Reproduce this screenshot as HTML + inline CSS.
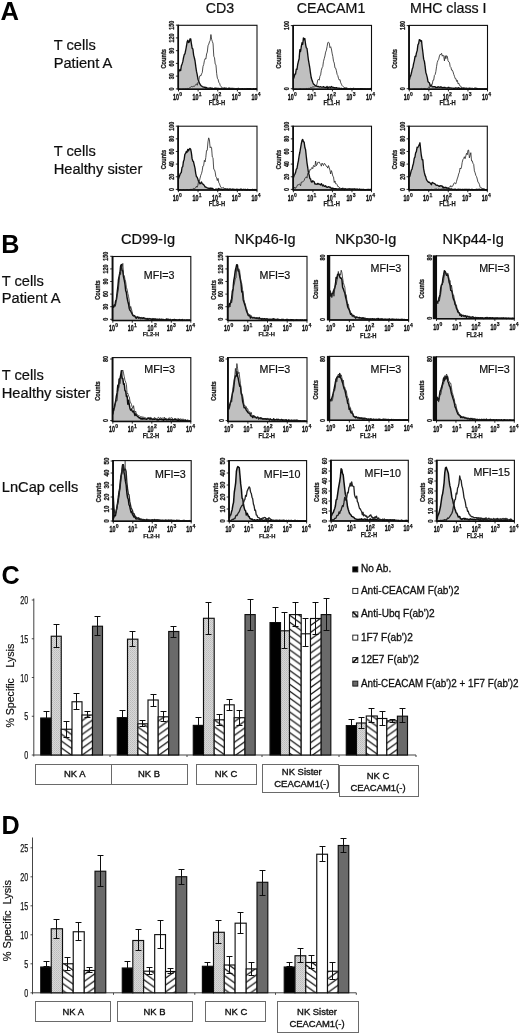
<!DOCTYPE html>
<html><head><meta charset="utf-8"><title>Figure</title>
<style>
html,body{margin:0;padding:0;background:#fff;}
body{width:520px;height:1035px;overflow:hidden;font-family:"Liberation Sans",sans-serif;}
svg{display:block;font-family:"Liberation Sans",sans-serif;will-change:transform;opacity:0.999;}
</style></head><body>
<svg width="520" height="1035" viewBox="0 0 520 1035">
<defs>
<pattern id="dots" width="2" height="2" patternUnits="userSpaceOnUse"><rect width="2" height="2" fill="#d8d8d8"/><rect width="1" height="1" fill="#bcbcbc"/><rect x="1" y="1" width="1" height="1" fill="#c4c4c4"/></pattern>
<pattern id="hb" width="9.6" height="6.9" patternUnits="userSpaceOnUse"><rect width="9.6" height="6.9" fill="#fff"/><path d="M-9.60,-13.80 L19.20,6.90 M-9.60,-6.90 L19.20,13.80 M-9.60,0.00 L19.20,20.70" stroke="#111" stroke-width="1.25"/></pattern>
<pattern id="hf" width="9.6" height="6.9" patternUnits="userSpaceOnUse"><rect width="9.6" height="6.9" fill="#fff"/><path d="M-9.60,6.90 L19.20,-13.80 M-9.60,13.80 L19.20,-6.90 M-9.60,20.70 L19.20,0.00" stroke="#111" stroke-width="1.25"/></pattern>
<filter id="soft" x="0" y="0" width="520" height="1035" filterUnits="userSpaceOnUse"><feGaussianBlur stdDeviation="0.45"/></filter>
</defs>
<rect width="520" height="1035" fill="#fff"/>
<g filter="url(#soft)">
<text x="0.60" y="19.50" font-size="25.6" text-anchor="start" font-weight="bold" fill="#000" >A</text>
<text x="205.80" y="12.80" font-size="14.2" text-anchor="start" font-weight="normal" fill="#111"  stroke="#111" stroke-width="0.22">CD3</text>
<text x="296.70" y="12.80" font-size="14.2" text-anchor="start" font-weight="normal" fill="#111"  stroke="#111" stroke-width="0.22">CEACAM1</text>
<text x="410.10" y="12.80" font-size="14.2" text-anchor="start" font-weight="normal" fill="#111"  stroke="#111" stroke-width="0.22">MHC class I</text>
<text x="53.70" y="50.30" font-size="14.65" text-anchor="start" font-weight="normal" fill="#111"  stroke="#111" stroke-width="0.22">T cells</text>
<text x="53.70" y="67.70" font-size="14.65" text-anchor="start" font-weight="normal" fill="#111"  stroke="#111" stroke-width="0.22">Patient A</text>
<text x="53.70" y="156.40" font-size="14.65" text-anchor="start" font-weight="normal" fill="#111"  stroke="#111" stroke-width="0.22">T cells</text>
<text x="53.70" y="173.90" font-size="14.65" text-anchor="start" font-weight="normal" fill="#111"  stroke="#111" stroke-width="0.22">Healthy sister</text>
<g>
<path d="M178.50,89.20 L178.50,71.95 L179.22,70.63 L179.94,69.53 L180.66,70.61 L181.38,65.66 L182.10,63.88 L182.82,61.65 L183.54,57.70 L184.26,54.59 L184.98,53.71 L185.70,50.14 L186.42,46.36 L187.14,41.86 L187.86,40.32 L188.58,42.61 L189.30,41.93 L190.02,38.99 L190.74,38.86 L191.46,44.06 L192.18,48.27 L192.90,48.96 L193.62,55.08 L194.34,57.76 L195.06,61.02 L195.78,66.58 L196.50,71.45 L197.22,74.70 L197.94,79.14 L198.67,81.14 L199.39,83.21 L200.11,84.34 L200.83,85.44 L201.55,85.97 L202.27,86.58 L202.99,86.81 L203.71,87.11 L204.43,87.24 L205.15,87.06 L205.87,88.18 L206.59,87.44 L207.31,88.00 L208.03,88.34 L208.75,88.08 L209.47,88.05 L210.19,87.84 L210.91,88.44 L211.63,88.15 L212.35,88.22 L213.07,88.70 L213.79,88.61 L214.51,88.23 L215.23,88.26 L215.95,88.22 L216.67,88.38 L217.39,88.45 L218.11,88.53 L218.83,88.32 L219.55,88.75 L220.27,88.61 L220.99,88.51 L221.71,88.91 L222.43,88.34 L223.15,88.76 L223.87,88.62 L224.59,88.20 L225.31,88.78 L226.03,88.73 L226.75,88.33 L227.47,88.85 L228.19,88.73 L228.91,88.55 L229.63,88.57 L230.35,88.55 L231.07,88.60 L231.79,88.43 L232.51,88.49 L233.23,88.58 L233.95,88.82 L234.67,88.83 L235.39,89.05 L236.11,88.59 L236.83,89.04 L237.56,88.57 L238.28,88.40 L239.00,88.92 L239.72,88.86 L240.44,88.83 L241.16,88.61 L241.88,88.90 L242.60,88.79 L243.32,88.86 L244.04,88.82 L244.76,88.57 L245.48,88.95 L246.20,88.78 L246.92,88.75 L247.64,88.67 L248.36,89.01 L249.08,88.64 L249.80,88.75 L250.52,88.69 L251.24,88.82 L251.96,89.09 L252.68,88.94 L253.40,88.73 L254.12,88.85 L254.84,88.87 L255.56,88.60 L256.28,88.55 L257.00,88.88 L257.00,89.20 Z" fill="#c0c0c0" stroke="none"/>
<path d="M178.50,71.95 L179.22,70.63 L179.94,69.53 L180.66,70.61 L181.38,65.66 L182.10,63.88 L182.82,61.65 L183.54,57.70 L184.26,54.59 L184.98,53.71 L185.70,50.14 L186.42,46.36 L187.14,41.86 L187.86,40.32 L188.58,42.61 L189.30,41.93 L190.02,38.99 L190.74,38.86 L191.46,44.06 L192.18,48.27 L192.90,48.96 L193.62,55.08 L194.34,57.76 L195.06,61.02 L195.78,66.58 L196.50,71.45 L197.22,74.70 L197.94,79.14 L198.67,81.14 L199.39,83.21 L200.11,84.34 L200.83,85.44 L201.55,85.97 L202.27,86.58 L202.99,86.81 L203.71,87.11 L204.43,87.24 L205.15,87.06 L205.87,88.18 L206.59,87.44 L207.31,88.00 L208.03,88.34 L208.75,88.08 L209.47,88.05 L210.19,87.84 L210.91,88.44 L211.63,88.15 L212.35,88.22 L213.07,88.70 L213.79,88.61 L214.51,88.23 L215.23,88.26 L215.95,88.22 L216.67,88.38 L217.39,88.45 L218.11,88.53 L218.83,88.32 L219.55,88.75 L220.27,88.61 L220.99,88.51 L221.71,88.91 L222.43,88.34 L223.15,88.76 L223.87,88.62 L224.59,88.20 L225.31,88.78 L226.03,88.73 L226.75,88.33 L227.47,88.85 L228.19,88.73 L228.91,88.55 L229.63,88.57 L230.35,88.55 L231.07,88.60 L231.79,88.43 L232.51,88.49 L233.23,88.58 L233.95,88.82 L234.67,88.83 L235.39,89.05 L236.11,88.59 L236.83,89.04 L237.56,88.57 L238.28,88.40 L239.00,88.92 L239.72,88.86 L240.44,88.83 L241.16,88.61 L241.88,88.90 L242.60,88.79 L243.32,88.86 L244.04,88.82 L244.76,88.57 L245.48,88.95 L246.20,88.78 L246.92,88.75 L247.64,88.67 L248.36,89.01 L249.08,88.64 L249.80,88.75 L250.52,88.69 L251.24,88.82 L251.96,89.09 L252.68,88.94 L253.40,88.73 L254.12,88.85 L254.84,88.87 L255.56,88.60 L256.28,88.55 L257.00,88.88" fill="none" stroke="#111" stroke-width="1.35" stroke-linejoin="round"/>
<path d="M178.50,89.20 L179.22,89.08 L179.94,88.83 L180.66,89.12 L181.38,89.15 L182.10,89.04 L182.82,88.92 L183.54,88.93 L184.26,88.97 L184.98,89.04 L185.70,88.65 L186.42,88.81 L187.14,88.99 L187.86,88.22 L188.58,88.61 L189.30,88.03 L190.02,87.49 L190.74,87.21 L191.46,86.46 L192.18,86.65 L192.90,86.77 L193.62,86.25 L194.34,86.47 L195.06,85.50 L195.78,84.55 L196.50,83.77 L197.22,85.26 L197.94,82.50 L198.67,81.76 L199.39,76.86 L200.11,75.45 L200.83,75.92 L201.55,73.93 L202.27,72.51 L202.99,66.54 L203.71,64.57 L204.43,60.48 L205.15,58.56 L205.87,59.07 L206.59,54.01 L207.31,52.07 L208.03,45.68 L208.75,44.18 L209.47,41.82 L210.19,40.40 L210.91,34.53 L211.63,39.35 L212.35,41.50 L213.07,43.71 L213.79,56.25 L214.51,57.76 L215.23,64.14 L215.95,64.86 L216.67,73.56 L217.39,78.29 L218.11,79.38 L218.83,82.35 L219.55,83.25 L220.27,85.55 L220.99,86.60 L221.71,87.04 L222.43,88.38 L223.15,87.85 L223.87,88.05 L224.59,87.92 L225.31,87.87 L226.03,87.94 L226.75,88.21 L227.47,88.59 L228.19,87.81 L228.91,87.97 L229.63,87.76 L230.35,88.09 L231.07,88.53 L231.79,88.43 L232.51,88.53 L233.23,88.37 L233.95,88.30 L234.67,88.46 L235.39,88.78 L236.11,88.68 L236.83,88.46 L237.56,88.53 L238.28,88.67 L239.00,88.45 L239.72,88.93 L240.44,88.78 L241.16,88.69 L241.88,88.96 L242.60,89.11 L243.32,89.04 L244.04,88.54 L244.76,89.20 L245.48,88.88 L246.20,89.04 L246.92,88.61 L247.64,89.20 L248.36,89.05 L249.08,89.20 L249.80,89.16 L250.52,89.05 L251.24,89.09 L251.96,88.97 L252.68,89.20 L253.40,89.20 L254.12,89.06 L254.84,89.20 L255.56,89.20 L256.28,89.20 L257.00,89.20" fill="none" stroke="#222" stroke-width="0.8" stroke-linejoin="round"/>
<rect x="178.50" y="25.30" width="78.50" height="63.90" fill="none" stroke="#111" stroke-width="1.1"/>
<line x1="178.15" y1="24.80" x2="178.15" y2="89.70" stroke="#111" stroke-width="1.7"/>
<line x1="178.50" y1="89.20" x2="257.00" y2="89.20" stroke="#111" stroke-width="1.5"/>
<text x="178.90" y="99.80" font-size="8.7" text-anchor="end" font-weight="bold" fill="#111" stroke="#111" stroke-width="0.35" textLength="6.0" lengthAdjust="spacingAndGlyphs">10</text>
<text x="179.20" y="95.90" font-size="6.0" text-anchor="start" font-weight="bold" fill="#111" stroke="#111" stroke-width="0.25" textLength="2.8" lengthAdjust="spacingAndGlyphs">0</text>
<line x1="178.50" y1="89.20" x2="178.50" y2="91.40" stroke="#111" stroke-width="0.9"/>
<text x="198.53" y="99.80" font-size="8.7" text-anchor="end" font-weight="bold" fill="#111" stroke="#111" stroke-width="0.35" textLength="6.0" lengthAdjust="spacingAndGlyphs">10</text>
<text x="198.82" y="95.90" font-size="6.0" text-anchor="start" font-weight="bold" fill="#111" stroke="#111" stroke-width="0.25" textLength="2.8" lengthAdjust="spacingAndGlyphs">1</text>
<line x1="198.12" y1="89.20" x2="198.12" y2="91.40" stroke="#111" stroke-width="0.9"/>
<text x="218.15" y="99.80" font-size="8.7" text-anchor="end" font-weight="bold" fill="#111" stroke="#111" stroke-width="0.35" textLength="6.0" lengthAdjust="spacingAndGlyphs">10</text>
<text x="218.45" y="95.90" font-size="6.0" text-anchor="start" font-weight="bold" fill="#111" stroke="#111" stroke-width="0.25" textLength="2.8" lengthAdjust="spacingAndGlyphs">2</text>
<line x1="217.75" y1="89.20" x2="217.75" y2="91.40" stroke="#111" stroke-width="0.9"/>
<text x="237.78" y="99.80" font-size="8.7" text-anchor="end" font-weight="bold" fill="#111" stroke="#111" stroke-width="0.35" textLength="6.0" lengthAdjust="spacingAndGlyphs">10</text>
<text x="238.07" y="95.90" font-size="6.0" text-anchor="start" font-weight="bold" fill="#111" stroke="#111" stroke-width="0.25" textLength="2.8" lengthAdjust="spacingAndGlyphs">3</text>
<line x1="237.38" y1="89.20" x2="237.38" y2="91.40" stroke="#111" stroke-width="0.9"/>
<text x="257.40" y="99.80" font-size="8.7" text-anchor="end" font-weight="bold" fill="#111" stroke="#111" stroke-width="0.35" textLength="6.0" lengthAdjust="spacingAndGlyphs">10</text>
<text x="257.70" y="95.90" font-size="6.0" text-anchor="start" font-weight="bold" fill="#111" stroke="#111" stroke-width="0.25" textLength="2.8" lengthAdjust="spacingAndGlyphs">4</text>
<line x1="257.00" y1="89.20" x2="257.00" y2="91.40" stroke="#111" stroke-width="0.9"/>
<text x="216.97" y="105.20" font-size="6.8" text-anchor="middle" font-weight="bold" fill="#1a1a1a" stroke="#1a1a1a" stroke-width="0.25" textLength="16.4" lengthAdjust="spacingAndGlyphs">FL3-H</text>
<text transform="translate(173.90,88.90) rotate(-90)" font-size="6.7" text-anchor="middle" font-weight="bold" fill="#1a1a1a" stroke="#1a1a1a" stroke-width="0.3" textLength="3.0" lengthAdjust="spacingAndGlyphs">0</text>
<line x1="175.90" y1="88.90" x2="178.50" y2="88.90" stroke="#111" stroke-width="0.9"/>
<text transform="translate(173.90,76.15) rotate(-90)" font-size="6.7" text-anchor="middle" font-weight="bold" fill="#1a1a1a" stroke="#1a1a1a" stroke-width="0.3" textLength="6.0" lengthAdjust="spacingAndGlyphs">30</text>
<line x1="175.90" y1="76.15" x2="178.50" y2="76.15" stroke="#111" stroke-width="0.9"/>
<text transform="translate(173.90,63.40) rotate(-90)" font-size="6.7" text-anchor="middle" font-weight="bold" fill="#1a1a1a" stroke="#1a1a1a" stroke-width="0.3" textLength="6.0" lengthAdjust="spacingAndGlyphs">60</text>
<line x1="175.90" y1="63.40" x2="178.50" y2="63.40" stroke="#111" stroke-width="0.9"/>
<text transform="translate(173.90,50.65) rotate(-90)" font-size="6.7" text-anchor="middle" font-weight="bold" fill="#1a1a1a" stroke="#1a1a1a" stroke-width="0.3" textLength="6.0" lengthAdjust="spacingAndGlyphs">90</text>
<line x1="175.90" y1="50.65" x2="178.50" y2="50.65" stroke="#111" stroke-width="0.9"/>
<text transform="translate(173.90,37.90) rotate(-90)" font-size="6.7" text-anchor="middle" font-weight="bold" fill="#1a1a1a" stroke="#1a1a1a" stroke-width="0.3" textLength="9.0" lengthAdjust="spacingAndGlyphs">120</text>
<line x1="175.90" y1="37.90" x2="178.50" y2="37.90" stroke="#111" stroke-width="0.9"/>
<text transform="translate(173.90,25.15) rotate(-90)" font-size="6.7" text-anchor="middle" font-weight="bold" fill="#1a1a1a" stroke="#1a1a1a" stroke-width="0.3" textLength="9.0" lengthAdjust="spacingAndGlyphs">150</text>
<line x1="175.90" y1="25.15" x2="178.50" y2="25.15" stroke="#111" stroke-width="0.9"/>
<text transform="translate(166.10,58.75) rotate(-90)" font-size="6.4" text-anchor="middle" font-weight="bold" fill="#1a1a1a" stroke="#1a1a1a" stroke-width="0.3" textLength="19.5" lengthAdjust="spacingAndGlyphs">Counts</text>
</g>
<g>
<path d="M293.40,89.20 L293.40,78.99 L294.12,77.13 L294.83,74.27 L295.55,74.09 L296.27,69.15 L296.98,69.28 L297.70,64.49 L298.42,61.32 L299.13,58.77 L299.85,49.67 L300.57,51.50 L301.28,46.61 L302.00,42.79 L302.71,44.39 L303.43,37.93 L304.15,39.70 L304.86,38.51 L305.58,44.29 L306.30,47.83 L307.01,48.41 L307.73,54.47 L308.45,60.06 L309.16,64.11 L309.88,68.37 L310.60,73.82 L311.31,78.03 L312.03,80.22 L312.75,82.31 L313.46,84.06 L314.18,84.30 L314.90,85.27 L315.61,85.72 L316.33,85.97 L317.04,86.41 L317.76,86.46 L318.48,86.42 L319.19,86.96 L319.91,86.93 L320.63,86.73 L321.34,87.10 L322.06,87.15 L322.78,87.07 L323.49,86.63 L324.21,87.09 L324.93,87.38 L325.64,87.49 L326.36,87.33 L327.08,86.49 L327.79,88.40 L328.51,87.10 L329.23,87.20 L329.94,86.98 L330.66,87.69 L331.38,86.55 L332.09,86.97 L332.81,87.40 L333.52,87.42 L334.24,87.81 L334.96,87.68 L335.67,87.86 L336.39,87.66 L337.11,87.95 L337.82,88.19 L338.54,88.11 L339.26,88.26 L339.97,88.43 L340.69,88.86 L341.41,88.36 L342.12,88.81 L342.84,88.79 L343.56,88.62 L344.27,88.50 L344.99,88.33 L345.71,88.95 L346.42,88.34 L347.14,88.32 L347.86,88.73 L348.57,88.69 L349.29,88.76 L350.00,88.77 L350.72,88.92 L351.44,88.99 L352.15,88.72 L352.87,88.64 L353.59,88.37 L354.30,88.89 L355.02,89.09 L355.74,88.69 L356.45,88.81 L357.17,88.67 L357.89,88.81 L358.60,88.97 L359.32,88.87 L360.04,88.63 L360.75,88.73 L361.47,88.94 L362.19,88.64 L362.90,89.03 L363.62,88.89 L364.33,88.78 L365.05,89.03 L365.77,89.01 L366.48,88.83 L367.20,88.85 L367.92,88.88 L368.63,88.94 L369.35,89.02 L370.07,88.98 L370.78,88.43 L371.50,88.97 L371.50,89.20 Z" fill="#c0c0c0" stroke="none"/>
<path d="M293.40,78.99 L294.12,77.13 L294.83,74.27 L295.55,74.09 L296.27,69.15 L296.98,69.28 L297.70,64.49 L298.42,61.32 L299.13,58.77 L299.85,49.67 L300.57,51.50 L301.28,46.61 L302.00,42.79 L302.71,44.39 L303.43,37.93 L304.15,39.70 L304.86,38.51 L305.58,44.29 L306.30,47.83 L307.01,48.41 L307.73,54.47 L308.45,60.06 L309.16,64.11 L309.88,68.37 L310.60,73.82 L311.31,78.03 L312.03,80.22 L312.75,82.31 L313.46,84.06 L314.18,84.30 L314.90,85.27 L315.61,85.72 L316.33,85.97 L317.04,86.41 L317.76,86.46 L318.48,86.42 L319.19,86.96 L319.91,86.93 L320.63,86.73 L321.34,87.10 L322.06,87.15 L322.78,87.07 L323.49,86.63 L324.21,87.09 L324.93,87.38 L325.64,87.49 L326.36,87.33 L327.08,86.49 L327.79,88.40 L328.51,87.10 L329.23,87.20 L329.94,86.98 L330.66,87.69 L331.38,86.55 L332.09,86.97 L332.81,87.40 L333.52,87.42 L334.24,87.81 L334.96,87.68 L335.67,87.86 L336.39,87.66 L337.11,87.95 L337.82,88.19 L338.54,88.11 L339.26,88.26 L339.97,88.43 L340.69,88.86 L341.41,88.36 L342.12,88.81 L342.84,88.79 L343.56,88.62 L344.27,88.50 L344.99,88.33 L345.71,88.95 L346.42,88.34 L347.14,88.32 L347.86,88.73 L348.57,88.69 L349.29,88.76 L350.00,88.77 L350.72,88.92 L351.44,88.99 L352.15,88.72 L352.87,88.64 L353.59,88.37 L354.30,88.89 L355.02,89.09 L355.74,88.69 L356.45,88.81 L357.17,88.67 L357.89,88.81 L358.60,88.97 L359.32,88.87 L360.04,88.63 L360.75,88.73 L361.47,88.94 L362.19,88.64 L362.90,89.03 L363.62,88.89 L364.33,88.78 L365.05,89.03 L365.77,89.01 L366.48,88.83 L367.20,88.85 L367.92,88.88 L368.63,88.94 L369.35,89.02 L370.07,88.98 L370.78,88.43 L371.50,88.97" fill="none" stroke="#111" stroke-width="1.35" stroke-linejoin="round"/>
<path d="M293.40,89.20 L294.12,89.20 L294.83,89.04 L295.55,89.02 L296.27,89.02 L296.98,88.95 L297.70,89.15 L298.42,89.04 L299.13,89.06 L299.85,88.74 L300.57,88.66 L301.28,88.99 L302.00,88.83 L302.71,89.01 L303.43,88.91 L304.15,88.95 L304.86,88.76 L305.58,88.79 L306.30,88.49 L307.01,88.51 L307.73,88.85 L308.45,88.38 L309.16,88.45 L309.88,88.24 L310.60,87.47 L311.31,87.85 L312.03,87.13 L312.75,86.97 L313.46,86.85 L314.18,87.31 L314.90,86.36 L315.61,86.19 L316.33,85.80 L317.04,83.80 L317.76,80.04 L318.48,79.21 L319.19,80.19 L319.91,76.22 L320.63,74.83 L321.34,70.32 L322.06,67.83 L322.78,66.62 L323.49,61.36 L324.21,58.69 L324.93,56.01 L325.64,52.08 L326.36,50.33 L327.08,46.58 L327.79,42.57 L328.51,42.21 L329.23,43.04 L329.94,47.66 L330.66,46.72 L331.38,48.99 L332.09,53.13 L332.81,56.40 L333.52,61.32 L334.24,62.96 L334.96,67.87 L335.67,68.17 L336.39,70.69 L337.11,74.40 L337.82,75.57 L338.54,78.56 L339.26,80.12 L339.97,79.48 L340.69,82.72 L341.41,84.15 L342.12,85.62 L342.84,86.42 L343.56,86.94 L344.27,87.41 L344.99,88.00 L345.71,87.80 L346.42,87.65 L347.14,88.58 L347.86,88.72 L348.57,88.97 L349.29,88.79 L350.00,88.81 L350.72,88.33 L351.44,88.97 L352.15,88.74 L352.87,88.47 L353.59,88.61 L354.30,88.54 L355.02,88.93 L355.74,88.62 L356.45,89.07 L357.17,88.78 L357.89,88.77 L358.60,88.96 L359.32,88.80 L360.04,89.04 L360.75,89.17 L361.47,89.00 L362.19,88.95 L362.90,89.19 L363.62,89.07 L364.33,89.19 L365.05,89.20 L365.77,88.85 L366.48,88.97 L367.20,89.11 L367.92,89.19 L368.63,89.20 L369.35,89.20 L370.07,89.16 L370.78,89.08 L371.50,89.20" fill="none" stroke="#222" stroke-width="0.8" stroke-linejoin="round"/>
<rect x="293.40" y="25.40" width="78.10" height="63.80" fill="none" stroke="#111" stroke-width="1.1"/>
<line x1="293.05" y1="24.90" x2="293.05" y2="89.70" stroke="#111" stroke-width="1.7"/>
<line x1="293.40" y1="89.20" x2="371.50" y2="89.20" stroke="#111" stroke-width="1.5"/>
<text x="293.80" y="99.80" font-size="8.7" text-anchor="end" font-weight="bold" fill="#111" stroke="#111" stroke-width="0.35" textLength="6.0" lengthAdjust="spacingAndGlyphs">10</text>
<text x="294.10" y="95.90" font-size="6.0" text-anchor="start" font-weight="bold" fill="#111" stroke="#111" stroke-width="0.25" textLength="2.8" lengthAdjust="spacingAndGlyphs">0</text>
<line x1="293.40" y1="89.20" x2="293.40" y2="91.40" stroke="#111" stroke-width="0.9"/>
<text x="313.32" y="99.80" font-size="8.7" text-anchor="end" font-weight="bold" fill="#111" stroke="#111" stroke-width="0.35" textLength="6.0" lengthAdjust="spacingAndGlyphs">10</text>
<text x="313.62" y="95.90" font-size="6.0" text-anchor="start" font-weight="bold" fill="#111" stroke="#111" stroke-width="0.25" textLength="2.8" lengthAdjust="spacingAndGlyphs">1</text>
<line x1="312.92" y1="89.20" x2="312.92" y2="91.40" stroke="#111" stroke-width="0.9"/>
<text x="332.85" y="99.80" font-size="8.7" text-anchor="end" font-weight="bold" fill="#111" stroke="#111" stroke-width="0.35" textLength="6.0" lengthAdjust="spacingAndGlyphs">10</text>
<text x="333.15" y="95.90" font-size="6.0" text-anchor="start" font-weight="bold" fill="#111" stroke="#111" stroke-width="0.25" textLength="2.8" lengthAdjust="spacingAndGlyphs">2</text>
<line x1="332.45" y1="89.20" x2="332.45" y2="91.40" stroke="#111" stroke-width="0.9"/>
<text x="352.38" y="99.80" font-size="8.7" text-anchor="end" font-weight="bold" fill="#111" stroke="#111" stroke-width="0.35" textLength="6.0" lengthAdjust="spacingAndGlyphs">10</text>
<text x="352.68" y="95.90" font-size="6.0" text-anchor="start" font-weight="bold" fill="#111" stroke="#111" stroke-width="0.25" textLength="2.8" lengthAdjust="spacingAndGlyphs">3</text>
<line x1="351.98" y1="89.20" x2="351.98" y2="91.40" stroke="#111" stroke-width="0.9"/>
<text x="371.90" y="99.80" font-size="8.7" text-anchor="end" font-weight="bold" fill="#111" stroke="#111" stroke-width="0.35" textLength="6.0" lengthAdjust="spacingAndGlyphs">10</text>
<text x="372.20" y="95.90" font-size="6.0" text-anchor="start" font-weight="bold" fill="#111" stroke="#111" stroke-width="0.25" textLength="2.8" lengthAdjust="spacingAndGlyphs">4</text>
<line x1="371.50" y1="89.20" x2="371.50" y2="91.40" stroke="#111" stroke-width="0.9"/>
<text x="331.67" y="105.20" font-size="6.8" text-anchor="middle" font-weight="bold" fill="#1a1a1a" stroke="#1a1a1a" stroke-width="0.25" textLength="16.4" lengthAdjust="spacingAndGlyphs">FL1-H</text>
<text transform="translate(288.80,88.70) rotate(-90)" font-size="6.7" text-anchor="middle" font-weight="bold" fill="#1a1a1a" stroke="#1a1a1a" stroke-width="0.3" textLength="3.0" lengthAdjust="spacingAndGlyphs">0</text>
<line x1="290.80" y1="88.70" x2="293.40" y2="88.70" stroke="#111" stroke-width="0.9"/>
<text transform="translate(288.80,25.60) rotate(-90)" font-size="6.7" text-anchor="middle" font-weight="bold" fill="#1a1a1a" stroke="#1a1a1a" stroke-width="0.3" textLength="9.0" lengthAdjust="spacingAndGlyphs">100</text>
<line x1="290.80" y1="25.60" x2="293.40" y2="25.60" stroke="#111" stroke-width="0.9"/>
<text transform="translate(281.00,58.80) rotate(-90)" font-size="6.4" text-anchor="middle" font-weight="bold" fill="#1a1a1a" stroke="#1a1a1a" stroke-width="0.3" textLength="19.5" lengthAdjust="spacingAndGlyphs">Counts</text>
</g>
<g>
<path d="M409.30,89.20 L409.30,80.27 L410.02,77.00 L410.73,75.59 L411.45,72.77 L412.17,69.35 L412.89,67.59 L413.60,63.58 L414.32,60.84 L415.04,56.45 L415.76,56.63 L416.47,52.92 L417.19,50.60 L417.91,44.80 L418.63,43.66 L419.34,39.60 L420.06,39.85 L420.78,41.31 L421.50,40.67 L422.21,47.20 L422.93,52.76 L423.65,59.13 L424.37,61.18 L425.08,66.15 L425.80,72.33 L426.52,74.67 L427.24,77.40 L427.95,81.47 L428.67,82.37 L429.39,82.78 L430.11,85.66 L430.82,85.50 L431.54,85.53 L432.26,86.90 L432.98,86.94 L433.69,86.73 L434.41,86.67 L435.13,86.76 L435.84,87.54 L436.56,87.30 L437.28,87.02 L438.00,87.23 L438.71,86.74 L439.43,87.32 L440.15,87.39 L440.87,86.66 L441.58,87.40 L442.30,87.76 L443.02,87.49 L443.74,87.62 L444.45,87.37 L445.17,87.52 L445.89,87.82 L446.61,87.89 L447.32,87.99 L448.04,87.49 L448.76,87.34 L449.48,87.96 L450.19,87.81 L450.91,87.88 L451.63,88.15 L452.35,88.17 L453.06,88.17 L453.78,88.58 L454.50,88.28 L455.22,87.97 L455.93,87.86 L456.65,88.18 L457.37,88.24 L458.09,87.99 L458.80,87.65 L459.52,88.43 L460.24,88.41 L460.96,88.34 L461.67,88.11 L462.39,88.48 L463.11,88.17 L463.82,88.48 L464.54,88.18 L465.26,88.41 L465.98,88.46 L466.69,88.18 L467.41,88.66 L468.13,88.58 L468.85,88.26 L469.56,88.27 L470.28,88.41 L471.00,88.95 L471.72,88.34 L472.43,88.44 L473.15,88.60 L473.87,88.95 L474.59,88.40 L475.30,88.23 L476.02,88.50 L476.74,88.36 L477.46,88.76 L478.17,88.62 L478.89,88.79 L479.61,88.89 L480.33,88.77 L481.04,88.88 L481.76,88.87 L482.48,88.89 L483.20,88.84 L483.91,88.84 L484.63,88.79 L485.35,89.02 L486.07,88.80 L486.78,89.13 L487.50,88.86 L487.50,89.20 Z" fill="#c0c0c0" stroke="none"/>
<path d="M409.30,80.27 L410.02,77.00 L410.73,75.59 L411.45,72.77 L412.17,69.35 L412.89,67.59 L413.60,63.58 L414.32,60.84 L415.04,56.45 L415.76,56.63 L416.47,52.92 L417.19,50.60 L417.91,44.80 L418.63,43.66 L419.34,39.60 L420.06,39.85 L420.78,41.31 L421.50,40.67 L422.21,47.20 L422.93,52.76 L423.65,59.13 L424.37,61.18 L425.08,66.15 L425.80,72.33 L426.52,74.67 L427.24,77.40 L427.95,81.47 L428.67,82.37 L429.39,82.78 L430.11,85.66 L430.82,85.50 L431.54,85.53 L432.26,86.90 L432.98,86.94 L433.69,86.73 L434.41,86.67 L435.13,86.76 L435.84,87.54 L436.56,87.30 L437.28,87.02 L438.00,87.23 L438.71,86.74 L439.43,87.32 L440.15,87.39 L440.87,86.66 L441.58,87.40 L442.30,87.76 L443.02,87.49 L443.74,87.62 L444.45,87.37 L445.17,87.52 L445.89,87.82 L446.61,87.89 L447.32,87.99 L448.04,87.49 L448.76,87.34 L449.48,87.96 L450.19,87.81 L450.91,87.88 L451.63,88.15 L452.35,88.17 L453.06,88.17 L453.78,88.58 L454.50,88.28 L455.22,87.97 L455.93,87.86 L456.65,88.18 L457.37,88.24 L458.09,87.99 L458.80,87.65 L459.52,88.43 L460.24,88.41 L460.96,88.34 L461.67,88.11 L462.39,88.48 L463.11,88.17 L463.82,88.48 L464.54,88.18 L465.26,88.41 L465.98,88.46 L466.69,88.18 L467.41,88.66 L468.13,88.58 L468.85,88.26 L469.56,88.27 L470.28,88.41 L471.00,88.95 L471.72,88.34 L472.43,88.44 L473.15,88.60 L473.87,88.95 L474.59,88.40 L475.30,88.23 L476.02,88.50 L476.74,88.36 L477.46,88.76 L478.17,88.62 L478.89,88.79 L479.61,88.89 L480.33,88.77 L481.04,88.88 L481.76,88.87 L482.48,88.89 L483.20,88.84 L483.91,88.84 L484.63,88.79 L485.35,89.02 L486.07,88.80 L486.78,89.13 L487.50,88.86" fill="none" stroke="#111" stroke-width="1.35" stroke-linejoin="round"/>
<path d="M409.30,89.20 L410.02,89.00 L410.73,89.11 L411.45,89.20 L412.17,89.13 L412.89,88.85 L413.60,88.85 L414.32,88.81 L415.04,88.81 L415.76,88.83 L416.47,88.87 L417.19,88.89 L417.91,88.85 L418.63,88.90 L419.34,88.94 L420.06,88.63 L420.78,88.75 L421.50,88.45 L422.21,88.95 L422.93,88.68 L423.65,88.61 L424.37,88.48 L425.08,88.75 L425.80,88.71 L426.52,89.19 L427.24,88.59 L427.95,87.87 L428.67,87.22 L429.39,87.83 L430.11,86.11 L430.82,86.85 L431.54,84.29 L432.26,84.42 L432.98,80.21 L433.69,80.13 L434.41,75.43 L435.13,74.62 L435.84,71.69 L436.56,66.64 L437.28,62.33 L438.00,60.36 L438.71,59.28 L439.43,55.93 L440.15,54.30 L440.87,54.62 L441.58,53.34 L442.30,56.19 L443.02,55.11 L443.74,56.32 L444.45,60.99 L445.17,55.66 L445.89,58.69 L446.61,55.67 L447.32,56.32 L448.04,60.84 L448.76,61.94 L449.48,62.33 L450.19,66.62 L450.91,67.34 L451.63,70.19 L452.35,70.16 L453.06,71.93 L453.78,74.42 L454.50,76.38 L455.22,78.67 L455.93,78.65 L456.65,81.43 L457.37,80.42 L458.09,83.94 L458.80,83.20 L459.52,85.42 L460.24,85.67 L460.96,86.90 L461.67,87.13 L462.39,88.25 L463.11,87.95 L463.82,87.93 L464.54,88.32 L465.26,88.32 L465.98,88.30 L466.69,88.79 L467.41,88.49 L468.13,88.68 L468.85,88.60 L469.56,89.06 L470.28,88.43 L471.00,88.50 L471.72,88.70 L472.43,88.81 L473.15,88.92 L473.87,88.60 L474.59,88.43 L475.30,88.88 L476.02,88.89 L476.74,89.06 L477.46,89.06 L478.17,88.81 L478.89,89.20 L479.61,88.93 L480.33,88.61 L481.04,89.14 L481.76,89.20 L482.48,88.97 L483.20,89.20 L483.91,89.20 L484.63,89.15 L485.35,89.07 L486.07,89.07 L486.78,88.98 L487.50,88.97" fill="none" stroke="#222" stroke-width="0.8" stroke-linejoin="round"/>
<rect x="409.30" y="25.40" width="78.20" height="63.80" fill="none" stroke="#111" stroke-width="1.1"/>
<line x1="408.95" y1="24.90" x2="408.95" y2="89.70" stroke="#111" stroke-width="1.7"/>
<line x1="409.30" y1="89.20" x2="487.50" y2="89.20" stroke="#111" stroke-width="1.5"/>
<text x="409.70" y="99.80" font-size="8.7" text-anchor="end" font-weight="bold" fill="#111" stroke="#111" stroke-width="0.35" textLength="6.0" lengthAdjust="spacingAndGlyphs">10</text>
<text x="410.00" y="95.90" font-size="6.0" text-anchor="start" font-weight="bold" fill="#111" stroke="#111" stroke-width="0.25" textLength="2.8" lengthAdjust="spacingAndGlyphs">0</text>
<line x1="409.30" y1="89.20" x2="409.30" y2="91.40" stroke="#111" stroke-width="0.9"/>
<text x="429.25" y="99.80" font-size="8.7" text-anchor="end" font-weight="bold" fill="#111" stroke="#111" stroke-width="0.35" textLength="6.0" lengthAdjust="spacingAndGlyphs">10</text>
<text x="429.55" y="95.90" font-size="6.0" text-anchor="start" font-weight="bold" fill="#111" stroke="#111" stroke-width="0.25" textLength="2.8" lengthAdjust="spacingAndGlyphs">1</text>
<line x1="428.85" y1="89.20" x2="428.85" y2="91.40" stroke="#111" stroke-width="0.9"/>
<text x="448.80" y="99.80" font-size="8.7" text-anchor="end" font-weight="bold" fill="#111" stroke="#111" stroke-width="0.35" textLength="6.0" lengthAdjust="spacingAndGlyphs">10</text>
<text x="449.10" y="95.90" font-size="6.0" text-anchor="start" font-weight="bold" fill="#111" stroke="#111" stroke-width="0.25" textLength="2.8" lengthAdjust="spacingAndGlyphs">2</text>
<line x1="448.40" y1="89.20" x2="448.40" y2="91.40" stroke="#111" stroke-width="0.9"/>
<text x="468.35" y="99.80" font-size="8.7" text-anchor="end" font-weight="bold" fill="#111" stroke="#111" stroke-width="0.35" textLength="6.0" lengthAdjust="spacingAndGlyphs">10</text>
<text x="468.65" y="95.90" font-size="6.0" text-anchor="start" font-weight="bold" fill="#111" stroke="#111" stroke-width="0.25" textLength="2.8" lengthAdjust="spacingAndGlyphs">3</text>
<line x1="467.95" y1="89.20" x2="467.95" y2="91.40" stroke="#111" stroke-width="0.9"/>
<text x="487.90" y="99.80" font-size="8.7" text-anchor="end" font-weight="bold" fill="#111" stroke="#111" stroke-width="0.35" textLength="6.0" lengthAdjust="spacingAndGlyphs">10</text>
<text x="488.20" y="95.90" font-size="6.0" text-anchor="start" font-weight="bold" fill="#111" stroke="#111" stroke-width="0.25" textLength="2.8" lengthAdjust="spacingAndGlyphs">4</text>
<line x1="487.50" y1="89.20" x2="487.50" y2="91.40" stroke="#111" stroke-width="0.9"/>
<text x="447.62" y="105.20" font-size="6.8" text-anchor="middle" font-weight="bold" fill="#1a1a1a" stroke="#1a1a1a" stroke-width="0.25" textLength="16.4" lengthAdjust="spacingAndGlyphs">FL1-H</text>
<text transform="translate(404.70,88.70) rotate(-90)" font-size="6.7" text-anchor="middle" font-weight="bold" fill="#1a1a1a" stroke="#1a1a1a" stroke-width="0.3" textLength="3.0" lengthAdjust="spacingAndGlyphs">0</text>
<line x1="406.70" y1="88.70" x2="409.30" y2="88.70" stroke="#111" stroke-width="0.9"/>
<text transform="translate(404.70,25.60) rotate(-90)" font-size="6.7" text-anchor="middle" font-weight="bold" fill="#1a1a1a" stroke="#1a1a1a" stroke-width="0.3" textLength="9.0" lengthAdjust="spacingAndGlyphs">180</text>
<line x1="406.70" y1="25.60" x2="409.30" y2="25.60" stroke="#111" stroke-width="0.9"/>
<text transform="translate(396.90,58.80) rotate(-90)" font-size="6.4" text-anchor="middle" font-weight="bold" fill="#1a1a1a" stroke="#1a1a1a" stroke-width="0.3" textLength="19.5" lengthAdjust="spacingAndGlyphs">Counts</text>
</g>
<g>
<path d="M178.40,190.00 L178.40,179.15 L179.12,176.89 L179.84,174.96 L180.56,173.02 L181.28,172.70 L182.01,167.48 L182.73,166.66 L183.45,161.43 L184.17,159.48 L184.89,154.15 L185.61,153.53 L186.33,151.36 L187.05,152.20 L187.77,149.40 L188.50,150.86 L189.22,149.26 L189.94,148.53 L190.66,149.16 L191.38,152.93 L192.10,158.63 L192.82,161.02 L193.54,161.80 L194.26,165.11 L194.99,168.17 L195.71,173.33 L196.43,176.55 L197.15,177.26 L197.87,179.31 L198.59,181.47 L199.31,182.49 L200.03,183.87 L200.75,183.11 L201.48,181.99 L202.20,183.73 L202.92,184.02 L203.64,184.64 L204.36,185.56 L205.08,187.00 L205.80,186.94 L206.52,187.51 L207.24,187.85 L207.97,188.19 L208.69,188.24 L209.41,188.70 L210.13,187.96 L210.85,188.69 L211.57,188.28 L212.29,188.41 L213.01,188.88 L213.73,189.30 L214.46,189.58 L215.18,189.44 L215.90,189.15 L216.62,189.05 L217.34,189.29 L218.06,189.23 L218.78,188.47 L219.50,189.06 L220.22,189.43 L220.94,189.01 L221.67,189.39 L222.39,189.74 L223.11,189.15 L223.83,189.38 L224.55,189.20 L225.27,188.81 L225.99,189.21 L226.71,189.44 L227.43,188.89 L228.16,189.74 L228.88,189.53 L229.60,188.98 L230.32,188.97 L231.04,189.37 L231.76,189.48 L232.48,189.27 L233.20,189.28 L233.92,189.32 L234.65,189.47 L235.37,189.65 L236.09,189.54 L236.81,189.49 L237.53,189.50 L238.25,189.56 L238.97,189.46 L239.69,189.79 L240.41,189.28 L241.14,189.20 L241.86,189.59 L242.58,189.74 L243.30,189.43 L244.02,189.41 L244.74,189.54 L245.46,189.34 L246.18,189.63 L246.90,189.73 L247.63,189.29 L248.35,189.64 L249.07,189.64 L249.79,189.96 L250.51,189.65 L251.23,189.70 L251.95,189.61 L252.67,189.51 L253.39,189.60 L254.12,189.82 L254.84,189.49 L255.56,189.61 L256.28,189.59 L257.00,189.69 L257.00,190.00 Z" fill="#c0c0c0" stroke="none"/>
<path d="M178.40,179.15 L179.12,176.89 L179.84,174.96 L180.56,173.02 L181.28,172.70 L182.01,167.48 L182.73,166.66 L183.45,161.43 L184.17,159.48 L184.89,154.15 L185.61,153.53 L186.33,151.36 L187.05,152.20 L187.77,149.40 L188.50,150.86 L189.22,149.26 L189.94,148.53 L190.66,149.16 L191.38,152.93 L192.10,158.63 L192.82,161.02 L193.54,161.80 L194.26,165.11 L194.99,168.17 L195.71,173.33 L196.43,176.55 L197.15,177.26 L197.87,179.31 L198.59,181.47 L199.31,182.49 L200.03,183.87 L200.75,183.11 L201.48,181.99 L202.20,183.73 L202.92,184.02 L203.64,184.64 L204.36,185.56 L205.08,187.00 L205.80,186.94 L206.52,187.51 L207.24,187.85 L207.97,188.19 L208.69,188.24 L209.41,188.70 L210.13,187.96 L210.85,188.69 L211.57,188.28 L212.29,188.41 L213.01,188.88 L213.73,189.30 L214.46,189.58 L215.18,189.44 L215.90,189.15 L216.62,189.05 L217.34,189.29 L218.06,189.23 L218.78,188.47 L219.50,189.06 L220.22,189.43 L220.94,189.01 L221.67,189.39 L222.39,189.74 L223.11,189.15 L223.83,189.38 L224.55,189.20 L225.27,188.81 L225.99,189.21 L226.71,189.44 L227.43,188.89 L228.16,189.74 L228.88,189.53 L229.60,188.98 L230.32,188.97 L231.04,189.37 L231.76,189.48 L232.48,189.27 L233.20,189.28 L233.92,189.32 L234.65,189.47 L235.37,189.65 L236.09,189.54 L236.81,189.49 L237.53,189.50 L238.25,189.56 L238.97,189.46 L239.69,189.79 L240.41,189.28 L241.14,189.20 L241.86,189.59 L242.58,189.74 L243.30,189.43 L244.02,189.41 L244.74,189.54 L245.46,189.34 L246.18,189.63 L246.90,189.73 L247.63,189.29 L248.35,189.64 L249.07,189.64 L249.79,189.96 L250.51,189.65 L251.23,189.70 L251.95,189.61 L252.67,189.51 L253.39,189.60 L254.12,189.82 L254.84,189.49 L255.56,189.61 L256.28,189.59 L257.00,189.69" fill="none" stroke="#111" stroke-width="1.35" stroke-linejoin="round"/>
<path d="M178.40,190.00 L179.12,189.82 L179.84,190.00 L180.56,189.67 L181.28,189.86 L182.01,190.00 L182.73,189.97 L183.45,189.65 L184.17,189.98 L184.89,189.95 L185.61,189.82 L186.33,189.60 L187.05,189.55 L187.77,189.72 L188.50,189.88 L189.22,189.59 L189.94,189.53 L190.66,189.37 L191.38,189.39 L192.10,189.34 L192.82,189.20 L193.54,188.38 L194.26,188.70 L194.99,188.15 L195.71,187.88 L196.43,186.29 L197.15,187.19 L197.87,185.30 L198.59,181.36 L199.31,181.60 L200.03,178.23 L200.75,175.29 L201.48,173.70 L202.20,170.90 L202.92,166.04 L203.64,165.68 L204.36,160.35 L205.08,161.90 L205.80,157.41 L206.52,150.53 L207.24,150.39 L207.97,141.87 L208.69,137.85 L209.41,139.97 L210.13,147.78 L210.85,146.81 L211.57,147.73 L212.29,157.00 L213.01,157.68 L213.73,169.27 L214.46,169.70 L215.18,172.09 L215.90,176.73 L216.62,177.68 L217.34,180.54 L218.06,178.40 L218.78,182.74 L219.50,183.74 L220.22,186.07 L220.94,187.10 L221.67,188.11 L222.39,187.88 L223.11,187.33 L223.83,187.81 L224.55,188.89 L225.27,189.03 L225.99,189.55 L226.71,189.10 L227.43,189.58 L228.16,189.30 L228.88,189.09 L229.60,189.72 L230.32,189.48 L231.04,189.99 L231.76,189.76 L232.48,189.33 L233.20,189.90 L233.92,189.72 L234.65,189.66 L235.37,189.60 L236.09,189.39 L236.81,189.16 L237.53,189.30 L238.25,189.43 L238.97,189.89 L239.69,189.98 L240.41,189.42 L241.14,189.68 L241.86,189.47 L242.58,189.57 L243.30,189.52 L244.02,189.33 L244.74,189.76 L245.46,189.73 L246.18,189.89 L246.90,190.00 L247.63,189.87 L248.35,189.70 L249.07,189.69 L249.79,189.92 L250.51,189.86 L251.23,189.62 L251.95,190.00 L252.67,189.91 L253.39,189.69 L254.12,190.00 L254.84,190.00 L255.56,189.79 L256.28,190.00 L257.00,190.00" fill="none" stroke="#222" stroke-width="0.8" stroke-linejoin="round"/>
<rect x="178.40" y="126.20" width="78.60" height="63.80" fill="none" stroke="#111" stroke-width="1.1"/>
<line x1="178.05" y1="125.70" x2="178.05" y2="190.50" stroke="#111" stroke-width="1.7"/>
<line x1="178.40" y1="190.00" x2="257.00" y2="190.00" stroke="#111" stroke-width="1.5"/>
<text x="178.80" y="200.60" font-size="8.7" text-anchor="end" font-weight="bold" fill="#111" stroke="#111" stroke-width="0.35" textLength="6.0" lengthAdjust="spacingAndGlyphs">10</text>
<text x="179.10" y="196.70" font-size="6.0" text-anchor="start" font-weight="bold" fill="#111" stroke="#111" stroke-width="0.25" textLength="2.8" lengthAdjust="spacingAndGlyphs">0</text>
<line x1="178.40" y1="190.00" x2="178.40" y2="192.20" stroke="#111" stroke-width="0.9"/>
<text x="198.45" y="200.60" font-size="8.7" text-anchor="end" font-weight="bold" fill="#111" stroke="#111" stroke-width="0.35" textLength="6.0" lengthAdjust="spacingAndGlyphs">10</text>
<text x="198.75" y="196.70" font-size="6.0" text-anchor="start" font-weight="bold" fill="#111" stroke="#111" stroke-width="0.25" textLength="2.8" lengthAdjust="spacingAndGlyphs">1</text>
<line x1="198.05" y1="190.00" x2="198.05" y2="192.20" stroke="#111" stroke-width="0.9"/>
<text x="218.10" y="200.60" font-size="8.7" text-anchor="end" font-weight="bold" fill="#111" stroke="#111" stroke-width="0.35" textLength="6.0" lengthAdjust="spacingAndGlyphs">10</text>
<text x="218.40" y="196.70" font-size="6.0" text-anchor="start" font-weight="bold" fill="#111" stroke="#111" stroke-width="0.25" textLength="2.8" lengthAdjust="spacingAndGlyphs">2</text>
<line x1="217.70" y1="190.00" x2="217.70" y2="192.20" stroke="#111" stroke-width="0.9"/>
<text x="237.75" y="200.60" font-size="8.7" text-anchor="end" font-weight="bold" fill="#111" stroke="#111" stroke-width="0.35" textLength="6.0" lengthAdjust="spacingAndGlyphs">10</text>
<text x="238.05" y="196.70" font-size="6.0" text-anchor="start" font-weight="bold" fill="#111" stroke="#111" stroke-width="0.25" textLength="2.8" lengthAdjust="spacingAndGlyphs">3</text>
<line x1="237.35" y1="190.00" x2="237.35" y2="192.20" stroke="#111" stroke-width="0.9"/>
<text x="257.40" y="200.60" font-size="8.7" text-anchor="end" font-weight="bold" fill="#111" stroke="#111" stroke-width="0.35" textLength="6.0" lengthAdjust="spacingAndGlyphs">10</text>
<text x="257.70" y="196.70" font-size="6.0" text-anchor="start" font-weight="bold" fill="#111" stroke="#111" stroke-width="0.25" textLength="2.8" lengthAdjust="spacingAndGlyphs">4</text>
<line x1="257.00" y1="190.00" x2="257.00" y2="192.20" stroke="#111" stroke-width="0.9"/>
<text x="216.91" y="206.00" font-size="6.8" text-anchor="middle" font-weight="bold" fill="#1a1a1a" stroke="#1a1a1a" stroke-width="0.25" textLength="16.4" lengthAdjust="spacingAndGlyphs">FL3-H</text>
<text transform="translate(173.80,189.40) rotate(-90)" font-size="6.7" text-anchor="middle" font-weight="bold" fill="#1a1a1a" stroke="#1a1a1a" stroke-width="0.3" textLength="3.0" lengthAdjust="spacingAndGlyphs">0</text>
<line x1="175.80" y1="189.40" x2="178.40" y2="189.40" stroke="#111" stroke-width="0.9"/>
<text transform="translate(173.80,176.76) rotate(-90)" font-size="6.7" text-anchor="middle" font-weight="bold" fill="#1a1a1a" stroke="#1a1a1a" stroke-width="0.3" textLength="6.0" lengthAdjust="spacingAndGlyphs">20</text>
<line x1="175.80" y1="176.76" x2="178.40" y2="176.76" stroke="#111" stroke-width="0.9"/>
<text transform="translate(173.80,164.12) rotate(-90)" font-size="6.7" text-anchor="middle" font-weight="bold" fill="#1a1a1a" stroke="#1a1a1a" stroke-width="0.3" textLength="6.0" lengthAdjust="spacingAndGlyphs">40</text>
<line x1="175.80" y1="164.12" x2="178.40" y2="164.12" stroke="#111" stroke-width="0.9"/>
<text transform="translate(173.80,151.48) rotate(-90)" font-size="6.7" text-anchor="middle" font-weight="bold" fill="#1a1a1a" stroke="#1a1a1a" stroke-width="0.3" textLength="6.0" lengthAdjust="spacingAndGlyphs">60</text>
<line x1="175.80" y1="151.48" x2="178.40" y2="151.48" stroke="#111" stroke-width="0.9"/>
<text transform="translate(173.80,138.84) rotate(-90)" font-size="6.7" text-anchor="middle" font-weight="bold" fill="#1a1a1a" stroke="#1a1a1a" stroke-width="0.3" textLength="6.0" lengthAdjust="spacingAndGlyphs">80</text>
<line x1="175.80" y1="138.84" x2="178.40" y2="138.84" stroke="#111" stroke-width="0.9"/>
<text transform="translate(173.80,126.20) rotate(-90)" font-size="6.7" text-anchor="middle" font-weight="bold" fill="#1a1a1a" stroke="#1a1a1a" stroke-width="0.3" textLength="9.0" lengthAdjust="spacingAndGlyphs">100</text>
<line x1="175.80" y1="126.20" x2="178.40" y2="126.20" stroke="#111" stroke-width="0.9"/>
<text transform="translate(166.00,159.60) rotate(-90)" font-size="6.4" text-anchor="middle" font-weight="bold" fill="#1a1a1a" stroke="#1a1a1a" stroke-width="0.3" textLength="19.5" lengthAdjust="spacingAndGlyphs">Counts</text>
</g>
<g>
<path d="M293.40,190.00 L293.40,177.88 L294.12,175.49 L294.83,174.26 L295.55,172.57 L296.27,169.19 L296.98,168.51 L297.70,164.24 L298.42,160.63 L299.13,155.77 L299.85,152.25 L300.57,148.11 L301.28,143.79 L302.00,140.50 L302.71,139.52 L303.43,141.70 L304.15,142.14 L304.86,147.47 L305.58,149.60 L306.30,156.53 L307.01,162.83 L307.73,167.71 L308.45,172.70 L309.16,174.84 L309.88,178.55 L310.60,178.92 L311.31,181.80 L312.03,182.06 L312.75,180.83 L313.46,181.27 L314.18,181.71 L314.90,184.04 L315.61,183.99 L316.33,184.11 L317.04,184.43 L317.76,183.34 L318.48,184.02 L319.19,183.96 L319.91,184.54 L320.63,185.01 L321.34,183.63 L322.06,184.77 L322.78,185.95 L323.49,185.02 L324.21,186.27 L324.93,186.32 L325.64,185.75 L326.36,187.05 L327.08,187.04 L327.79,187.31 L328.51,186.69 L329.23,186.81 L329.94,187.69 L330.66,187.25 L331.38,188.59 L332.09,188.34 L332.81,188.02 L333.52,188.65 L334.24,188.58 L334.96,188.67 L335.67,188.57 L336.39,188.71 L337.11,189.22 L337.82,188.93 L338.54,189.04 L339.26,188.70 L339.97,189.35 L340.69,189.12 L341.41,188.60 L342.12,188.84 L342.84,188.31 L343.56,188.98 L344.27,189.68 L344.99,188.75 L345.71,188.97 L346.42,189.13 L347.14,189.39 L347.86,189.12 L348.57,188.95 L349.29,189.03 L350.00,189.11 L350.72,189.01 L351.44,189.13 L352.15,189.43 L352.87,189.14 L353.59,189.11 L354.30,188.81 L355.02,189.25 L355.74,189.51 L356.45,189.05 L357.17,189.16 L357.89,189.45 L358.60,189.60 L359.32,189.06 L360.04,189.73 L360.75,189.53 L361.47,189.37 L362.19,189.64 L362.90,189.50 L363.62,189.39 L364.33,189.57 L365.05,189.74 L365.77,189.64 L366.48,189.57 L367.20,189.38 L367.92,189.76 L368.63,189.37 L369.35,189.76 L370.07,189.43 L370.78,189.34 L371.50,189.48 L371.50,190.00 Z" fill="#c0c0c0" stroke="none"/>
<path d="M293.40,177.88 L294.12,175.49 L294.83,174.26 L295.55,172.57 L296.27,169.19 L296.98,168.51 L297.70,164.24 L298.42,160.63 L299.13,155.77 L299.85,152.25 L300.57,148.11 L301.28,143.79 L302.00,140.50 L302.71,139.52 L303.43,141.70 L304.15,142.14 L304.86,147.47 L305.58,149.60 L306.30,156.53 L307.01,162.83 L307.73,167.71 L308.45,172.70 L309.16,174.84 L309.88,178.55 L310.60,178.92 L311.31,181.80 L312.03,182.06 L312.75,180.83 L313.46,181.27 L314.18,181.71 L314.90,184.04 L315.61,183.99 L316.33,184.11 L317.04,184.43 L317.76,183.34 L318.48,184.02 L319.19,183.96 L319.91,184.54 L320.63,185.01 L321.34,183.63 L322.06,184.77 L322.78,185.95 L323.49,185.02 L324.21,186.27 L324.93,186.32 L325.64,185.75 L326.36,187.05 L327.08,187.04 L327.79,187.31 L328.51,186.69 L329.23,186.81 L329.94,187.69 L330.66,187.25 L331.38,188.59 L332.09,188.34 L332.81,188.02 L333.52,188.65 L334.24,188.58 L334.96,188.67 L335.67,188.57 L336.39,188.71 L337.11,189.22 L337.82,188.93 L338.54,189.04 L339.26,188.70 L339.97,189.35 L340.69,189.12 L341.41,188.60 L342.12,188.84 L342.84,188.31 L343.56,188.98 L344.27,189.68 L344.99,188.75 L345.71,188.97 L346.42,189.13 L347.14,189.39 L347.86,189.12 L348.57,188.95 L349.29,189.03 L350.00,189.11 L350.72,189.01 L351.44,189.13 L352.15,189.43 L352.87,189.14 L353.59,189.11 L354.30,188.81 L355.02,189.25 L355.74,189.51 L356.45,189.05 L357.17,189.16 L357.89,189.45 L358.60,189.60 L359.32,189.06 L360.04,189.73 L360.75,189.53 L361.47,189.37 L362.19,189.64 L362.90,189.50 L363.62,189.39 L364.33,189.57 L365.05,189.74 L365.77,189.64 L366.48,189.57 L367.20,189.38 L367.92,189.76 L368.63,189.37 L369.35,189.76 L370.07,189.43 L370.78,189.34 L371.50,189.48" fill="none" stroke="#111" stroke-width="1.35" stroke-linejoin="round"/>
<path d="M293.40,188.72 L294.12,188.68 L294.83,186.99 L295.55,188.45 L296.27,187.48 L296.98,186.12 L297.70,184.73 L298.42,184.71 L299.13,184.01 L299.85,184.38 L300.57,185.88 L301.28,182.16 L302.00,182.11 L302.71,182.00 L303.43,181.17 L304.15,180.39 L304.86,178.47 L305.58,177.46 L306.30,176.78 L307.01,178.11 L307.73,173.41 L308.45,172.62 L309.16,173.02 L309.88,169.42 L310.60,169.96 L311.31,168.62 L312.03,167.46 L312.75,168.76 L313.46,165.57 L314.18,165.80 L314.90,166.85 L315.61,161.06 L316.33,165.73 L317.04,164.76 L317.76,162.36 L318.48,162.38 L319.19,162.02 L319.91,163.50 L320.63,164.25 L321.34,166.19 L322.06,163.06 L322.78,164.33 L323.49,165.59 L324.21,163.45 L324.93,163.75 L325.64,165.04 L326.36,166.37 L327.08,166.38 L327.79,168.13 L328.51,165.59 L329.23,167.77 L329.94,170.08 L330.66,173.98 L331.38,170.59 L332.09,172.69 L332.81,176.13 L333.52,176.89 L334.24,182.48 L334.96,180.94 L335.67,183.82 L336.39,183.66 L337.11,184.72 L337.82,186.60 L338.54,186.53 L339.26,187.55 L339.97,187.61 L340.69,188.64 L341.41,189.08 L342.12,188.73 L342.84,188.91 L343.56,189.51 L344.27,189.01 L344.99,188.24 L345.71,188.89 L346.42,189.24 L347.14,188.86 L347.86,189.18 L348.57,189.35 L349.29,188.68 L350.00,188.60 L350.72,189.71 L351.44,188.83 L352.15,189.24 L352.87,188.47 L353.59,189.68 L354.30,189.03 L355.02,189.48 L355.74,189.14 L356.45,189.71 L357.17,189.05 L357.89,189.50 L358.60,189.56 L359.32,189.54 L360.04,189.55 L360.75,189.23 L361.47,189.82 L362.19,190.00 L362.90,189.43 L363.62,189.85 L364.33,189.86 L365.05,190.00 L365.77,189.85 L366.48,189.70 L367.20,189.63 L367.92,189.91 L368.63,189.95 L369.35,189.90 L370.07,190.00 L370.78,189.86 L371.50,189.97" fill="none" stroke="#222" stroke-width="0.8" stroke-linejoin="round"/>
<rect x="293.40" y="126.20" width="78.10" height="63.80" fill="none" stroke="#111" stroke-width="1.1"/>
<line x1="293.05" y1="125.70" x2="293.05" y2="190.50" stroke="#111" stroke-width="1.7"/>
<line x1="293.40" y1="190.00" x2="371.50" y2="190.00" stroke="#111" stroke-width="1.5"/>
<text x="293.80" y="200.60" font-size="8.7" text-anchor="end" font-weight="bold" fill="#111" stroke="#111" stroke-width="0.35" textLength="6.0" lengthAdjust="spacingAndGlyphs">10</text>
<text x="294.10" y="196.70" font-size="6.0" text-anchor="start" font-weight="bold" fill="#111" stroke="#111" stroke-width="0.25" textLength="2.8" lengthAdjust="spacingAndGlyphs">0</text>
<line x1="293.40" y1="190.00" x2="293.40" y2="192.20" stroke="#111" stroke-width="0.9"/>
<text x="313.32" y="200.60" font-size="8.7" text-anchor="end" font-weight="bold" fill="#111" stroke="#111" stroke-width="0.35" textLength="6.0" lengthAdjust="spacingAndGlyphs">10</text>
<text x="313.62" y="196.70" font-size="6.0" text-anchor="start" font-weight="bold" fill="#111" stroke="#111" stroke-width="0.25" textLength="2.8" lengthAdjust="spacingAndGlyphs">1</text>
<line x1="312.92" y1="190.00" x2="312.92" y2="192.20" stroke="#111" stroke-width="0.9"/>
<text x="332.85" y="200.60" font-size="8.7" text-anchor="end" font-weight="bold" fill="#111" stroke="#111" stroke-width="0.35" textLength="6.0" lengthAdjust="spacingAndGlyphs">10</text>
<text x="333.15" y="196.70" font-size="6.0" text-anchor="start" font-weight="bold" fill="#111" stroke="#111" stroke-width="0.25" textLength="2.8" lengthAdjust="spacingAndGlyphs">2</text>
<line x1="332.45" y1="190.00" x2="332.45" y2="192.20" stroke="#111" stroke-width="0.9"/>
<text x="352.38" y="200.60" font-size="8.7" text-anchor="end" font-weight="bold" fill="#111" stroke="#111" stroke-width="0.35" textLength="6.0" lengthAdjust="spacingAndGlyphs">10</text>
<text x="352.68" y="196.70" font-size="6.0" text-anchor="start" font-weight="bold" fill="#111" stroke="#111" stroke-width="0.25" textLength="2.8" lengthAdjust="spacingAndGlyphs">3</text>
<line x1="351.98" y1="190.00" x2="351.98" y2="192.20" stroke="#111" stroke-width="0.9"/>
<text x="371.90" y="200.60" font-size="8.7" text-anchor="end" font-weight="bold" fill="#111" stroke="#111" stroke-width="0.35" textLength="6.0" lengthAdjust="spacingAndGlyphs">10</text>
<text x="372.20" y="196.70" font-size="6.0" text-anchor="start" font-weight="bold" fill="#111" stroke="#111" stroke-width="0.25" textLength="2.8" lengthAdjust="spacingAndGlyphs">4</text>
<line x1="371.50" y1="190.00" x2="371.50" y2="192.20" stroke="#111" stroke-width="0.9"/>
<text x="331.67" y="206.00" font-size="6.8" text-anchor="middle" font-weight="bold" fill="#1a1a1a" stroke="#1a1a1a" stroke-width="0.25" textLength="16.4" lengthAdjust="spacingAndGlyphs">FL1-H</text>
<text transform="translate(288.80,189.40) rotate(-90)" font-size="6.7" text-anchor="middle" font-weight="bold" fill="#1a1a1a" stroke="#1a1a1a" stroke-width="0.3" textLength="3.0" lengthAdjust="spacingAndGlyphs">0</text>
<line x1="290.80" y1="189.40" x2="293.40" y2="189.40" stroke="#111" stroke-width="0.9"/>
<text transform="translate(288.80,176.76) rotate(-90)" font-size="6.7" text-anchor="middle" font-weight="bold" fill="#1a1a1a" stroke="#1a1a1a" stroke-width="0.3" textLength="6.0" lengthAdjust="spacingAndGlyphs">20</text>
<line x1="290.80" y1="176.76" x2="293.40" y2="176.76" stroke="#111" stroke-width="0.9"/>
<text transform="translate(288.80,164.12) rotate(-90)" font-size="6.7" text-anchor="middle" font-weight="bold" fill="#1a1a1a" stroke="#1a1a1a" stroke-width="0.3" textLength="6.0" lengthAdjust="spacingAndGlyphs">40</text>
<line x1="290.80" y1="164.12" x2="293.40" y2="164.12" stroke="#111" stroke-width="0.9"/>
<text transform="translate(288.80,151.48) rotate(-90)" font-size="6.7" text-anchor="middle" font-weight="bold" fill="#1a1a1a" stroke="#1a1a1a" stroke-width="0.3" textLength="6.0" lengthAdjust="spacingAndGlyphs">60</text>
<line x1="290.80" y1="151.48" x2="293.40" y2="151.48" stroke="#111" stroke-width="0.9"/>
<text transform="translate(288.80,138.84) rotate(-90)" font-size="6.7" text-anchor="middle" font-weight="bold" fill="#1a1a1a" stroke="#1a1a1a" stroke-width="0.3" textLength="6.0" lengthAdjust="spacingAndGlyphs">80</text>
<line x1="290.80" y1="138.84" x2="293.40" y2="138.84" stroke="#111" stroke-width="0.9"/>
<text transform="translate(288.80,126.20) rotate(-90)" font-size="6.7" text-anchor="middle" font-weight="bold" fill="#1a1a1a" stroke="#1a1a1a" stroke-width="0.3" textLength="9.0" lengthAdjust="spacingAndGlyphs">100</text>
<line x1="290.80" y1="126.20" x2="293.40" y2="126.20" stroke="#111" stroke-width="0.9"/>
<text transform="translate(281.00,159.60) rotate(-90)" font-size="6.4" text-anchor="middle" font-weight="bold" fill="#1a1a1a" stroke="#1a1a1a" stroke-width="0.3" textLength="19.5" lengthAdjust="spacingAndGlyphs">Counts</text>
</g>
<g>
<path d="M409.20,190.00 L409.20,177.24 L409.92,176.16 L410.63,173.14 L411.35,170.08 L412.07,169.14 L412.78,165.71 L413.50,163.21 L414.22,158.29 L414.93,157.16 L415.65,152.90 L416.37,151.66 L417.08,147.29 L417.80,147.48 L418.51,146.27 L419.23,144.87 L419.95,142.79 L420.66,149.75 L421.38,155.73 L422.10,159.71 L422.81,159.68 L423.53,168.13 L424.25,172.13 L424.96,175.12 L425.68,176.64 L426.40,179.41 L427.11,180.59 L427.83,181.46 L428.55,182.36 L429.26,182.14 L429.98,182.77 L430.70,183.77 L431.41,184.72 L432.13,182.42 L432.84,182.76 L433.56,183.24 L434.28,183.51 L434.99,183.92 L435.71,184.95 L436.43,185.25 L437.14,185.24 L437.86,185.48 L438.58,185.87 L439.29,186.41 L440.01,185.69 L440.73,185.99 L441.44,185.78 L442.16,186.00 L442.88,187.31 L443.59,187.04 L444.31,187.56 L445.03,187.65 L445.74,187.26 L446.46,187.60 L447.18,188.18 L447.89,188.17 L448.61,188.45 L449.32,188.83 L450.04,188.99 L450.76,189.25 L451.47,188.86 L452.19,189.50 L452.91,189.44 L453.62,189.41 L454.34,189.56 L455.06,189.08 L455.77,189.29 L456.49,189.85 L457.21,189.61 L457.92,189.24 L458.64,189.52 L459.36,189.40 L460.07,189.39 L460.79,189.41 L461.51,189.57 L462.22,189.46 L462.94,189.44 L463.66,189.62 L464.37,189.41 L465.09,189.46 L465.80,189.43 L466.52,189.36 L467.24,189.52 L467.95,189.69 L468.67,189.35 L469.39,189.43 L470.10,189.71 L470.82,189.72 L471.54,189.47 L472.25,189.43 L472.97,189.83 L473.69,189.61 L474.40,189.66 L475.12,189.60 L475.84,189.49 L476.55,189.29 L477.27,189.72 L477.99,189.34 L478.70,189.43 L479.42,189.24 L480.13,189.60 L480.85,189.57 L481.57,189.46 L482.28,189.56 L483.00,189.36 L483.72,189.57 L484.43,189.49 L485.15,189.57 L485.87,189.77 L486.58,189.54 L487.30,189.74 L487.30,190.00 Z" fill="#c0c0c0" stroke="none"/>
<path d="M409.20,177.24 L409.92,176.16 L410.63,173.14 L411.35,170.08 L412.07,169.14 L412.78,165.71 L413.50,163.21 L414.22,158.29 L414.93,157.16 L415.65,152.90 L416.37,151.66 L417.08,147.29 L417.80,147.48 L418.51,146.27 L419.23,144.87 L419.95,142.79 L420.66,149.75 L421.38,155.73 L422.10,159.71 L422.81,159.68 L423.53,168.13 L424.25,172.13 L424.96,175.12 L425.68,176.64 L426.40,179.41 L427.11,180.59 L427.83,181.46 L428.55,182.36 L429.26,182.14 L429.98,182.77 L430.70,183.77 L431.41,184.72 L432.13,182.42 L432.84,182.76 L433.56,183.24 L434.28,183.51 L434.99,183.92 L435.71,184.95 L436.43,185.25 L437.14,185.24 L437.86,185.48 L438.58,185.87 L439.29,186.41 L440.01,185.69 L440.73,185.99 L441.44,185.78 L442.16,186.00 L442.88,187.31 L443.59,187.04 L444.31,187.56 L445.03,187.65 L445.74,187.26 L446.46,187.60 L447.18,188.18 L447.89,188.17 L448.61,188.45 L449.32,188.83 L450.04,188.99 L450.76,189.25 L451.47,188.86 L452.19,189.50 L452.91,189.44 L453.62,189.41 L454.34,189.56 L455.06,189.08 L455.77,189.29 L456.49,189.85 L457.21,189.61 L457.92,189.24 L458.64,189.52 L459.36,189.40 L460.07,189.39 L460.79,189.41 L461.51,189.57 L462.22,189.46 L462.94,189.44 L463.66,189.62 L464.37,189.41 L465.09,189.46 L465.80,189.43 L466.52,189.36 L467.24,189.52 L467.95,189.69 L468.67,189.35 L469.39,189.43 L470.10,189.71 L470.82,189.72 L471.54,189.47 L472.25,189.43 L472.97,189.83 L473.69,189.61 L474.40,189.66 L475.12,189.60 L475.84,189.49 L476.55,189.29 L477.27,189.72 L477.99,189.34 L478.70,189.43 L479.42,189.24 L480.13,189.60 L480.85,189.57 L481.57,189.46 L482.28,189.56 L483.00,189.36 L483.72,189.57 L484.43,189.49 L485.15,189.57 L485.87,189.77 L486.58,189.54 L487.30,189.74" fill="none" stroke="#111" stroke-width="1.35" stroke-linejoin="round"/>
<path d="M409.20,190.00 L409.92,190.00 L410.63,189.98 L411.35,190.00 L412.07,189.93 L412.78,189.94 L413.50,189.64 L414.22,189.94 L414.93,189.90 L415.65,189.93 L416.37,189.88 L417.08,189.90 L417.80,189.76 L418.51,189.60 L419.23,189.89 L419.95,189.69 L420.66,189.90 L421.38,189.88 L422.10,189.86 L422.81,189.83 L423.53,190.00 L424.25,189.59 L424.96,189.83 L425.68,189.49 L426.40,189.67 L427.11,189.66 L427.83,189.74 L428.55,189.71 L429.26,190.00 L429.98,189.43 L430.70,189.72 L431.41,189.34 L432.13,189.66 L432.84,189.63 L433.56,189.78 L434.28,189.38 L434.99,188.95 L435.71,189.07 L436.43,188.92 L437.14,189.30 L437.86,189.57 L438.58,188.92 L439.29,189.32 L440.01,188.92 L440.73,189.39 L441.44,189.21 L442.16,188.49 L442.88,189.25 L443.59,188.24 L444.31,188.96 L445.03,189.09 L445.74,188.72 L446.46,188.84 L447.18,187.65 L447.89,188.58 L448.61,187.53 L449.32,187.03 L450.04,187.15 L450.76,185.61 L451.47,187.14 L452.19,186.31 L452.91,185.83 L453.62,183.95 L454.34,182.78 L455.06,183.29 L455.77,183.91 L456.49,181.56 L457.21,178.92 L457.92,176.98 L458.64,174.06 L459.36,172.25 L460.07,168.05 L460.79,168.97 L461.51,166.95 L462.22,162.26 L462.94,159.54 L463.66,158.63 L464.37,156.75 L465.09,158.68 L465.80,155.96 L466.52,153.31 L467.24,154.70 L467.95,150.25 L468.67,150.05 L469.39,157.83 L470.10,155.32 L470.82,152.68 L471.54,160.93 L472.25,160.82 L472.97,163.37 L473.69,164.45 L474.40,170.83 L475.12,172.78 L475.84,175.44 L476.55,176.63 L477.27,179.05 L477.99,182.27 L478.70,182.71 L479.42,184.52 L480.13,187.38 L480.85,187.94 L481.57,187.76 L482.28,189.12 L483.00,188.10 L483.72,189.20 L484.43,189.04 L485.15,189.52 L485.87,189.66 L486.58,189.73 L487.30,189.87" fill="none" stroke="#222" stroke-width="0.8" stroke-linejoin="round"/>
<rect x="409.20" y="126.20" width="78.10" height="63.80" fill="none" stroke="#111" stroke-width="1.1"/>
<line x1="408.85" y1="125.70" x2="408.85" y2="190.50" stroke="#111" stroke-width="1.7"/>
<line x1="409.20" y1="190.00" x2="487.30" y2="190.00" stroke="#111" stroke-width="1.5"/>
<text x="409.60" y="200.60" font-size="8.7" text-anchor="end" font-weight="bold" fill="#111" stroke="#111" stroke-width="0.35" textLength="6.0" lengthAdjust="spacingAndGlyphs">10</text>
<text x="409.90" y="196.70" font-size="6.0" text-anchor="start" font-weight="bold" fill="#111" stroke="#111" stroke-width="0.25" textLength="2.8" lengthAdjust="spacingAndGlyphs">0</text>
<line x1="409.20" y1="190.00" x2="409.20" y2="192.20" stroke="#111" stroke-width="0.9"/>
<text x="429.12" y="200.60" font-size="8.7" text-anchor="end" font-weight="bold" fill="#111" stroke="#111" stroke-width="0.35" textLength="6.0" lengthAdjust="spacingAndGlyphs">10</text>
<text x="429.43" y="196.70" font-size="6.0" text-anchor="start" font-weight="bold" fill="#111" stroke="#111" stroke-width="0.25" textLength="2.8" lengthAdjust="spacingAndGlyphs">1</text>
<line x1="428.73" y1="190.00" x2="428.73" y2="192.20" stroke="#111" stroke-width="0.9"/>
<text x="448.65" y="200.60" font-size="8.7" text-anchor="end" font-weight="bold" fill="#111" stroke="#111" stroke-width="0.35" textLength="6.0" lengthAdjust="spacingAndGlyphs">10</text>
<text x="448.95" y="196.70" font-size="6.0" text-anchor="start" font-weight="bold" fill="#111" stroke="#111" stroke-width="0.25" textLength="2.8" lengthAdjust="spacingAndGlyphs">2</text>
<line x1="448.25" y1="190.00" x2="448.25" y2="192.20" stroke="#111" stroke-width="0.9"/>
<text x="468.17" y="200.60" font-size="8.7" text-anchor="end" font-weight="bold" fill="#111" stroke="#111" stroke-width="0.35" textLength="6.0" lengthAdjust="spacingAndGlyphs">10</text>
<text x="468.47" y="196.70" font-size="6.0" text-anchor="start" font-weight="bold" fill="#111" stroke="#111" stroke-width="0.25" textLength="2.8" lengthAdjust="spacingAndGlyphs">3</text>
<line x1="467.77" y1="190.00" x2="467.77" y2="192.20" stroke="#111" stroke-width="0.9"/>
<text x="487.70" y="200.60" font-size="8.7" text-anchor="end" font-weight="bold" fill="#111" stroke="#111" stroke-width="0.35" textLength="6.0" lengthAdjust="spacingAndGlyphs">10</text>
<text x="488.00" y="196.70" font-size="6.0" text-anchor="start" font-weight="bold" fill="#111" stroke="#111" stroke-width="0.25" textLength="2.8" lengthAdjust="spacingAndGlyphs">4</text>
<line x1="487.30" y1="190.00" x2="487.30" y2="192.20" stroke="#111" stroke-width="0.9"/>
<text x="447.47" y="206.00" font-size="6.8" text-anchor="middle" font-weight="bold" fill="#1a1a1a" stroke="#1a1a1a" stroke-width="0.25" textLength="16.4" lengthAdjust="spacingAndGlyphs">FL1-H</text>
<text transform="translate(404.60,189.40) rotate(-90)" font-size="6.7" text-anchor="middle" font-weight="bold" fill="#1a1a1a" stroke="#1a1a1a" stroke-width="0.3" textLength="3.0" lengthAdjust="spacingAndGlyphs">0</text>
<line x1="406.60" y1="189.40" x2="409.20" y2="189.40" stroke="#111" stroke-width="0.9"/>
<text transform="translate(404.60,176.76) rotate(-90)" font-size="6.7" text-anchor="middle" font-weight="bold" fill="#1a1a1a" stroke="#1a1a1a" stroke-width="0.3" textLength="6.0" lengthAdjust="spacingAndGlyphs">20</text>
<line x1="406.60" y1="176.76" x2="409.20" y2="176.76" stroke="#111" stroke-width="0.9"/>
<text transform="translate(404.60,164.12) rotate(-90)" font-size="6.7" text-anchor="middle" font-weight="bold" fill="#1a1a1a" stroke="#1a1a1a" stroke-width="0.3" textLength="6.0" lengthAdjust="spacingAndGlyphs">40</text>
<line x1="406.60" y1="164.12" x2="409.20" y2="164.12" stroke="#111" stroke-width="0.9"/>
<text transform="translate(404.60,151.48) rotate(-90)" font-size="6.7" text-anchor="middle" font-weight="bold" fill="#1a1a1a" stroke="#1a1a1a" stroke-width="0.3" textLength="6.0" lengthAdjust="spacingAndGlyphs">60</text>
<line x1="406.60" y1="151.48" x2="409.20" y2="151.48" stroke="#111" stroke-width="0.9"/>
<text transform="translate(404.60,138.84) rotate(-90)" font-size="6.7" text-anchor="middle" font-weight="bold" fill="#1a1a1a" stroke="#1a1a1a" stroke-width="0.3" textLength="6.0" lengthAdjust="spacingAndGlyphs">80</text>
<line x1="406.60" y1="138.84" x2="409.20" y2="138.84" stroke="#111" stroke-width="0.9"/>
<text transform="translate(404.60,126.20) rotate(-90)" font-size="6.7" text-anchor="middle" font-weight="bold" fill="#1a1a1a" stroke="#1a1a1a" stroke-width="0.3" textLength="9.0" lengthAdjust="spacingAndGlyphs">100</text>
<line x1="406.60" y1="126.20" x2="409.20" y2="126.20" stroke="#111" stroke-width="0.9"/>
<text transform="translate(396.80,159.60) rotate(-90)" font-size="6.4" text-anchor="middle" font-weight="bold" fill="#1a1a1a" stroke="#1a1a1a" stroke-width="0.3" textLength="19.5" lengthAdjust="spacingAndGlyphs">Counts</text>
</g>
<text x="1.20" y="252.60" font-size="25.2" text-anchor="start" font-weight="bold" fill="#000" >B</text>
<text x="120.90" y="243.70" font-size="14.55" text-anchor="start" font-weight="normal" fill="#111"  stroke="#111" stroke-width="0.22">CD99-Ig</text>
<text x="234.60" y="243.70" font-size="14.45" text-anchor="start" font-weight="normal" fill="#111"  stroke="#111" stroke-width="0.22">NKp46-Ig</text>
<text x="335.00" y="243.70" font-size="14.5" text-anchor="start" font-weight="normal" fill="#111"  stroke="#111" stroke-width="0.22">NKp30-Ig</text>
<text x="442.50" y="243.70" font-size="14.5" text-anchor="start" font-weight="normal" fill="#111"  stroke="#111" stroke-width="0.22">NKp44-Ig</text>
<text x="1.80" y="285.60" font-size="14.65" text-anchor="start" font-weight="normal" fill="#111"  stroke="#111" stroke-width="0.22">T cells</text>
<text x="1.80" y="303.00" font-size="14.65" text-anchor="start" font-weight="normal" fill="#111"  stroke="#111" stroke-width="0.22">Patient A</text>
<text x="1.80" y="380.00" font-size="14.65" text-anchor="start" font-weight="normal" fill="#111"  stroke="#111" stroke-width="0.22">T cells</text>
<text x="1.80" y="397.50" font-size="14.65" text-anchor="start" font-weight="normal" fill="#111"  stroke="#111" stroke-width="0.22">Healthy sister</text>
<text x="1.80" y="491.50" font-size="14.65" text-anchor="start" font-weight="normal" fill="#111"  stroke="#111" stroke-width="0.22">LnCap cells</text>
<g>
<path d="M112.80,320.50 L112.80,307.70 L113.52,306.98 L114.23,305.01 L114.95,305.79 L115.66,300.97 L116.38,299.85 L117.09,293.01 L117.81,287.46 L118.52,279.52 L119.24,275.93 L119.96,272.53 L120.67,265.89 L121.39,264.56 L122.10,270.38 L122.82,271.09 L123.53,276.92 L124.25,279.97 L124.97,284.04 L125.68,290.47 L126.40,292.59 L127.11,297.82 L127.83,301.25 L128.54,303.98 L129.26,308.40 L129.97,310.29 L130.69,310.96 L131.41,312.51 L132.12,313.81 L132.84,315.55 L133.55,315.53 L134.27,315.63 L134.98,316.30 L135.70,317.85 L136.41,318.19 L137.13,317.35 L137.85,317.09 L138.56,317.74 L139.28,317.43 L139.99,317.82 L140.71,317.93 L141.42,318.00 L142.14,318.13 L142.86,318.46 L143.57,317.69 L144.29,318.11 L145.00,318.72 L145.72,318.70 L146.43,319.03 L147.15,318.58 L147.86,319.29 L148.58,319.00 L149.30,318.73 L150.01,318.86 L150.73,318.93 L151.44,319.52 L152.16,319.00 L152.87,319.29 L153.59,318.90 L154.30,319.38 L155.02,318.86 L155.74,319.24 L156.45,319.17 L157.17,319.50 L157.88,319.53 L158.60,319.54 L159.31,319.21 L160.03,319.61 L160.74,319.54 L161.46,319.24 L162.18,319.43 L162.89,319.65 L163.61,319.54 L164.32,319.97 L165.04,320.01 L165.75,319.58 L166.47,319.07 L167.19,319.27 L167.90,319.18 L168.62,319.63 L169.33,319.88 L170.05,319.55 L170.76,320.05 L171.48,320.42 L172.19,319.73 L172.91,319.62 L173.63,319.71 L174.34,319.55 L175.06,319.72 L175.77,319.82 L176.49,320.11 L177.20,319.94 L177.92,320.16 L178.63,320.02 L179.35,319.60 L180.07,319.94 L180.78,319.92 L181.50,320.13 L182.21,319.55 L182.93,320.38 L183.64,320.20 L184.36,319.90 L185.08,320.20 L185.79,320.22 L186.51,320.02 L187.22,319.99 L187.94,320.02 L188.65,320.27 L189.37,320.04 L190.08,320.34 L190.80,320.31 L190.80,320.50 Z" fill="#c0c0c0" stroke="none"/>
<path d="M112.80,307.70 L113.52,306.98 L114.23,305.01 L114.95,305.79 L115.66,300.97 L116.38,299.85 L117.09,293.01 L117.81,287.46 L118.52,279.52 L119.24,275.93 L119.96,272.53 L120.67,265.89 L121.39,264.56 L122.10,270.38 L122.82,271.09 L123.53,276.92 L124.25,279.97 L124.97,284.04 L125.68,290.47 L126.40,292.59 L127.11,297.82 L127.83,301.25 L128.54,303.98 L129.26,308.40 L129.97,310.29 L130.69,310.96 L131.41,312.51 L132.12,313.81 L132.84,315.55 L133.55,315.53 L134.27,315.63 L134.98,316.30 L135.70,317.85 L136.41,318.19 L137.13,317.35 L137.85,317.09 L138.56,317.74 L139.28,317.43 L139.99,317.82 L140.71,317.93 L141.42,318.00 L142.14,318.13 L142.86,318.46 L143.57,317.69 L144.29,318.11 L145.00,318.72 L145.72,318.70 L146.43,319.03 L147.15,318.58 L147.86,319.29 L148.58,319.00 L149.30,318.73 L150.01,318.86 L150.73,318.93 L151.44,319.52 L152.16,319.00 L152.87,319.29 L153.59,318.90 L154.30,319.38 L155.02,318.86 L155.74,319.24 L156.45,319.17 L157.17,319.50 L157.88,319.53 L158.60,319.54 L159.31,319.21 L160.03,319.61 L160.74,319.54 L161.46,319.24 L162.18,319.43 L162.89,319.65 L163.61,319.54 L164.32,319.97 L165.04,320.01 L165.75,319.58 L166.47,319.07 L167.19,319.27 L167.90,319.18 L168.62,319.63 L169.33,319.88 L170.05,319.55 L170.76,320.05 L171.48,320.42 L172.19,319.73 L172.91,319.62 L173.63,319.71 L174.34,319.55 L175.06,319.72 L175.77,319.82 L176.49,320.11 L177.20,319.94 L177.92,320.16 L178.63,320.02 L179.35,319.60 L180.07,319.94 L180.78,319.92 L181.50,320.13 L182.21,319.55 L182.93,320.38 L183.64,320.20 L184.36,319.90 L185.08,320.20 L185.79,320.22 L186.51,320.02 L187.22,319.99 L187.94,320.02 L188.65,320.27 L189.37,320.04 L190.08,320.34 L190.80,320.31" fill="none" stroke="#111" stroke-width="1.5" stroke-linejoin="round"/>
<path d="M112.80,307.70 L113.52,307.39 L114.23,307.22 L114.95,306.34 L115.66,305.05 L116.38,300.50 L117.09,295.82 L117.81,292.87 L118.52,287.93 L119.24,280.54 L119.96,272.08 L120.67,274.52 L121.39,266.63 L122.10,266.69 L122.82,263.39 L123.53,274.87 L124.25,275.54 L124.97,279.44 L125.68,281.81 L126.40,287.39 L127.11,289.57 L127.83,293.46 L128.54,296.39 L129.26,300.66 L129.97,309.50 L130.69,306.42 L131.41,308.98 L132.12,311.73 L132.84,314.98 L133.55,316.48 L134.27,315.22 L134.98,315.87 L135.70,316.81 L136.41,316.96 L137.13,316.16 L137.85,316.75 L138.56,319.03 L139.28,317.67 L139.99,318.28 L140.71,319.27 L141.42,317.31 L142.14,317.89 L142.86,317.71 L143.57,318.19 L144.29,319.02 L145.00,318.10 L145.72,318.28 L146.43,318.37 L147.15,319.05 L147.86,319.10 L148.58,318.33 L149.30,318.38 L150.01,318.57 L150.73,318.69 L151.44,319.05 L152.16,318.52 L152.87,318.89 L153.59,318.76 L154.30,319.25 L155.02,319.53 L155.74,319.84 L156.45,319.85 L157.17,319.05 L157.88,319.08 L158.60,319.63 L159.31,319.08 L160.03,319.76 L160.74,320.11 L161.46,319.68 L162.18,319.79 L162.89,319.24 L163.61,319.86 L164.32,319.59 L165.04,319.54 L165.75,319.63 L166.47,320.40 L167.19,319.67 L167.90,319.74 L168.62,319.15 L169.33,319.97 L170.05,319.50 L170.76,319.30 L171.48,319.96 L172.19,319.60 L172.91,319.70 L173.63,319.86 L174.34,319.70 L175.06,319.61 L175.77,319.52 L176.49,319.50 L177.20,320.37 L177.92,319.83 L178.63,319.59 L179.35,319.69 L180.07,320.33 L180.78,319.77 L181.50,319.98 L182.21,319.67 L182.93,320.30 L183.64,319.95 L184.36,320.26 L185.08,320.12 L185.79,320.16 L186.51,319.90 L187.22,320.09 L187.94,320.44 L188.65,319.88 L189.37,320.10 L190.08,320.28 L190.80,320.36" fill="none" stroke="#222" stroke-width="0.8" stroke-linejoin="round"/>
<rect x="112.80" y="256.50" width="78.00" height="64.00" fill="none" stroke="#111" stroke-width="1.1"/>
<line x1="112.45" y1="256.00" x2="112.45" y2="321.00" stroke="#111" stroke-width="1.7"/>
<line x1="112.80" y1="320.50" x2="190.80" y2="320.50" stroke="#111" stroke-width="1.5"/>
<text x="114.90" y="330.90" font-size="8.7" text-anchor="end" font-weight="bold" fill="#111" stroke="#111" stroke-width="0.35" textLength="6.0" lengthAdjust="spacingAndGlyphs">10</text>
<text x="115.20" y="327.00" font-size="6.0" text-anchor="start" font-weight="bold" fill="#111" stroke="#111" stroke-width="0.25" textLength="2.8" lengthAdjust="spacingAndGlyphs">0</text>
<line x1="112.80" y1="320.50" x2="112.80" y2="322.70" stroke="#111" stroke-width="0.9"/>
<text x="133.80" y="330.90" font-size="8.7" text-anchor="end" font-weight="bold" fill="#111" stroke="#111" stroke-width="0.35" textLength="6.0" lengthAdjust="spacingAndGlyphs">10</text>
<text x="134.10" y="327.00" font-size="6.0" text-anchor="start" font-weight="bold" fill="#111" stroke="#111" stroke-width="0.25" textLength="2.8" lengthAdjust="spacingAndGlyphs">1</text>
<line x1="132.30" y1="320.50" x2="132.30" y2="322.70" stroke="#111" stroke-width="0.9"/>
<text x="153.60" y="330.90" font-size="8.7" text-anchor="end" font-weight="bold" fill="#111" stroke="#111" stroke-width="0.35" textLength="6.0" lengthAdjust="spacingAndGlyphs">10</text>
<text x="153.90" y="327.00" font-size="6.0" text-anchor="start" font-weight="bold" fill="#111" stroke="#111" stroke-width="0.25" textLength="2.8" lengthAdjust="spacingAndGlyphs">2</text>
<line x1="151.80" y1="320.50" x2="151.80" y2="322.70" stroke="#111" stroke-width="0.9"/>
<text x="172.70" y="330.90" font-size="8.7" text-anchor="end" font-weight="bold" fill="#111" stroke="#111" stroke-width="0.35" textLength="6.0" lengthAdjust="spacingAndGlyphs">10</text>
<text x="173.00" y="327.00" font-size="6.0" text-anchor="start" font-weight="bold" fill="#111" stroke="#111" stroke-width="0.25" textLength="2.8" lengthAdjust="spacingAndGlyphs">3</text>
<line x1="171.30" y1="320.50" x2="171.30" y2="322.70" stroke="#111" stroke-width="0.9"/>
<text x="191.90" y="330.90" font-size="8.7" text-anchor="end" font-weight="bold" fill="#111" stroke="#111" stroke-width="0.35" textLength="6.0" lengthAdjust="spacingAndGlyphs">10</text>
<text x="192.20" y="327.00" font-size="6.0" text-anchor="start" font-weight="bold" fill="#111" stroke="#111" stroke-width="0.25" textLength="2.8" lengthAdjust="spacingAndGlyphs">4</text>
<line x1="190.80" y1="320.50" x2="190.80" y2="322.70" stroke="#111" stroke-width="0.9"/>
<text x="151.02" y="336.30" font-size="5.9" text-anchor="middle" font-weight="bold" fill="#1a1a1a" stroke="#1a1a1a" stroke-width="0.25" textLength="16.4" lengthAdjust="spacingAndGlyphs">FL2-H</text>
<text transform="translate(108.20,319.30) rotate(-90)" font-size="6.7" text-anchor="middle" font-weight="bold" fill="#1a1a1a" stroke="#1a1a1a" stroke-width="0.3" textLength="3.0" lengthAdjust="spacingAndGlyphs">0</text>
<line x1="110.20" y1="319.30" x2="112.80" y2="319.30" stroke="#111" stroke-width="0.9"/>
<text transform="translate(108.20,306.70) rotate(-90)" font-size="6.7" text-anchor="middle" font-weight="bold" fill="#1a1a1a" stroke="#1a1a1a" stroke-width="0.3" textLength="6.0" lengthAdjust="spacingAndGlyphs">30</text>
<line x1="110.20" y1="306.70" x2="112.80" y2="306.70" stroke="#111" stroke-width="0.9"/>
<text transform="translate(108.20,294.10) rotate(-90)" font-size="6.7" text-anchor="middle" font-weight="bold" fill="#1a1a1a" stroke="#1a1a1a" stroke-width="0.3" textLength="6.0" lengthAdjust="spacingAndGlyphs">60</text>
<line x1="110.20" y1="294.10" x2="112.80" y2="294.10" stroke="#111" stroke-width="0.9"/>
<text transform="translate(108.20,281.50) rotate(-90)" font-size="6.7" text-anchor="middle" font-weight="bold" fill="#1a1a1a" stroke="#1a1a1a" stroke-width="0.3" textLength="6.0" lengthAdjust="spacingAndGlyphs">90</text>
<line x1="110.20" y1="281.50" x2="112.80" y2="281.50" stroke="#111" stroke-width="0.9"/>
<text transform="translate(108.20,268.90) rotate(-90)" font-size="6.7" text-anchor="middle" font-weight="bold" fill="#1a1a1a" stroke="#1a1a1a" stroke-width="0.3" textLength="9.0" lengthAdjust="spacingAndGlyphs">120</text>
<line x1="110.20" y1="268.90" x2="112.80" y2="268.90" stroke="#111" stroke-width="0.9"/>
<text transform="translate(108.20,256.30) rotate(-90)" font-size="6.7" text-anchor="middle" font-weight="bold" fill="#1a1a1a" stroke="#1a1a1a" stroke-width="0.3" textLength="9.0" lengthAdjust="spacingAndGlyphs">150</text>
<line x1="110.20" y1="256.30" x2="112.80" y2="256.30" stroke="#111" stroke-width="0.9"/>
<text transform="translate(100.40,290.00) rotate(-90)" font-size="6.4" text-anchor="middle" font-weight="bold" fill="#1a1a1a" stroke="#1a1a1a" stroke-width="0.3" textLength="19.5" lengthAdjust="spacingAndGlyphs">Counts</text>
<text x="143.80" y="278.80" font-size="10.7" text-anchor="start" font-weight="normal" fill="#111"  stroke="#111" stroke-width="0.22">MFI=3</text>
</g>
<g>
<path d="M228.00,320.50 L228.00,306.40 L228.72,307.06 L229.45,303.74 L230.17,303.77 L230.90,301.69 L231.62,298.67 L232.35,291.46 L233.07,288.90 L233.80,280.49 L234.52,276.81 L235.25,270.91 L235.97,267.89 L236.70,264.72 L237.42,265.05 L238.15,271.02 L238.87,270.90 L239.60,275.62 L240.32,279.48 L241.05,283.25 L241.77,291.94 L242.50,291.43 L243.22,299.69 L243.94,302.09 L244.67,304.33 L245.39,306.56 L246.12,309.43 L246.84,311.79 L247.57,313.40 L248.29,315.62 L249.02,315.73 L249.74,315.03 L250.47,318.05 L251.19,317.29 L251.92,317.44 L252.64,317.92 L253.37,317.69 L254.09,317.68 L254.82,317.93 L255.54,317.95 L256.27,318.46 L256.99,317.88 L257.72,318.46 L258.44,318.71 L259.17,317.58 L259.89,318.65 L260.61,318.69 L261.34,319.27 L262.06,318.53 L262.79,319.10 L263.51,319.04 L264.24,318.64 L264.96,318.79 L265.69,319.26 L266.41,318.94 L267.14,319.04 L267.86,319.26 L268.59,319.52 L269.31,319.14 L270.04,319.73 L270.76,319.21 L271.49,319.34 L272.21,319.71 L272.94,319.68 L273.66,318.75 L274.39,319.98 L275.11,319.44 L275.83,319.57 L276.56,319.39 L277.28,319.45 L278.01,319.32 L278.73,319.40 L279.46,319.60 L280.18,319.96 L280.91,319.72 L281.63,319.55 L282.36,319.58 L283.08,319.46 L283.81,319.78 L284.53,320.01 L285.26,319.89 L285.98,319.72 L286.71,319.58 L287.43,319.59 L288.16,319.66 L288.88,320.10 L289.61,319.94 L290.33,319.75 L291.06,319.81 L291.78,319.72 L292.50,320.15 L293.23,319.80 L293.95,320.47 L294.68,320.04 L295.40,319.95 L296.13,320.04 L296.85,319.83 L297.58,320.04 L298.30,320.01 L299.03,319.91 L299.75,320.20 L300.48,319.80 L301.20,320.18 L301.93,319.98 L302.65,320.06 L303.38,320.18 L304.10,320.11 L304.83,320.09 L305.55,320.22 L306.28,319.84 L307.00,320.32 L307.00,320.50 Z" fill="#c0c0c0" stroke="none"/>
<path d="M228.00,306.40 L228.72,307.06 L229.45,303.74 L230.17,303.77 L230.90,301.69 L231.62,298.67 L232.35,291.46 L233.07,288.90 L233.80,280.49 L234.52,276.81 L235.25,270.91 L235.97,267.89 L236.70,264.72 L237.42,265.05 L238.15,271.02 L238.87,270.90 L239.60,275.62 L240.32,279.48 L241.05,283.25 L241.77,291.94 L242.50,291.43 L243.22,299.69 L243.94,302.09 L244.67,304.33 L245.39,306.56 L246.12,309.43 L246.84,311.79 L247.57,313.40 L248.29,315.62 L249.02,315.73 L249.74,315.03 L250.47,318.05 L251.19,317.29 L251.92,317.44 L252.64,317.92 L253.37,317.69 L254.09,317.68 L254.82,317.93 L255.54,317.95 L256.27,318.46 L256.99,317.88 L257.72,318.46 L258.44,318.71 L259.17,317.58 L259.89,318.65 L260.61,318.69 L261.34,319.27 L262.06,318.53 L262.79,319.10 L263.51,319.04 L264.24,318.64 L264.96,318.79 L265.69,319.26 L266.41,318.94 L267.14,319.04 L267.86,319.26 L268.59,319.52 L269.31,319.14 L270.04,319.73 L270.76,319.21 L271.49,319.34 L272.21,319.71 L272.94,319.68 L273.66,318.75 L274.39,319.98 L275.11,319.44 L275.83,319.57 L276.56,319.39 L277.28,319.45 L278.01,319.32 L278.73,319.40 L279.46,319.60 L280.18,319.96 L280.91,319.72 L281.63,319.55 L282.36,319.58 L283.08,319.46 L283.81,319.78 L284.53,320.01 L285.26,319.89 L285.98,319.72 L286.71,319.58 L287.43,319.59 L288.16,319.66 L288.88,320.10 L289.61,319.94 L290.33,319.75 L291.06,319.81 L291.78,319.72 L292.50,320.15 L293.23,319.80 L293.95,320.47 L294.68,320.04 L295.40,319.95 L296.13,320.04 L296.85,319.83 L297.58,320.04 L298.30,320.01 L299.03,319.91 L299.75,320.20 L300.48,319.80 L301.20,320.18 L301.93,319.98 L302.65,320.06 L303.38,320.18 L304.10,320.11 L304.83,320.09 L305.55,320.22 L306.28,319.84 L307.00,320.32" fill="none" stroke="#111" stroke-width="1.5" stroke-linejoin="round"/>
<path d="M228.00,306.40 L228.72,306.91 L229.45,305.71 L230.17,306.88 L230.90,300.58 L231.62,302.93 L232.35,299.28 L233.07,291.28 L233.80,285.32 L234.52,282.85 L235.25,278.84 L235.97,277.92 L236.70,267.84 L237.42,267.80 L238.15,270.34 L238.87,268.80 L239.60,270.44 L240.32,276.90 L241.05,282.24 L241.77,283.60 L242.50,289.26 L243.22,293.90 L243.94,299.94 L244.67,302.67 L245.39,304.21 L246.12,308.50 L246.84,309.38 L247.57,312.88 L248.29,313.90 L249.02,315.03 L249.74,315.99 L250.47,316.22 L251.19,315.50 L251.92,317.98 L252.64,317.05 L253.37,317.51 L254.09,316.81 L254.82,317.92 L255.54,318.60 L256.27,317.90 L256.99,318.10 L257.72,318.37 L258.44,318.19 L259.17,319.23 L259.89,318.61 L260.61,318.40 L261.34,318.91 L262.06,319.53 L262.79,318.96 L263.51,319.36 L264.24,319.72 L264.96,319.05 L265.69,319.20 L266.41,318.65 L267.14,318.78 L267.86,318.98 L268.59,319.79 L269.31,319.46 L270.04,319.66 L270.76,319.84 L271.49,319.61 L272.21,319.70 L272.94,318.10 L273.66,319.12 L274.39,318.86 L275.11,319.68 L275.83,319.65 L276.56,319.46 L277.28,319.12 L278.01,319.20 L278.73,319.84 L279.46,319.67 L280.18,319.66 L280.91,319.60 L281.63,319.75 L282.36,319.74 L283.08,319.59 L283.81,319.70 L284.53,320.31 L285.26,320.46 L285.98,320.24 L286.71,320.02 L287.43,320.13 L288.16,319.66 L288.88,320.30 L289.61,319.53 L290.33,319.42 L291.06,319.93 L291.78,320.45 L292.50,319.76 L293.23,319.70 L293.95,320.08 L294.68,319.93 L295.40,319.91 L296.13,319.54 L296.85,319.87 L297.58,320.15 L298.30,320.27 L299.03,320.14 L299.75,319.88 L300.48,320.14 L301.20,319.63 L301.93,320.50 L302.65,319.98 L303.38,320.25 L304.10,319.99 L304.83,320.37 L305.55,320.12 L306.28,320.31 L307.00,319.94" fill="none" stroke="#222" stroke-width="0.8" stroke-linejoin="round"/>
<rect x="228.00" y="256.40" width="79.00" height="64.10" fill="none" stroke="#111" stroke-width="1.1"/>
<line x1="227.65" y1="255.90" x2="227.65" y2="321.00" stroke="#111" stroke-width="1.7"/>
<line x1="228.00" y1="320.50" x2="307.00" y2="320.50" stroke="#111" stroke-width="1.5"/>
<text x="230.10" y="330.90" font-size="8.7" text-anchor="end" font-weight="bold" fill="#111" stroke="#111" stroke-width="0.35" textLength="6.0" lengthAdjust="spacingAndGlyphs">10</text>
<text x="230.40" y="327.00" font-size="6.0" text-anchor="start" font-weight="bold" fill="#111" stroke="#111" stroke-width="0.25" textLength="2.8" lengthAdjust="spacingAndGlyphs">0</text>
<line x1="228.00" y1="320.50" x2="228.00" y2="322.70" stroke="#111" stroke-width="0.9"/>
<text x="249.25" y="330.90" font-size="8.7" text-anchor="end" font-weight="bold" fill="#111" stroke="#111" stroke-width="0.35" textLength="6.0" lengthAdjust="spacingAndGlyphs">10</text>
<text x="249.55" y="327.00" font-size="6.0" text-anchor="start" font-weight="bold" fill="#111" stroke="#111" stroke-width="0.25" textLength="2.8" lengthAdjust="spacingAndGlyphs">1</text>
<line x1="247.75" y1="320.50" x2="247.75" y2="322.70" stroke="#111" stroke-width="0.9"/>
<text x="269.30" y="330.90" font-size="8.7" text-anchor="end" font-weight="bold" fill="#111" stroke="#111" stroke-width="0.35" textLength="6.0" lengthAdjust="spacingAndGlyphs">10</text>
<text x="269.60" y="327.00" font-size="6.0" text-anchor="start" font-weight="bold" fill="#111" stroke="#111" stroke-width="0.25" textLength="2.8" lengthAdjust="spacingAndGlyphs">2</text>
<line x1="267.50" y1="320.50" x2="267.50" y2="322.70" stroke="#111" stroke-width="0.9"/>
<text x="288.65" y="330.90" font-size="8.7" text-anchor="end" font-weight="bold" fill="#111" stroke="#111" stroke-width="0.35" textLength="6.0" lengthAdjust="spacingAndGlyphs">10</text>
<text x="288.95" y="327.00" font-size="6.0" text-anchor="start" font-weight="bold" fill="#111" stroke="#111" stroke-width="0.25" textLength="2.8" lengthAdjust="spacingAndGlyphs">3</text>
<line x1="287.25" y1="320.50" x2="287.25" y2="322.70" stroke="#111" stroke-width="0.9"/>
<text x="308.10" y="330.90" font-size="8.7" text-anchor="end" font-weight="bold" fill="#111" stroke="#111" stroke-width="0.35" textLength="6.0" lengthAdjust="spacingAndGlyphs">10</text>
<text x="308.40" y="327.00" font-size="6.0" text-anchor="start" font-weight="bold" fill="#111" stroke="#111" stroke-width="0.25" textLength="2.8" lengthAdjust="spacingAndGlyphs">4</text>
<line x1="307.00" y1="320.50" x2="307.00" y2="322.70" stroke="#111" stroke-width="0.9"/>
<text x="266.71" y="336.30" font-size="5.9" text-anchor="middle" font-weight="bold" fill="#1a1a1a" stroke="#1a1a1a" stroke-width="0.25" textLength="16.4" lengthAdjust="spacingAndGlyphs">FL2-H</text>
<text transform="translate(223.40,319.30) rotate(-90)" font-size="6.7" text-anchor="middle" font-weight="bold" fill="#1a1a1a" stroke="#1a1a1a" stroke-width="0.3" textLength="3.0" lengthAdjust="spacingAndGlyphs">0</text>
<line x1="225.40" y1="319.30" x2="228.00" y2="319.30" stroke="#111" stroke-width="0.9"/>
<text transform="translate(223.40,306.70) rotate(-90)" font-size="6.7" text-anchor="middle" font-weight="bold" fill="#1a1a1a" stroke="#1a1a1a" stroke-width="0.3" textLength="6.0" lengthAdjust="spacingAndGlyphs">30</text>
<line x1="225.40" y1="306.70" x2="228.00" y2="306.70" stroke="#111" stroke-width="0.9"/>
<text transform="translate(223.40,294.10) rotate(-90)" font-size="6.7" text-anchor="middle" font-weight="bold" fill="#1a1a1a" stroke="#1a1a1a" stroke-width="0.3" textLength="6.0" lengthAdjust="spacingAndGlyphs">60</text>
<line x1="225.40" y1="294.10" x2="228.00" y2="294.10" stroke="#111" stroke-width="0.9"/>
<text transform="translate(223.40,281.50) rotate(-90)" font-size="6.7" text-anchor="middle" font-weight="bold" fill="#1a1a1a" stroke="#1a1a1a" stroke-width="0.3" textLength="6.0" lengthAdjust="spacingAndGlyphs">90</text>
<line x1="225.40" y1="281.50" x2="228.00" y2="281.50" stroke="#111" stroke-width="0.9"/>
<text transform="translate(223.40,268.90) rotate(-90)" font-size="6.7" text-anchor="middle" font-weight="bold" fill="#1a1a1a" stroke="#1a1a1a" stroke-width="0.3" textLength="9.0" lengthAdjust="spacingAndGlyphs">120</text>
<line x1="225.40" y1="268.90" x2="228.00" y2="268.90" stroke="#111" stroke-width="0.9"/>
<text transform="translate(223.40,256.30) rotate(-90)" font-size="6.7" text-anchor="middle" font-weight="bold" fill="#1a1a1a" stroke="#1a1a1a" stroke-width="0.3" textLength="9.0" lengthAdjust="spacingAndGlyphs">150</text>
<line x1="225.40" y1="256.30" x2="228.00" y2="256.30" stroke="#111" stroke-width="0.9"/>
<text transform="translate(215.60,289.95) rotate(-90)" font-size="6.4" text-anchor="middle" font-weight="bold" fill="#1a1a1a" stroke="#1a1a1a" stroke-width="0.3" textLength="19.5" lengthAdjust="spacingAndGlyphs">Counts</text>
<text x="259.50" y="278.80" font-size="10.7" text-anchor="start" font-weight="normal" fill="#111"  stroke="#111" stroke-width="0.22">MFI=3</text>
</g>
<g>
<path d="M329.60,320.00 L329.60,290.33 L330.32,293.82 L331.05,296.20 L331.77,294.08 L332.50,293.17 L333.22,293.37 L333.95,289.74 L334.67,287.94 L335.40,285.24 L336.12,277.38 L336.85,278.30 L337.57,274.64 L338.30,274.04 L339.02,274.22 L339.75,276.81 L340.47,278.25 L341.20,278.04 L341.92,279.72 L342.65,287.34 L343.37,289.04 L344.10,291.20 L344.82,292.88 L345.54,296.85 L346.27,299.65 L346.99,303.10 L347.72,306.84 L348.44,308.45 L349.17,309.44 L349.89,311.97 L350.62,314.17 L351.34,313.55 L352.07,315.04 L352.79,315.57 L353.52,315.39 L354.24,316.88 L354.97,317.16 L355.69,318.16 L356.42,317.20 L357.14,317.22 L357.87,317.65 L358.59,317.78 L359.32,317.54 L360.04,317.82 L360.77,317.91 L361.49,318.17 L362.21,318.24 L362.94,317.97 L363.66,318.43 L364.39,318.62 L365.11,318.74 L365.84,318.69 L366.56,318.68 L367.29,318.68 L368.01,318.87 L368.74,319.06 L369.46,319.43 L370.19,318.89 L370.91,319.31 L371.64,319.12 L372.36,318.80 L373.09,319.04 L373.81,319.31 L374.54,318.96 L375.26,319.21 L375.99,319.27 L376.71,318.88 L377.43,319.02 L378.16,318.46 L378.88,319.46 L379.61,319.22 L380.33,319.14 L381.06,318.95 L381.78,319.32 L382.51,318.92 L383.23,319.25 L383.96,319.45 L384.68,319.34 L385.41,319.33 L386.13,319.36 L386.86,319.47 L387.58,319.40 L388.31,319.17 L389.03,319.21 L389.76,319.02 L390.48,319.57 L391.21,319.63 L391.93,319.03 L392.66,319.37 L393.38,319.39 L394.10,319.63 L394.83,319.41 L395.55,319.49 L396.28,319.51 L397.00,319.32 L397.73,319.68 L398.45,319.53 L399.18,319.86 L399.90,319.51 L400.63,319.78 L401.35,319.32 L402.08,319.83 L402.80,319.38 L403.53,319.78 L404.25,319.90 L404.98,319.64 L405.70,319.66 L406.43,319.84 L407.15,319.89 L407.88,320.00 L408.60,319.78 L408.60,320.00 Z" fill="#c0c0c0" stroke="none"/>
<path d="M329.60,290.33 L330.32,293.82 L331.05,296.20 L331.77,294.08 L332.50,293.17 L333.22,293.37 L333.95,289.74 L334.67,287.94 L335.40,285.24 L336.12,277.38 L336.85,278.30 L337.57,274.64 L338.30,274.04 L339.02,274.22 L339.75,276.81 L340.47,278.25 L341.20,278.04 L341.92,279.72 L342.65,287.34 L343.37,289.04 L344.10,291.20 L344.82,292.88 L345.54,296.85 L346.27,299.65 L346.99,303.10 L347.72,306.84 L348.44,308.45 L349.17,309.44 L349.89,311.97 L350.62,314.17 L351.34,313.55 L352.07,315.04 L352.79,315.57 L353.52,315.39 L354.24,316.88 L354.97,317.16 L355.69,318.16 L356.42,317.20 L357.14,317.22 L357.87,317.65 L358.59,317.78 L359.32,317.54 L360.04,317.82 L360.77,317.91 L361.49,318.17 L362.21,318.24 L362.94,317.97 L363.66,318.43 L364.39,318.62 L365.11,318.74 L365.84,318.69 L366.56,318.68 L367.29,318.68 L368.01,318.87 L368.74,319.06 L369.46,319.43 L370.19,318.89 L370.91,319.31 L371.64,319.12 L372.36,318.80 L373.09,319.04 L373.81,319.31 L374.54,318.96 L375.26,319.21 L375.99,319.27 L376.71,318.88 L377.43,319.02 L378.16,318.46 L378.88,319.46 L379.61,319.22 L380.33,319.14 L381.06,318.95 L381.78,319.32 L382.51,318.92 L383.23,319.25 L383.96,319.45 L384.68,319.34 L385.41,319.33 L386.13,319.36 L386.86,319.47 L387.58,319.40 L388.31,319.17 L389.03,319.21 L389.76,319.02 L390.48,319.57 L391.21,319.63 L391.93,319.03 L392.66,319.37 L393.38,319.39 L394.10,319.63 L394.83,319.41 L395.55,319.49 L396.28,319.51 L397.00,319.32 L397.73,319.68 L398.45,319.53 L399.18,319.86 L399.90,319.51 L400.63,319.78 L401.35,319.32 L402.08,319.83 L402.80,319.38 L403.53,319.78 L404.25,319.90 L404.98,319.64 L405.70,319.66 L406.43,319.84 L407.15,319.89 L407.88,320.00 L408.60,319.78" fill="none" stroke="#111" stroke-width="1.5" stroke-linejoin="round"/>
<path d="M329.60,290.33 L330.32,290.70 L331.05,293.52 L331.77,297.69 L332.50,295.98 L333.22,290.70 L333.95,296.26 L334.67,289.73 L335.40,283.18 L336.12,284.62 L336.85,281.25 L337.57,277.29 L338.30,271.44 L339.02,275.32 L339.75,274.48 L340.47,275.08 L341.20,270.21 L341.92,272.61 L342.65,278.22 L343.37,282.70 L344.10,285.20 L344.82,287.11 L345.54,295.16 L346.27,294.74 L346.99,301.94 L347.72,303.73 L348.44,304.17 L349.17,309.67 L349.89,310.23 L350.62,312.69 L351.34,313.36 L352.07,316.63 L352.79,316.54 L353.52,316.34 L354.24,315.61 L354.97,316.65 L355.69,316.76 L356.42,316.55 L357.14,317.72 L357.87,317.24 L358.59,318.03 L359.32,318.66 L360.04,318.04 L360.77,317.63 L361.49,317.84 L362.21,318.11 L362.94,317.03 L363.66,318.08 L364.39,317.91 L365.11,317.44 L365.84,319.10 L366.56,319.06 L367.29,317.99 L368.01,319.11 L368.74,318.86 L369.46,318.55 L370.19,318.67 L370.91,318.40 L371.64,318.52 L372.36,318.69 L373.09,319.34 L373.81,318.81 L374.54,318.99 L375.26,319.56 L375.99,318.65 L376.71,318.87 L377.43,319.14 L378.16,319.25 L378.88,319.57 L379.61,319.13 L380.33,319.06 L381.06,319.49 L381.78,318.87 L382.51,319.59 L383.23,319.92 L383.96,318.96 L384.68,319.41 L385.41,319.34 L386.13,319.57 L386.86,319.80 L387.58,318.98 L388.31,319.56 L389.03,318.90 L389.76,319.16 L390.48,319.49 L391.21,319.71 L391.93,319.63 L392.66,319.77 L393.38,318.90 L394.10,319.43 L394.83,319.19 L395.55,319.82 L396.28,319.46 L397.00,319.23 L397.73,319.62 L398.45,319.30 L399.18,319.82 L399.90,319.90 L400.63,319.50 L401.35,319.69 L402.08,319.48 L402.80,320.00 L403.53,319.49 L404.25,319.12 L404.98,319.68 L405.70,319.68 L406.43,319.67 L407.15,320.00 L407.88,319.65 L408.60,320.00" fill="none" stroke="#222" stroke-width="0.8" stroke-linejoin="round"/>
<rect x="329.60" y="255.50" width="79.00" height="64.50" fill="none" stroke="#111" stroke-width="1.1"/>
<line x1="328.50" y1="255.00" x2="328.50" y2="320.50" stroke="#111" stroke-width="3.2"/>
<line x1="329.60" y1="320.00" x2="408.60" y2="320.00" stroke="#111" stroke-width="1.5"/>
<text x="332.30" y="331.10" font-size="8.7" text-anchor="end" font-weight="bold" fill="#111" stroke="#111" stroke-width="0.35" textLength="6.0" lengthAdjust="spacingAndGlyphs">10</text>
<text x="332.60" y="327.20" font-size="6.0" text-anchor="start" font-weight="bold" fill="#111" stroke="#111" stroke-width="0.25" textLength="2.8" lengthAdjust="spacingAndGlyphs">0</text>
<line x1="329.60" y1="320.00" x2="329.60" y2="322.20" stroke="#111" stroke-width="0.9"/>
<text x="351.75" y="331.10" font-size="8.7" text-anchor="end" font-weight="bold" fill="#111" stroke="#111" stroke-width="0.35" textLength="6.0" lengthAdjust="spacingAndGlyphs">10</text>
<text x="352.05" y="327.20" font-size="6.0" text-anchor="start" font-weight="bold" fill="#111" stroke="#111" stroke-width="0.25" textLength="2.8" lengthAdjust="spacingAndGlyphs">1</text>
<line x1="349.35" y1="320.00" x2="349.35" y2="322.20" stroke="#111" stroke-width="0.9"/>
<text x="371.10" y="331.10" font-size="8.7" text-anchor="end" font-weight="bold" fill="#111" stroke="#111" stroke-width="0.35" textLength="6.0" lengthAdjust="spacingAndGlyphs">10</text>
<text x="371.40" y="327.20" font-size="6.0" text-anchor="start" font-weight="bold" fill="#111" stroke="#111" stroke-width="0.25" textLength="2.8" lengthAdjust="spacingAndGlyphs">2</text>
<line x1="369.10" y1="320.00" x2="369.10" y2="322.20" stroke="#111" stroke-width="0.9"/>
<text x="390.55" y="331.10" font-size="8.7" text-anchor="end" font-weight="bold" fill="#111" stroke="#111" stroke-width="0.35" textLength="6.0" lengthAdjust="spacingAndGlyphs">10</text>
<text x="390.85" y="327.20" font-size="6.0" text-anchor="start" font-weight="bold" fill="#111" stroke="#111" stroke-width="0.25" textLength="2.8" lengthAdjust="spacingAndGlyphs">3</text>
<line x1="388.85" y1="320.00" x2="388.85" y2="322.20" stroke="#111" stroke-width="0.9"/>
<text x="409.70" y="331.10" font-size="8.7" text-anchor="end" font-weight="bold" fill="#111" stroke="#111" stroke-width="0.35" textLength="6.0" lengthAdjust="spacingAndGlyphs">10</text>
<text x="410.00" y="327.20" font-size="6.0" text-anchor="start" font-weight="bold" fill="#111" stroke="#111" stroke-width="0.25" textLength="2.8" lengthAdjust="spacingAndGlyphs">4</text>
<line x1="408.60" y1="320.00" x2="408.60" y2="322.20" stroke="#111" stroke-width="0.9"/>
<text x="368.31" y="337.80" font-size="6.8" text-anchor="middle" font-weight="bold" fill="#1a1a1a" stroke="#1a1a1a" stroke-width="0.25" textLength="16.4" lengthAdjust="spacingAndGlyphs">FL2-H</text>
<text transform="translate(325.00,319.50) rotate(-90)" font-size="6.7" text-anchor="middle" font-weight="bold" fill="#1a1a1a" stroke="#1a1a1a" stroke-width="0.3" textLength="3.0" lengthAdjust="spacingAndGlyphs">0</text>
<line x1="327.00" y1="319.50" x2="329.60" y2="319.50" stroke="#111" stroke-width="0.9"/>
<text transform="translate(325.00,257.50) rotate(-90)" font-size="6.7" text-anchor="middle" font-weight="bold" fill="#1a1a1a" stroke="#1a1a1a" stroke-width="0.3" textLength="6.0" lengthAdjust="spacingAndGlyphs">80</text>
<line x1="327.00" y1="257.50" x2="329.60" y2="257.50" stroke="#111" stroke-width="0.9"/>
<text transform="translate(317.60,289.25) rotate(-90)" font-size="6.4" text-anchor="middle" font-weight="bold" fill="#1a1a1a" stroke="#1a1a1a" stroke-width="0.3" textLength="19.5" lengthAdjust="spacingAndGlyphs">Counts</text>
<text x="370.50" y="271.80" font-size="10.7" text-anchor="start" font-weight="normal" fill="#111"  stroke="#111" stroke-width="0.22">MFI=3</text>
</g>
<g>
<path d="M436.50,318.70 L436.50,301.72 L437.21,302.73 L437.93,301.49 L438.64,300.16 L439.36,297.16 L440.07,294.14 L440.78,287.93 L441.50,284.86 L442.21,284.49 L442.92,278.50 L443.64,274.98 L444.35,270.85 L445.07,271.41 L445.78,273.11 L446.49,275.21 L447.21,274.63 L447.92,275.75 L448.63,278.84 L449.35,282.81 L450.06,284.96 L450.78,290.31 L451.49,290.51 L452.20,292.36 L452.92,297.01 L453.63,299.49 L454.34,300.87 L455.06,304.47 L455.77,305.27 L456.49,308.44 L457.20,309.63 L457.91,312.00 L458.63,312.59 L459.34,312.97 L460.05,315.31 L460.77,314.38 L461.48,316.29 L462.20,315.56 L462.91,315.39 L463.62,316.10 L464.34,315.90 L465.05,315.68 L465.76,316.25 L466.48,317.27 L467.19,316.40 L467.91,316.46 L468.62,316.89 L469.33,317.03 L470.05,317.09 L470.76,317.70 L471.47,317.40 L472.19,316.87 L472.90,317.15 L473.62,317.35 L474.33,317.74 L475.04,317.78 L475.76,317.59 L476.47,317.74 L477.18,317.78 L477.90,317.93 L478.61,317.69 L479.33,318.00 L480.04,317.89 L480.75,317.65 L481.47,318.30 L482.18,317.78 L482.89,318.13 L483.61,318.49 L484.32,318.19 L485.04,318.19 L485.75,317.73 L486.46,317.74 L487.18,317.48 L487.89,318.07 L488.60,318.06 L489.32,318.04 L490.03,317.69 L490.75,317.89 L491.46,318.04 L492.17,318.23 L492.89,317.67 L493.60,318.41 L494.31,318.14 L495.03,318.14 L495.74,317.99 L496.46,318.38 L497.17,317.89 L497.88,318.18 L498.60,318.35 L499.31,318.31 L500.02,318.20 L500.74,318.31 L501.45,318.07 L502.17,318.40 L502.88,318.17 L503.59,317.92 L504.31,318.22 L505.02,318.12 L505.73,318.16 L506.45,318.61 L507.16,318.13 L507.88,318.35 L508.59,318.22 L509.30,318.20 L510.02,318.30 L510.73,318.36 L511.44,318.58 L512.16,318.30 L512.87,318.41 L513.59,318.37 L514.30,318.32 L514.30,318.70 Z" fill="#c0c0c0" stroke="none"/>
<path d="M436.50,301.72 L437.21,302.73 L437.93,301.49 L438.64,300.16 L439.36,297.16 L440.07,294.14 L440.78,287.93 L441.50,284.86 L442.21,284.49 L442.92,278.50 L443.64,274.98 L444.35,270.85 L445.07,271.41 L445.78,273.11 L446.49,275.21 L447.21,274.63 L447.92,275.75 L448.63,278.84 L449.35,282.81 L450.06,284.96 L450.78,290.31 L451.49,290.51 L452.20,292.36 L452.92,297.01 L453.63,299.49 L454.34,300.87 L455.06,304.47 L455.77,305.27 L456.49,308.44 L457.20,309.63 L457.91,312.00 L458.63,312.59 L459.34,312.97 L460.05,315.31 L460.77,314.38 L461.48,316.29 L462.20,315.56 L462.91,315.39 L463.62,316.10 L464.34,315.90 L465.05,315.68 L465.76,316.25 L466.48,317.27 L467.19,316.40 L467.91,316.46 L468.62,316.89 L469.33,317.03 L470.05,317.09 L470.76,317.70 L471.47,317.40 L472.19,316.87 L472.90,317.15 L473.62,317.35 L474.33,317.74 L475.04,317.78 L475.76,317.59 L476.47,317.74 L477.18,317.78 L477.90,317.93 L478.61,317.69 L479.33,318.00 L480.04,317.89 L480.75,317.65 L481.47,318.30 L482.18,317.78 L482.89,318.13 L483.61,318.49 L484.32,318.19 L485.04,318.19 L485.75,317.73 L486.46,317.74 L487.18,317.48 L487.89,318.07 L488.60,318.06 L489.32,318.04 L490.03,317.69 L490.75,317.89 L491.46,318.04 L492.17,318.23 L492.89,317.67 L493.60,318.41 L494.31,318.14 L495.03,318.14 L495.74,317.99 L496.46,318.38 L497.17,317.89 L497.88,318.18 L498.60,318.35 L499.31,318.31 L500.02,318.20 L500.74,318.31 L501.45,318.07 L502.17,318.40 L502.88,318.17 L503.59,317.92 L504.31,318.22 L505.02,318.12 L505.73,318.16 L506.45,318.61 L507.16,318.13 L507.88,318.35 L508.59,318.22 L509.30,318.20 L510.02,318.30 L510.73,318.36 L511.44,318.58 L512.16,318.30 L512.87,318.41 L513.59,318.37 L514.30,318.32" fill="none" stroke="#111" stroke-width="1.5" stroke-linejoin="round"/>
<path d="M436.50,301.72 L437.21,302.66 L437.93,303.87 L438.64,297.61 L439.36,301.25 L440.07,297.00 L440.78,293.94 L441.50,285.23 L442.21,283.02 L442.92,283.10 L443.64,280.50 L444.35,274.88 L445.07,272.58 L445.78,272.39 L446.49,275.10 L447.21,273.65 L447.92,273.13 L448.63,276.56 L449.35,282.63 L450.06,280.58 L450.78,289.20 L451.49,285.12 L452.20,290.00 L452.92,295.30 L453.63,295.03 L454.34,298.93 L455.06,301.99 L455.77,304.24 L456.49,305.25 L457.20,309.58 L457.91,309.57 L458.63,311.92 L459.34,312.52 L460.05,315.44 L460.77,314.13 L461.48,314.84 L462.20,315.19 L462.91,315.48 L463.62,315.12 L464.34,317.17 L465.05,315.54 L465.76,315.49 L466.48,315.83 L467.19,315.82 L467.91,316.49 L468.62,316.89 L469.33,315.90 L470.05,317.29 L470.76,317.21 L471.47,317.66 L472.19,316.97 L472.90,316.98 L473.62,316.78 L474.33,317.51 L475.04,317.89 L475.76,317.53 L476.47,318.15 L477.18,317.49 L477.90,317.55 L478.61,317.95 L479.33,317.69 L480.04,317.99 L480.75,317.80 L481.47,317.80 L482.18,317.73 L482.89,318.01 L483.61,317.88 L484.32,317.75 L485.04,318.31 L485.75,317.65 L486.46,317.62 L487.18,317.83 L487.89,318.07 L488.60,317.95 L489.32,318.61 L490.03,317.74 L490.75,318.04 L491.46,317.89 L492.17,317.93 L492.89,318.33 L493.60,318.05 L494.31,318.11 L495.03,317.52 L495.74,318.65 L496.46,317.79 L497.17,317.96 L497.88,317.84 L498.60,317.98 L499.31,317.87 L500.02,318.32 L500.74,317.97 L501.45,318.19 L502.17,317.75 L502.88,317.69 L503.59,317.91 L504.31,318.37 L505.02,318.24 L505.73,318.27 L506.45,317.93 L507.16,318.28 L507.88,318.68 L508.59,318.10 L509.30,318.70 L510.02,318.56 L510.73,318.57 L511.44,318.27 L512.16,318.00 L512.87,318.34 L513.59,318.58 L514.30,318.38" fill="none" stroke="#222" stroke-width="0.8" stroke-linejoin="round"/>
<rect x="436.50" y="255.80" width="77.80" height="62.90" fill="none" stroke="#111" stroke-width="1.1"/>
<line x1="434.90" y1="255.30" x2="434.90" y2="319.20" stroke="#111" stroke-width="4.2"/>
<line x1="436.50" y1="318.70" x2="514.30" y2="318.70" stroke="#111" stroke-width="1.5"/>
<text x="439.20" y="329.80" font-size="8.7" text-anchor="end" font-weight="bold" fill="#111" stroke="#111" stroke-width="0.35" textLength="6.0" lengthAdjust="spacingAndGlyphs">10</text>
<text x="439.50" y="325.90" font-size="6.0" text-anchor="start" font-weight="bold" fill="#111" stroke="#111" stroke-width="0.25" textLength="2.8" lengthAdjust="spacingAndGlyphs">0</text>
<line x1="436.50" y1="318.70" x2="436.50" y2="320.90" stroke="#111" stroke-width="0.9"/>
<text x="458.35" y="329.80" font-size="8.7" text-anchor="end" font-weight="bold" fill="#111" stroke="#111" stroke-width="0.35" textLength="6.0" lengthAdjust="spacingAndGlyphs">10</text>
<text x="458.65" y="325.90" font-size="6.0" text-anchor="start" font-weight="bold" fill="#111" stroke="#111" stroke-width="0.25" textLength="2.8" lengthAdjust="spacingAndGlyphs">1</text>
<line x1="455.95" y1="318.70" x2="455.95" y2="320.90" stroke="#111" stroke-width="0.9"/>
<text x="477.40" y="329.80" font-size="8.7" text-anchor="end" font-weight="bold" fill="#111" stroke="#111" stroke-width="0.35" textLength="6.0" lengthAdjust="spacingAndGlyphs">10</text>
<text x="477.70" y="325.90" font-size="6.0" text-anchor="start" font-weight="bold" fill="#111" stroke="#111" stroke-width="0.25" textLength="2.8" lengthAdjust="spacingAndGlyphs">2</text>
<line x1="475.40" y1="318.70" x2="475.40" y2="320.90" stroke="#111" stroke-width="0.9"/>
<text x="496.55" y="329.80" font-size="8.7" text-anchor="end" font-weight="bold" fill="#111" stroke="#111" stroke-width="0.35" textLength="6.0" lengthAdjust="spacingAndGlyphs">10</text>
<text x="496.85" y="325.90" font-size="6.0" text-anchor="start" font-weight="bold" fill="#111" stroke="#111" stroke-width="0.25" textLength="2.8" lengthAdjust="spacingAndGlyphs">3</text>
<line x1="494.85" y1="318.70" x2="494.85" y2="320.90" stroke="#111" stroke-width="0.9"/>
<text x="515.40" y="329.80" font-size="8.7" text-anchor="end" font-weight="bold" fill="#111" stroke="#111" stroke-width="0.35" textLength="6.0" lengthAdjust="spacingAndGlyphs">10</text>
<text x="515.70" y="325.90" font-size="6.0" text-anchor="start" font-weight="bold" fill="#111" stroke="#111" stroke-width="0.25" textLength="2.8" lengthAdjust="spacingAndGlyphs">4</text>
<line x1="514.30" y1="318.70" x2="514.30" y2="320.90" stroke="#111" stroke-width="0.9"/>
<text x="474.62" y="336.50" font-size="6.8" text-anchor="middle" font-weight="bold" fill="#1a1a1a" stroke="#1a1a1a" stroke-width="0.25" textLength="16.4" lengthAdjust="spacingAndGlyphs">FL2-H</text>
<text transform="translate(431.90,318.30) rotate(-90)" font-size="6.7" text-anchor="middle" font-weight="bold" fill="#1a1a1a" stroke="#1a1a1a" stroke-width="0.3" textLength="3.0" lengthAdjust="spacingAndGlyphs">0</text>
<line x1="433.90" y1="318.30" x2="436.50" y2="318.30" stroke="#111" stroke-width="0.9"/>
<text transform="translate(431.90,257.50) rotate(-90)" font-size="6.7" text-anchor="middle" font-weight="bold" fill="#1a1a1a" stroke="#1a1a1a" stroke-width="0.3" textLength="6.0" lengthAdjust="spacingAndGlyphs">80</text>
<line x1="433.90" y1="257.50" x2="436.50" y2="257.50" stroke="#111" stroke-width="0.9"/>
<text transform="translate(424.10,288.75) rotate(-90)" font-size="6.4" text-anchor="middle" font-weight="bold" fill="#1a1a1a" stroke="#1a1a1a" stroke-width="0.3" textLength="19.5" lengthAdjust="spacingAndGlyphs">Counts</text>
<text x="479.20" y="271.80" font-size="10.7" text-anchor="start" font-weight="normal" fill="#111"  stroke="#111" stroke-width="0.22">MFI=3</text>
</g>
<g>
<path d="M112.80,421.40 L112.80,413.74 L113.52,409.10 L114.23,407.76 L114.95,404.21 L115.66,401.12 L116.38,396.43 L117.09,392.93 L117.81,385.21 L118.52,387.15 L119.24,378.93 L119.96,378.88 L120.67,375.51 L121.39,370.69 L122.10,378.20 L122.82,378.67 L123.53,384.21 L124.25,383.88 L124.97,390.74 L125.68,391.21 L126.40,396.44 L127.11,395.95 L127.83,404.13 L128.54,400.20 L129.26,404.53 L129.97,408.48 L130.69,410.15 L131.41,409.00 L132.12,410.79 L132.84,411.98 L133.55,411.03 L134.27,413.24 L134.98,415.42 L135.70,413.81 L136.41,415.30 L137.13,415.98 L137.85,416.62 L138.56,417.24 L139.28,418.00 L139.99,417.78 L140.71,418.98 L141.42,418.19 L142.14,419.25 L142.86,418.47 L143.57,419.01 L144.29,418.67 L145.00,419.08 L145.72,419.01 L146.43,419.17 L147.15,418.94 L147.86,418.21 L148.58,418.61 L149.30,418.42 L150.01,419.34 L150.73,418.50 L151.44,418.70 L152.16,419.32 L152.87,419.42 L153.59,419.13 L154.30,419.35 L155.02,418.86 L155.74,419.06 L156.45,419.44 L157.17,419.98 L157.88,419.30 L158.60,419.86 L159.31,419.36 L160.03,419.32 L160.74,419.30 L161.46,419.34 L162.18,419.75 L162.89,419.66 L163.61,420.27 L164.32,419.30 L165.04,419.19 L165.75,419.53 L166.47,419.93 L167.19,419.44 L167.90,419.81 L168.62,419.66 L169.33,418.98 L170.05,419.68 L170.76,419.95 L171.48,419.54 L172.19,419.78 L172.91,420.16 L173.63,419.75 L174.34,419.45 L175.06,420.00 L175.77,419.41 L176.49,419.97 L177.20,420.39 L177.92,419.82 L178.63,420.25 L179.35,419.70 L180.07,420.28 L180.78,420.16 L181.50,420.35 L182.21,420.22 L182.93,420.19 L183.64,420.41 L184.36,420.85 L185.08,420.30 L185.79,420.47 L186.51,421.12 L187.22,420.52 L187.94,420.93 L188.65,420.89 L189.37,420.89 L190.08,420.84 L190.80,421.11 L190.80,421.40 Z" fill="#c0c0c0" stroke="none"/>
<path d="M112.80,413.74 L113.52,409.10 L114.23,407.76 L114.95,404.21 L115.66,401.12 L116.38,396.43 L117.09,392.93 L117.81,385.21 L118.52,387.15 L119.24,378.93 L119.96,378.88 L120.67,375.51 L121.39,370.69 L122.10,378.20 L122.82,378.67 L123.53,384.21 L124.25,383.88 L124.97,390.74 L125.68,391.21 L126.40,396.44 L127.11,395.95 L127.83,404.13 L128.54,400.20 L129.26,404.53 L129.97,408.48 L130.69,410.15 L131.41,409.00 L132.12,410.79 L132.84,411.98 L133.55,411.03 L134.27,413.24 L134.98,415.42 L135.70,413.81 L136.41,415.30 L137.13,415.98 L137.85,416.62 L138.56,417.24 L139.28,418.00 L139.99,417.78 L140.71,418.98 L141.42,418.19 L142.14,419.25 L142.86,418.47 L143.57,419.01 L144.29,418.67 L145.00,419.08 L145.72,419.01 L146.43,419.17 L147.15,418.94 L147.86,418.21 L148.58,418.61 L149.30,418.42 L150.01,419.34 L150.73,418.50 L151.44,418.70 L152.16,419.32 L152.87,419.42 L153.59,419.13 L154.30,419.35 L155.02,418.86 L155.74,419.06 L156.45,419.44 L157.17,419.98 L157.88,419.30 L158.60,419.86 L159.31,419.36 L160.03,419.32 L160.74,419.30 L161.46,419.34 L162.18,419.75 L162.89,419.66 L163.61,420.27 L164.32,419.30 L165.04,419.19 L165.75,419.53 L166.47,419.93 L167.19,419.44 L167.90,419.81 L168.62,419.66 L169.33,418.98 L170.05,419.68 L170.76,419.95 L171.48,419.54 L172.19,419.78 L172.91,420.16 L173.63,419.75 L174.34,419.45 L175.06,420.00 L175.77,419.41 L176.49,419.97 L177.20,420.39 L177.92,419.82 L178.63,420.25 L179.35,419.70 L180.07,420.28 L180.78,420.16 L181.50,420.35 L182.21,420.22 L182.93,420.19 L183.64,420.41 L184.36,420.85 L185.08,420.30 L185.79,420.47 L186.51,421.12 L187.22,420.52 L187.94,420.93 L188.65,420.89 L189.37,420.89 L190.08,420.84 L190.80,421.11" fill="none" stroke="#111" stroke-width="1.5" stroke-linejoin="round"/>
<path d="M112.80,415.02 L113.52,411.74 L114.23,410.29 L114.95,405.71 L115.66,402.56 L116.38,400.34 L117.09,400.82 L117.81,391.98 L118.52,389.50 L119.24,379.28 L119.96,383.76 L120.67,379.77 L121.39,375.92 L122.10,371.03 L122.82,370.00 L123.53,373.15 L124.25,376.81 L124.97,380.38 L125.68,382.13 L126.40,384.35 L127.11,393.80 L127.83,393.25 L128.54,396.24 L129.26,396.70 L129.97,401.15 L130.69,402.76 L131.41,404.26 L132.12,406.74 L132.84,408.60 L133.55,405.69 L134.27,410.18 L134.98,412.39 L135.70,411.26 L136.41,414.43 L137.13,414.60 L137.85,414.85 L138.56,416.19 L139.28,415.66 L139.99,416.58 L140.71,416.83 L141.42,416.92 L142.14,416.48 L142.86,417.79 L143.57,416.80 L144.29,417.82 L145.00,417.96 L145.72,417.82 L146.43,418.35 L147.15,418.27 L147.86,417.54 L148.58,417.57 L149.30,417.59 L150.01,417.80 L150.73,417.25 L151.44,418.12 L152.16,418.55 L152.87,419.06 L153.59,419.00 L154.30,417.52 L155.02,418.03 L155.74,418.27 L156.45,419.42 L157.17,418.49 L157.88,417.56 L158.60,417.32 L159.31,418.40 L160.03,418.30 L160.74,417.46 L161.46,419.27 L162.18,417.88 L162.89,418.33 L163.61,418.36 L164.32,417.14 L165.04,418.98 L165.75,417.94 L166.47,419.08 L167.19,419.45 L167.90,419.27 L168.62,418.13 L169.33,417.60 L170.05,418.37 L170.76,418.11 L171.48,417.67 L172.19,417.91 L172.91,419.08 L173.63,419.67 L174.34,418.99 L175.06,418.06 L175.77,418.82 L176.49,419.17 L177.20,418.52 L177.92,419.21 L178.63,418.36 L179.35,419.32 L180.07,419.41 L180.78,418.56 L181.50,420.07 L182.21,419.42 L182.93,419.02 L183.64,419.13 L184.36,419.96 L185.08,419.94 L185.79,419.59 L186.51,420.36 L187.22,420.07 L187.94,420.12 L188.65,420.39 L189.37,420.76 L190.08,421.12 L190.80,421.16" fill="none" stroke="#222" stroke-width="0.8" stroke-linejoin="round"/>
<rect x="112.80" y="357.60" width="78.00" height="63.80" fill="none" stroke="#111" stroke-width="1.1"/>
<line x1="112.45" y1="357.10" x2="112.45" y2="421.90" stroke="#111" stroke-width="1.7"/>
<line x1="112.80" y1="421.40" x2="190.80" y2="421.40" stroke="#111" stroke-width="1.5"/>
<text x="114.90" y="431.80" font-size="8.7" text-anchor="end" font-weight="bold" fill="#111" stroke="#111" stroke-width="0.35" textLength="6.0" lengthAdjust="spacingAndGlyphs">10</text>
<text x="115.20" y="427.90" font-size="6.0" text-anchor="start" font-weight="bold" fill="#111" stroke="#111" stroke-width="0.25" textLength="2.8" lengthAdjust="spacingAndGlyphs">0</text>
<line x1="112.80" y1="421.40" x2="112.80" y2="423.60" stroke="#111" stroke-width="0.9"/>
<text x="133.80" y="431.80" font-size="8.7" text-anchor="end" font-weight="bold" fill="#111" stroke="#111" stroke-width="0.35" textLength="6.0" lengthAdjust="spacingAndGlyphs">10</text>
<text x="134.10" y="427.90" font-size="6.0" text-anchor="start" font-weight="bold" fill="#111" stroke="#111" stroke-width="0.25" textLength="2.8" lengthAdjust="spacingAndGlyphs">1</text>
<line x1="132.30" y1="421.40" x2="132.30" y2="423.60" stroke="#111" stroke-width="0.9"/>
<text x="153.60" y="431.80" font-size="8.7" text-anchor="end" font-weight="bold" fill="#111" stroke="#111" stroke-width="0.35" textLength="6.0" lengthAdjust="spacingAndGlyphs">10</text>
<text x="153.90" y="427.90" font-size="6.0" text-anchor="start" font-weight="bold" fill="#111" stroke="#111" stroke-width="0.25" textLength="2.8" lengthAdjust="spacingAndGlyphs">2</text>
<line x1="151.80" y1="421.40" x2="151.80" y2="423.60" stroke="#111" stroke-width="0.9"/>
<text x="172.70" y="431.80" font-size="8.7" text-anchor="end" font-weight="bold" fill="#111" stroke="#111" stroke-width="0.35" textLength="6.0" lengthAdjust="spacingAndGlyphs">10</text>
<text x="173.00" y="427.90" font-size="6.0" text-anchor="start" font-weight="bold" fill="#111" stroke="#111" stroke-width="0.25" textLength="2.8" lengthAdjust="spacingAndGlyphs">3</text>
<line x1="171.30" y1="421.40" x2="171.30" y2="423.60" stroke="#111" stroke-width="0.9"/>
<text x="191.90" y="431.80" font-size="8.7" text-anchor="end" font-weight="bold" fill="#111" stroke="#111" stroke-width="0.35" textLength="6.0" lengthAdjust="spacingAndGlyphs">10</text>
<text x="192.20" y="427.90" font-size="6.0" text-anchor="start" font-weight="bold" fill="#111" stroke="#111" stroke-width="0.25" textLength="2.8" lengthAdjust="spacingAndGlyphs">4</text>
<line x1="190.80" y1="421.40" x2="190.80" y2="423.60" stroke="#111" stroke-width="0.9"/>
<text x="151.02" y="438.00" font-size="6.4" text-anchor="middle" font-weight="bold" fill="#1a1a1a" stroke="#1a1a1a" stroke-width="0.25" textLength="16.4" lengthAdjust="spacingAndGlyphs">FL2-H</text>
<text transform="translate(108.20,420.60) rotate(-90)" font-size="6.7" text-anchor="middle" font-weight="bold" fill="#1a1a1a" stroke="#1a1a1a" stroke-width="0.3" textLength="3.0" lengthAdjust="spacingAndGlyphs">0</text>
<line x1="110.20" y1="420.60" x2="112.80" y2="420.60" stroke="#111" stroke-width="0.9"/>
<text transform="translate(108.20,359.00) rotate(-90)" font-size="6.7" text-anchor="middle" font-weight="bold" fill="#1a1a1a" stroke="#1a1a1a" stroke-width="0.3" textLength="6.0" lengthAdjust="spacingAndGlyphs">80</text>
<line x1="110.20" y1="359.00" x2="112.80" y2="359.00" stroke="#111" stroke-width="0.9"/>
<text transform="translate(100.40,391.00) rotate(-90)" font-size="6.4" text-anchor="middle" font-weight="bold" fill="#1a1a1a" stroke="#1a1a1a" stroke-width="0.3" textLength="19.5" lengthAdjust="spacingAndGlyphs">Counts</text>
<text x="144.30" y="373.30" font-size="10.7" text-anchor="start" font-weight="normal" fill="#111"  stroke="#111" stroke-width="0.22">MFI=3</text>
</g>
<g>
<path d="M228.20,421.40 L228.20,408.64 L228.92,408.96 L229.65,404.92 L230.37,402.84 L231.09,400.88 L231.81,396.59 L232.54,392.86 L233.26,391.04 L233.98,385.23 L234.71,378.70 L235.43,375.90 L236.15,376.12 L236.88,371.39 L237.60,375.75 L238.32,378.86 L239.04,382.82 L239.77,386.35 L240.49,385.99 L241.21,393.59 L241.94,395.58 L242.66,401.48 L243.38,404.18 L244.10,407.71 L244.83,407.43 L245.55,408.30 L246.27,410.12 L247.00,411.02 L247.72,412.18 L248.44,412.85 L249.17,413.20 L249.89,413.75 L250.61,415.85 L251.33,416.10 L252.06,416.39 L252.78,417.57 L253.50,415.87 L254.23,416.26 L254.95,416.95 L255.67,417.37 L256.39,417.78 L257.12,417.43 L257.84,417.55 L258.56,418.11 L259.29,418.20 L260.01,417.94 L260.73,418.64 L261.46,418.37 L262.18,419.07 L262.90,418.53 L263.62,418.99 L264.35,418.83 L265.07,418.93 L265.79,418.75 L266.52,419.27 L267.24,419.01 L267.96,418.86 L268.68,419.14 L269.41,420.05 L270.13,419.26 L270.85,419.43 L271.58,419.81 L272.30,419.91 L273.02,419.63 L273.74,418.82 L274.47,420.15 L275.19,419.86 L275.91,419.73 L276.64,419.36 L277.36,419.90 L278.08,419.20 L278.81,419.88 L279.53,419.98 L280.25,419.92 L280.97,419.92 L281.70,419.49 L282.42,420.30 L283.14,420.09 L283.87,419.96 L284.59,420.13 L285.31,420.13 L286.03,419.80 L286.76,420.38 L287.48,420.49 L288.20,420.55 L288.93,420.09 L289.65,420.68 L290.37,420.35 L291.10,420.80 L291.82,420.25 L292.54,420.38 L293.26,420.55 L293.99,420.27 L294.71,420.25 L295.43,420.51 L296.16,420.17 L296.88,420.47 L297.60,420.36 L298.32,420.64 L299.05,420.70 L299.77,420.94 L300.49,420.82 L301.22,421.00 L301.94,421.07 L302.66,420.95 L303.39,421.30 L304.11,420.74 L304.83,421.05 L305.55,421.33 L306.28,421.27 L307.00,421.19 L307.00,421.40 Z" fill="#c0c0c0" stroke="none"/>
<path d="M228.20,408.64 L228.92,408.96 L229.65,404.92 L230.37,402.84 L231.09,400.88 L231.81,396.59 L232.54,392.86 L233.26,391.04 L233.98,385.23 L234.71,378.70 L235.43,375.90 L236.15,376.12 L236.88,371.39 L237.60,375.75 L238.32,378.86 L239.04,382.82 L239.77,386.35 L240.49,385.99 L241.21,393.59 L241.94,395.58 L242.66,401.48 L243.38,404.18 L244.10,407.71 L244.83,407.43 L245.55,408.30 L246.27,410.12 L247.00,411.02 L247.72,412.18 L248.44,412.85 L249.17,413.20 L249.89,413.75 L250.61,415.85 L251.33,416.10 L252.06,416.39 L252.78,417.57 L253.50,415.87 L254.23,416.26 L254.95,416.95 L255.67,417.37 L256.39,417.78 L257.12,417.43 L257.84,417.55 L258.56,418.11 L259.29,418.20 L260.01,417.94 L260.73,418.64 L261.46,418.37 L262.18,419.07 L262.90,418.53 L263.62,418.99 L264.35,418.83 L265.07,418.93 L265.79,418.75 L266.52,419.27 L267.24,419.01 L267.96,418.86 L268.68,419.14 L269.41,420.05 L270.13,419.26 L270.85,419.43 L271.58,419.81 L272.30,419.91 L273.02,419.63 L273.74,418.82 L274.47,420.15 L275.19,419.86 L275.91,419.73 L276.64,419.36 L277.36,419.90 L278.08,419.20 L278.81,419.88 L279.53,419.98 L280.25,419.92 L280.97,419.92 L281.70,419.49 L282.42,420.30 L283.14,420.09 L283.87,419.96 L284.59,420.13 L285.31,420.13 L286.03,419.80 L286.76,420.38 L287.48,420.49 L288.20,420.55 L288.93,420.09 L289.65,420.68 L290.37,420.35 L291.10,420.80 L291.82,420.25 L292.54,420.38 L293.26,420.55 L293.99,420.27 L294.71,420.25 L295.43,420.51 L296.16,420.17 L296.88,420.47 L297.60,420.36 L298.32,420.64 L299.05,420.70 L299.77,420.94 L300.49,420.82 L301.22,421.00 L301.94,421.07 L302.66,420.95 L303.39,421.30 L304.11,420.74 L304.83,421.05 L305.55,421.33 L306.28,421.27 L307.00,421.19" fill="none" stroke="#111" stroke-width="1.5" stroke-linejoin="round"/>
<path d="M228.20,409.92 L228.92,406.31 L229.65,407.30 L230.37,403.95 L231.09,400.61 L231.81,401.57 L232.54,390.79 L233.26,385.70 L233.98,381.11 L234.71,376.66 L235.43,368.41 L236.15,373.94 L236.88,363.55 L237.60,368.66 L238.32,373.61 L239.04,372.28 L239.77,378.06 L240.49,383.80 L241.21,392.49 L241.94,393.85 L242.66,395.76 L243.38,400.03 L244.10,405.65 L244.83,405.22 L245.55,406.70 L246.27,406.56 L247.00,409.20 L247.72,408.74 L248.44,411.58 L249.17,412.08 L249.89,411.63 L250.61,414.12 L251.33,412.45 L252.06,416.51 L252.78,415.45 L253.50,417.16 L254.23,417.74 L254.95,416.63 L255.67,417.15 L256.39,418.64 L257.12,417.44 L257.84,416.42 L258.56,419.61 L259.29,418.62 L260.01,419.06 L260.73,417.05 L261.46,418.20 L262.18,418.85 L262.90,418.75 L263.62,419.42 L264.35,418.66 L265.07,418.46 L265.79,419.41 L266.52,418.48 L267.24,418.25 L267.96,419.70 L268.68,419.36 L269.41,419.57 L270.13,418.20 L270.85,419.26 L271.58,420.16 L272.30,420.13 L273.02,419.85 L273.74,420.51 L274.47,419.74 L275.19,419.02 L275.91,420.48 L276.64,419.58 L277.36,419.93 L278.08,419.75 L278.81,420.23 L279.53,419.65 L280.25,420.47 L280.97,419.91 L281.70,420.14 L282.42,419.59 L283.14,420.29 L283.87,420.78 L284.59,420.22 L285.31,420.55 L286.03,419.58 L286.76,419.91 L287.48,420.40 L288.20,419.54 L288.93,420.07 L289.65,420.42 L290.37,421.40 L291.10,419.81 L291.82,420.19 L292.54,420.65 L293.26,420.45 L293.99,420.72 L294.71,420.72 L295.43,420.61 L296.16,420.21 L296.88,420.41 L297.60,420.76 L298.32,420.88 L299.05,420.81 L299.77,420.63 L300.49,420.83 L301.22,420.99 L301.94,420.93 L302.66,421.02 L303.39,420.97 L304.11,421.08 L304.83,421.12 L305.55,420.70 L306.28,421.18 L307.00,421.00" fill="none" stroke="#222" stroke-width="0.8" stroke-linejoin="round"/>
<rect x="228.20" y="357.60" width="78.80" height="63.80" fill="none" stroke="#111" stroke-width="1.1"/>
<line x1="227.85" y1="357.10" x2="227.85" y2="421.90" stroke="#111" stroke-width="1.7"/>
<line x1="228.20" y1="421.40" x2="307.00" y2="421.40" stroke="#111" stroke-width="1.5"/>
<text x="230.30" y="431.80" font-size="8.7" text-anchor="end" font-weight="bold" fill="#111" stroke="#111" stroke-width="0.35" textLength="6.0" lengthAdjust="spacingAndGlyphs">10</text>
<text x="230.60" y="427.90" font-size="6.0" text-anchor="start" font-weight="bold" fill="#111" stroke="#111" stroke-width="0.25" textLength="2.8" lengthAdjust="spacingAndGlyphs">0</text>
<line x1="228.20" y1="421.40" x2="228.20" y2="423.60" stroke="#111" stroke-width="0.9"/>
<text x="249.40" y="431.80" font-size="8.7" text-anchor="end" font-weight="bold" fill="#111" stroke="#111" stroke-width="0.35" textLength="6.0" lengthAdjust="spacingAndGlyphs">10</text>
<text x="249.70" y="427.90" font-size="6.0" text-anchor="start" font-weight="bold" fill="#111" stroke="#111" stroke-width="0.25" textLength="2.8" lengthAdjust="spacingAndGlyphs">1</text>
<line x1="247.90" y1="421.40" x2="247.90" y2="423.60" stroke="#111" stroke-width="0.9"/>
<text x="269.40" y="431.80" font-size="8.7" text-anchor="end" font-weight="bold" fill="#111" stroke="#111" stroke-width="0.35" textLength="6.0" lengthAdjust="spacingAndGlyphs">10</text>
<text x="269.70" y="427.90" font-size="6.0" text-anchor="start" font-weight="bold" fill="#111" stroke="#111" stroke-width="0.25" textLength="2.8" lengthAdjust="spacingAndGlyphs">2</text>
<line x1="267.60" y1="421.40" x2="267.60" y2="423.60" stroke="#111" stroke-width="0.9"/>
<text x="288.70" y="431.80" font-size="8.7" text-anchor="end" font-weight="bold" fill="#111" stroke="#111" stroke-width="0.35" textLength="6.0" lengthAdjust="spacingAndGlyphs">10</text>
<text x="289.00" y="427.90" font-size="6.0" text-anchor="start" font-weight="bold" fill="#111" stroke="#111" stroke-width="0.25" textLength="2.8" lengthAdjust="spacingAndGlyphs">3</text>
<line x1="287.30" y1="421.40" x2="287.30" y2="423.60" stroke="#111" stroke-width="0.9"/>
<text x="308.10" y="431.80" font-size="8.7" text-anchor="end" font-weight="bold" fill="#111" stroke="#111" stroke-width="0.35" textLength="6.0" lengthAdjust="spacingAndGlyphs">10</text>
<text x="308.40" y="427.90" font-size="6.0" text-anchor="start" font-weight="bold" fill="#111" stroke="#111" stroke-width="0.25" textLength="2.8" lengthAdjust="spacingAndGlyphs">4</text>
<line x1="307.00" y1="421.40" x2="307.00" y2="423.60" stroke="#111" stroke-width="0.9"/>
<text x="266.81" y="438.00" font-size="6.4" text-anchor="middle" font-weight="bold" fill="#1a1a1a" stroke="#1a1a1a" stroke-width="0.25" textLength="16.4" lengthAdjust="spacingAndGlyphs">FL2-H</text>
<text transform="translate(223.60,420.60) rotate(-90)" font-size="6.7" text-anchor="middle" font-weight="bold" fill="#1a1a1a" stroke="#1a1a1a" stroke-width="0.3" textLength="3.0" lengthAdjust="spacingAndGlyphs">0</text>
<line x1="225.60" y1="420.60" x2="228.20" y2="420.60" stroke="#111" stroke-width="0.9"/>
<text transform="translate(223.60,359.00) rotate(-90)" font-size="6.7" text-anchor="middle" font-weight="bold" fill="#1a1a1a" stroke="#1a1a1a" stroke-width="0.3" textLength="6.0" lengthAdjust="spacingAndGlyphs">80</text>
<line x1="225.60" y1="359.00" x2="228.20" y2="359.00" stroke="#111" stroke-width="0.9"/>
<text transform="translate(215.80,391.00) rotate(-90)" font-size="6.4" text-anchor="middle" font-weight="bold" fill="#1a1a1a" stroke="#1a1a1a" stroke-width="0.3" textLength="19.5" lengthAdjust="spacingAndGlyphs">Counts</text>
<text x="259.50" y="373.30" font-size="10.7" text-anchor="start" font-weight="normal" fill="#111"  stroke="#111" stroke-width="0.22">MFI=3</text>
</g>
<g>
<path d="M329.60,420.30 L329.60,399.21 L330.32,400.73 L331.05,399.60 L331.77,398.38 L332.50,395.93 L333.22,393.17 L333.95,390.17 L334.67,386.44 L335.40,382.50 L336.12,379.01 L336.85,377.72 L337.57,376.32 L338.30,376.80 L339.02,377.11 L339.75,373.63 L340.47,377.62 L341.20,378.67 L341.92,380.65 L342.65,382.93 L343.37,385.91 L344.10,388.61 L344.82,389.94 L345.54,393.17 L346.27,396.86 L346.99,398.77 L347.72,403.28 L348.44,404.08 L349.17,409.36 L349.89,408.56 L350.62,411.91 L351.34,412.99 L352.07,413.07 L352.79,413.74 L353.52,416.23 L354.24,416.75 L354.97,416.97 L355.69,417.75 L356.42,416.87 L357.14,417.47 L357.87,417.70 L358.59,417.52 L359.32,418.48 L360.04,417.78 L360.77,418.27 L361.49,418.41 L362.21,418.22 L362.94,419.10 L363.66,418.48 L364.39,418.20 L365.11,418.55 L365.84,418.61 L366.56,418.81 L367.29,419.17 L368.01,419.13 L368.74,419.07 L369.46,419.23 L370.19,419.68 L370.91,418.76 L371.64,419.40 L372.36,419.44 L373.09,419.56 L373.81,419.58 L374.54,419.38 L375.26,419.46 L375.99,419.37 L376.71,419.56 L377.43,419.81 L378.16,419.54 L378.88,419.55 L379.61,419.81 L380.33,419.52 L381.06,419.89 L381.78,419.73 L382.51,419.45 L383.23,419.58 L383.96,419.33 L384.68,419.40 L385.41,419.44 L386.13,419.67 L386.86,419.54 L387.58,419.68 L388.31,419.54 L389.03,419.65 L389.76,419.65 L390.48,419.86 L391.21,419.77 L391.93,419.51 L392.66,420.15 L393.38,420.04 L394.10,419.74 L394.83,419.77 L395.55,419.71 L396.28,419.64 L397.00,419.67 L397.73,419.87 L398.45,419.81 L399.18,419.82 L399.90,419.98 L400.63,420.08 L401.35,420.11 L402.08,420.13 L402.80,419.85 L403.53,419.79 L404.25,419.74 L404.98,419.87 L405.70,419.92 L406.43,419.91 L407.15,420.03 L407.88,420.06 L408.60,420.01 L408.60,420.30 Z" fill="#c0c0c0" stroke="none"/>
<path d="M329.60,399.21 L330.32,400.73 L331.05,399.60 L331.77,398.38 L332.50,395.93 L333.22,393.17 L333.95,390.17 L334.67,386.44 L335.40,382.50 L336.12,379.01 L336.85,377.72 L337.57,376.32 L338.30,376.80 L339.02,377.11 L339.75,373.63 L340.47,377.62 L341.20,378.67 L341.92,380.65 L342.65,382.93 L343.37,385.91 L344.10,388.61 L344.82,389.94 L345.54,393.17 L346.27,396.86 L346.99,398.77 L347.72,403.28 L348.44,404.08 L349.17,409.36 L349.89,408.56 L350.62,411.91 L351.34,412.99 L352.07,413.07 L352.79,413.74 L353.52,416.23 L354.24,416.75 L354.97,416.97 L355.69,417.75 L356.42,416.87 L357.14,417.47 L357.87,417.70 L358.59,417.52 L359.32,418.48 L360.04,417.78 L360.77,418.27 L361.49,418.41 L362.21,418.22 L362.94,419.10 L363.66,418.48 L364.39,418.20 L365.11,418.55 L365.84,418.61 L366.56,418.81 L367.29,419.17 L368.01,419.13 L368.74,419.07 L369.46,419.23 L370.19,419.68 L370.91,418.76 L371.64,419.40 L372.36,419.44 L373.09,419.56 L373.81,419.58 L374.54,419.38 L375.26,419.46 L375.99,419.37 L376.71,419.56 L377.43,419.81 L378.16,419.54 L378.88,419.55 L379.61,419.81 L380.33,419.52 L381.06,419.89 L381.78,419.73 L382.51,419.45 L383.23,419.58 L383.96,419.33 L384.68,419.40 L385.41,419.44 L386.13,419.67 L386.86,419.54 L387.58,419.68 L388.31,419.54 L389.03,419.65 L389.76,419.65 L390.48,419.86 L391.21,419.77 L391.93,419.51 L392.66,420.15 L393.38,420.04 L394.10,419.74 L394.83,419.77 L395.55,419.71 L396.28,419.64 L397.00,419.67 L397.73,419.87 L398.45,419.81 L399.18,419.82 L399.90,419.98 L400.63,420.08 L401.35,420.11 L402.08,420.13 L402.80,419.85 L403.53,419.79 L404.25,419.74 L404.98,419.87 L405.70,419.92 L406.43,419.91 L407.15,420.03 L407.88,420.06 L408.60,420.01" fill="none" stroke="#111" stroke-width="1.5" stroke-linejoin="round"/>
<path d="M329.60,399.21 L330.32,400.08 L331.05,399.69 L331.77,401.32 L332.50,400.11 L333.22,395.83 L333.95,389.59 L334.67,390.53 L335.40,387.09 L336.12,378.87 L336.85,381.73 L337.57,377.50 L338.30,374.08 L339.02,375.25 L339.75,373.92 L340.47,376.62 L341.20,374.86 L341.92,377.71 L342.65,381.61 L343.37,380.21 L344.10,387.63 L344.82,387.15 L345.54,390.91 L346.27,390.49 L346.99,395.38 L347.72,397.64 L348.44,398.82 L349.17,405.78 L349.89,406.72 L350.62,408.41 L351.34,412.45 L352.07,410.73 L352.79,414.37 L353.52,415.38 L354.24,416.38 L354.97,416.69 L355.69,416.41 L356.42,417.47 L357.14,418.31 L357.87,417.93 L358.59,417.44 L359.32,418.32 L360.04,418.70 L360.77,418.07 L361.49,417.33 L362.21,418.64 L362.94,417.56 L363.66,418.49 L364.39,419.08 L365.11,419.33 L365.84,418.34 L366.56,419.31 L367.29,419.20 L368.01,419.33 L368.74,419.30 L369.46,419.39 L370.19,419.94 L370.91,419.32 L371.64,419.61 L372.36,419.79 L373.09,418.69 L373.81,419.39 L374.54,419.76 L375.26,419.82 L375.99,419.53 L376.71,419.41 L377.43,419.54 L378.16,418.89 L378.88,419.46 L379.61,418.78 L380.33,419.61 L381.06,419.90 L381.78,419.00 L382.51,419.83 L383.23,419.35 L383.96,419.40 L384.68,419.96 L385.41,419.29 L386.13,419.80 L386.86,419.83 L387.58,419.82 L388.31,419.90 L389.03,419.79 L389.76,419.62 L390.48,419.63 L391.21,420.18 L391.93,420.13 L392.66,419.57 L393.38,419.41 L394.10,419.56 L394.83,419.80 L395.55,419.73 L396.28,420.19 L397.00,419.55 L397.73,419.77 L398.45,419.67 L399.18,420.08 L399.90,419.51 L400.63,419.93 L401.35,420.03 L402.08,419.79 L402.80,420.02 L403.53,419.96 L404.25,419.85 L404.98,419.82 L405.70,420.17 L406.43,420.03 L407.15,419.92 L407.88,420.09 L408.60,420.10" fill="none" stroke="#222" stroke-width="0.8" stroke-linejoin="round"/>
<rect x="329.60" y="356.40" width="79.00" height="63.90" fill="none" stroke="#111" stroke-width="1.1"/>
<line x1="328.50" y1="355.90" x2="328.50" y2="420.80" stroke="#111" stroke-width="3.2"/>
<line x1="329.60" y1="420.30" x2="408.60" y2="420.30" stroke="#111" stroke-width="1.5"/>
<text x="332.30" y="431.40" font-size="8.7" text-anchor="end" font-weight="bold" fill="#111" stroke="#111" stroke-width="0.35" textLength="6.0" lengthAdjust="spacingAndGlyphs">10</text>
<text x="332.60" y="427.50" font-size="6.0" text-anchor="start" font-weight="bold" fill="#111" stroke="#111" stroke-width="0.25" textLength="2.8" lengthAdjust="spacingAndGlyphs">0</text>
<line x1="329.60" y1="420.30" x2="329.60" y2="422.50" stroke="#111" stroke-width="0.9"/>
<text x="351.75" y="431.40" font-size="8.7" text-anchor="end" font-weight="bold" fill="#111" stroke="#111" stroke-width="0.35" textLength="6.0" lengthAdjust="spacingAndGlyphs">10</text>
<text x="352.05" y="427.50" font-size="6.0" text-anchor="start" font-weight="bold" fill="#111" stroke="#111" stroke-width="0.25" textLength="2.8" lengthAdjust="spacingAndGlyphs">1</text>
<line x1="349.35" y1="420.30" x2="349.35" y2="422.50" stroke="#111" stroke-width="0.9"/>
<text x="371.10" y="431.40" font-size="8.7" text-anchor="end" font-weight="bold" fill="#111" stroke="#111" stroke-width="0.35" textLength="6.0" lengthAdjust="spacingAndGlyphs">10</text>
<text x="371.40" y="427.50" font-size="6.0" text-anchor="start" font-weight="bold" fill="#111" stroke="#111" stroke-width="0.25" textLength="2.8" lengthAdjust="spacingAndGlyphs">2</text>
<line x1="369.10" y1="420.30" x2="369.10" y2="422.50" stroke="#111" stroke-width="0.9"/>
<text x="390.55" y="431.40" font-size="8.7" text-anchor="end" font-weight="bold" fill="#111" stroke="#111" stroke-width="0.35" textLength="6.0" lengthAdjust="spacingAndGlyphs">10</text>
<text x="390.85" y="427.50" font-size="6.0" text-anchor="start" font-weight="bold" fill="#111" stroke="#111" stroke-width="0.25" textLength="2.8" lengthAdjust="spacingAndGlyphs">3</text>
<line x1="388.85" y1="420.30" x2="388.85" y2="422.50" stroke="#111" stroke-width="0.9"/>
<text x="409.70" y="431.40" font-size="8.7" text-anchor="end" font-weight="bold" fill="#111" stroke="#111" stroke-width="0.35" textLength="6.0" lengthAdjust="spacingAndGlyphs">10</text>
<text x="410.00" y="427.50" font-size="6.0" text-anchor="start" font-weight="bold" fill="#111" stroke="#111" stroke-width="0.25" textLength="2.8" lengthAdjust="spacingAndGlyphs">4</text>
<line x1="408.60" y1="420.30" x2="408.60" y2="422.50" stroke="#111" stroke-width="0.9"/>
<text x="368.31" y="438.10" font-size="6.8" text-anchor="middle" font-weight="bold" fill="#1a1a1a" stroke="#1a1a1a" stroke-width="0.25" textLength="16.4" lengthAdjust="spacingAndGlyphs">FL2-H</text>
<text transform="translate(325.00,420.60) rotate(-90)" font-size="6.7" text-anchor="middle" font-weight="bold" fill="#1a1a1a" stroke="#1a1a1a" stroke-width="0.3" textLength="3.0" lengthAdjust="spacingAndGlyphs">0</text>
<line x1="327.00" y1="420.60" x2="329.60" y2="420.60" stroke="#111" stroke-width="0.9"/>
<text transform="translate(325.00,359.00) rotate(-90)" font-size="6.7" text-anchor="middle" font-weight="bold" fill="#1a1a1a" stroke="#1a1a1a" stroke-width="0.3" textLength="6.0" lengthAdjust="spacingAndGlyphs">80</text>
<line x1="327.00" y1="359.00" x2="329.60" y2="359.00" stroke="#111" stroke-width="0.9"/>
<text transform="translate(317.60,389.85) rotate(-90)" font-size="6.4" text-anchor="middle" font-weight="bold" fill="#1a1a1a" stroke="#1a1a1a" stroke-width="0.3" textLength="19.5" lengthAdjust="spacingAndGlyphs">Counts</text>
<text x="370.50" y="372.50" font-size="10.7" text-anchor="start" font-weight="normal" fill="#111"  stroke="#111" stroke-width="0.22">MFI=3</text>
</g>
<g>
<path d="M436.50,420.50 L436.50,396.93 L437.21,397.32 L437.93,400.23 L438.64,400.06 L439.36,396.37 L440.07,391.36 L440.78,389.74 L441.50,387.55 L442.21,385.34 L442.92,381.96 L443.64,378.11 L444.35,380.74 L445.07,376.67 L445.78,378.81 L446.49,376.49 L447.21,376.41 L447.92,381.44 L448.63,382.99 L449.35,385.72 L450.06,386.72 L450.78,390.08 L451.49,393.76 L452.20,395.83 L452.92,398.24 L453.63,400.35 L454.34,402.98 L455.06,406.88 L455.77,408.01 L456.49,410.31 L457.20,412.32 L457.91,413.93 L458.63,414.60 L459.34,415.12 L460.05,415.63 L460.77,417.59 L461.48,416.62 L462.20,417.53 L462.91,417.23 L463.62,417.61 L464.34,417.46 L465.05,418.16 L465.76,417.89 L466.48,418.18 L467.19,418.72 L467.91,418.24 L468.62,418.63 L469.33,419.09 L470.05,418.57 L470.76,419.00 L471.47,418.52 L472.19,419.16 L472.90,419.22 L473.62,419.05 L474.33,419.06 L475.04,419.18 L475.76,419.73 L476.47,419.43 L477.18,420.12 L477.90,419.54 L478.61,420.14 L479.33,419.45 L480.04,419.74 L480.75,419.99 L481.47,419.43 L482.18,419.59 L482.89,419.63 L483.61,419.54 L484.32,419.61 L485.04,419.66 L485.75,419.68 L486.46,419.42 L487.18,420.10 L487.89,420.09 L488.60,419.89 L489.32,419.74 L490.03,419.82 L490.75,419.50 L491.46,420.12 L492.17,419.93 L492.89,419.87 L493.60,419.72 L494.31,420.03 L495.03,419.96 L495.74,420.15 L496.46,419.77 L497.17,419.90 L497.88,420.49 L498.60,419.91 L499.31,420.08 L500.02,420.12 L500.74,419.99 L501.45,419.77 L502.17,420.14 L502.88,420.42 L503.59,419.86 L504.31,419.71 L505.02,420.09 L505.73,420.16 L506.45,420.11 L507.16,420.25 L507.88,420.12 L508.59,420.13 L509.30,419.94 L510.02,420.29 L510.73,420.09 L511.44,420.13 L512.16,420.12 L512.87,420.23 L513.59,420.24 L514.30,419.94 L514.30,420.50 Z" fill="#c0c0c0" stroke="none"/>
<path d="M436.50,396.93 L437.21,397.32 L437.93,400.23 L438.64,400.06 L439.36,396.37 L440.07,391.36 L440.78,389.74 L441.50,387.55 L442.21,385.34 L442.92,381.96 L443.64,378.11 L444.35,380.74 L445.07,376.67 L445.78,378.81 L446.49,376.49 L447.21,376.41 L447.92,381.44 L448.63,382.99 L449.35,385.72 L450.06,386.72 L450.78,390.08 L451.49,393.76 L452.20,395.83 L452.92,398.24 L453.63,400.35 L454.34,402.98 L455.06,406.88 L455.77,408.01 L456.49,410.31 L457.20,412.32 L457.91,413.93 L458.63,414.60 L459.34,415.12 L460.05,415.63 L460.77,417.59 L461.48,416.62 L462.20,417.53 L462.91,417.23 L463.62,417.61 L464.34,417.46 L465.05,418.16 L465.76,417.89 L466.48,418.18 L467.19,418.72 L467.91,418.24 L468.62,418.63 L469.33,419.09 L470.05,418.57 L470.76,419.00 L471.47,418.52 L472.19,419.16 L472.90,419.22 L473.62,419.05 L474.33,419.06 L475.04,419.18 L475.76,419.73 L476.47,419.43 L477.18,420.12 L477.90,419.54 L478.61,420.14 L479.33,419.45 L480.04,419.74 L480.75,419.99 L481.47,419.43 L482.18,419.59 L482.89,419.63 L483.61,419.54 L484.32,419.61 L485.04,419.66 L485.75,419.68 L486.46,419.42 L487.18,420.10 L487.89,420.09 L488.60,419.89 L489.32,419.74 L490.03,419.82 L490.75,419.50 L491.46,420.12 L492.17,419.93 L492.89,419.87 L493.60,419.72 L494.31,420.03 L495.03,419.96 L495.74,420.15 L496.46,419.77 L497.17,419.90 L497.88,420.49 L498.60,419.91 L499.31,420.08 L500.02,420.12 L500.74,419.99 L501.45,419.77 L502.17,420.14 L502.88,420.42 L503.59,419.86 L504.31,419.71 L505.02,420.09 L505.73,420.16 L506.45,420.11 L507.16,420.25 L507.88,420.12 L508.59,420.13 L509.30,419.94 L510.02,420.29 L510.73,420.09 L511.44,420.13 L512.16,420.12 L512.87,420.23 L513.59,420.24 L514.30,419.94" fill="none" stroke="#111" stroke-width="1.5" stroke-linejoin="round"/>
<path d="M436.50,396.93 L437.21,397.67 L437.93,398.66 L438.64,402.09 L439.36,398.04 L440.07,393.94 L440.78,394.60 L441.50,390.58 L442.21,388.11 L442.92,384.31 L443.64,383.89 L444.35,376.50 L445.07,375.42 L445.78,379.33 L446.49,374.03 L447.21,375.50 L447.92,376.76 L448.63,380.74 L449.35,381.53 L450.06,383.34 L450.78,383.28 L451.49,387.93 L452.20,392.25 L452.92,394.56 L453.63,397.49 L454.34,399.18 L455.06,404.51 L455.77,404.11 L456.49,407.43 L457.20,411.03 L457.91,411.49 L458.63,413.24 L459.34,415.73 L460.05,415.94 L460.77,415.87 L461.48,417.02 L462.20,417.65 L462.91,416.76 L463.62,416.83 L464.34,417.22 L465.05,417.20 L465.76,417.41 L466.48,418.47 L467.19,418.66 L467.91,419.07 L468.62,418.31 L469.33,418.81 L470.05,419.42 L470.76,418.14 L471.47,418.75 L472.19,418.17 L472.90,419.04 L473.62,419.16 L474.33,419.32 L475.04,419.57 L475.76,419.26 L476.47,419.45 L477.18,419.02 L477.90,419.49 L478.61,419.78 L479.33,419.66 L480.04,420.05 L480.75,419.77 L481.47,419.47 L482.18,419.52 L482.89,419.45 L483.61,419.64 L484.32,419.35 L485.04,419.44 L485.75,419.47 L486.46,418.70 L487.18,419.44 L487.89,420.23 L488.60,419.48 L489.32,419.77 L490.03,418.92 L490.75,419.98 L491.46,419.75 L492.17,419.86 L492.89,419.88 L493.60,419.96 L494.31,420.24 L495.03,419.84 L495.74,419.93 L496.46,419.58 L497.17,419.93 L497.88,419.86 L498.60,419.69 L499.31,419.71 L500.02,420.19 L500.74,420.15 L501.45,419.82 L502.17,420.31 L502.88,420.48 L503.59,420.38 L504.31,419.71 L505.02,420.16 L505.73,420.11 L506.45,420.46 L507.16,419.85 L507.88,419.73 L508.59,420.50 L509.30,419.95 L510.02,420.41 L510.73,420.09 L511.44,420.12 L512.16,420.11 L512.87,420.42 L513.59,420.00 L514.30,419.98" fill="none" stroke="#222" stroke-width="0.8" stroke-linejoin="round"/>
<rect x="436.50" y="356.80" width="77.80" height="63.70" fill="none" stroke="#111" stroke-width="1.1"/>
<line x1="434.90" y1="356.30" x2="434.90" y2="421.00" stroke="#111" stroke-width="4.2"/>
<line x1="436.50" y1="420.50" x2="514.30" y2="420.50" stroke="#111" stroke-width="1.5"/>
<text x="439.20" y="431.60" font-size="8.7" text-anchor="end" font-weight="bold" fill="#111" stroke="#111" stroke-width="0.35" textLength="6.0" lengthAdjust="spacingAndGlyphs">10</text>
<text x="439.50" y="427.70" font-size="6.0" text-anchor="start" font-weight="bold" fill="#111" stroke="#111" stroke-width="0.25" textLength="2.8" lengthAdjust="spacingAndGlyphs">0</text>
<line x1="436.50" y1="420.50" x2="436.50" y2="422.70" stroke="#111" stroke-width="0.9"/>
<text x="458.35" y="431.60" font-size="8.7" text-anchor="end" font-weight="bold" fill="#111" stroke="#111" stroke-width="0.35" textLength="6.0" lengthAdjust="spacingAndGlyphs">10</text>
<text x="458.65" y="427.70" font-size="6.0" text-anchor="start" font-weight="bold" fill="#111" stroke="#111" stroke-width="0.25" textLength="2.8" lengthAdjust="spacingAndGlyphs">1</text>
<line x1="455.95" y1="420.50" x2="455.95" y2="422.70" stroke="#111" stroke-width="0.9"/>
<text x="477.40" y="431.60" font-size="8.7" text-anchor="end" font-weight="bold" fill="#111" stroke="#111" stroke-width="0.35" textLength="6.0" lengthAdjust="spacingAndGlyphs">10</text>
<text x="477.70" y="427.70" font-size="6.0" text-anchor="start" font-weight="bold" fill="#111" stroke="#111" stroke-width="0.25" textLength="2.8" lengthAdjust="spacingAndGlyphs">2</text>
<line x1="475.40" y1="420.50" x2="475.40" y2="422.70" stroke="#111" stroke-width="0.9"/>
<text x="496.55" y="431.60" font-size="8.7" text-anchor="end" font-weight="bold" fill="#111" stroke="#111" stroke-width="0.35" textLength="6.0" lengthAdjust="spacingAndGlyphs">10</text>
<text x="496.85" y="427.70" font-size="6.0" text-anchor="start" font-weight="bold" fill="#111" stroke="#111" stroke-width="0.25" textLength="2.8" lengthAdjust="spacingAndGlyphs">3</text>
<line x1="494.85" y1="420.50" x2="494.85" y2="422.70" stroke="#111" stroke-width="0.9"/>
<text x="515.40" y="431.60" font-size="8.7" text-anchor="end" font-weight="bold" fill="#111" stroke="#111" stroke-width="0.35" textLength="6.0" lengthAdjust="spacingAndGlyphs">10</text>
<text x="515.70" y="427.70" font-size="6.0" text-anchor="start" font-weight="bold" fill="#111" stroke="#111" stroke-width="0.25" textLength="2.8" lengthAdjust="spacingAndGlyphs">4</text>
<line x1="514.30" y1="420.50" x2="514.30" y2="422.70" stroke="#111" stroke-width="0.9"/>
<text x="474.62" y="438.30" font-size="6.8" text-anchor="middle" font-weight="bold" fill="#1a1a1a" stroke="#1a1a1a" stroke-width="0.25" textLength="16.4" lengthAdjust="spacingAndGlyphs">FL2-H</text>
<text transform="translate(431.90,420.60) rotate(-90)" font-size="6.7" text-anchor="middle" font-weight="bold" fill="#1a1a1a" stroke="#1a1a1a" stroke-width="0.3" textLength="3.0" lengthAdjust="spacingAndGlyphs">0</text>
<line x1="433.90" y1="420.60" x2="436.50" y2="420.60" stroke="#111" stroke-width="0.9"/>
<text transform="translate(431.90,359.00) rotate(-90)" font-size="6.7" text-anchor="middle" font-weight="bold" fill="#1a1a1a" stroke="#1a1a1a" stroke-width="0.3" textLength="6.0" lengthAdjust="spacingAndGlyphs">80</text>
<line x1="433.90" y1="359.00" x2="436.50" y2="359.00" stroke="#111" stroke-width="0.9"/>
<text transform="translate(424.10,390.15) rotate(-90)" font-size="6.4" text-anchor="middle" font-weight="bold" fill="#1a1a1a" stroke="#1a1a1a" stroke-width="0.3" textLength="19.5" lengthAdjust="spacingAndGlyphs">Counts</text>
<text x="479.20" y="372.70" font-size="10.7" text-anchor="start" font-weight="normal" fill="#111"  stroke="#111" stroke-width="0.22">MFI=3</text>
</g>
<g>
<path d="M113.30,521.20 L113.30,518.78 L114.01,516.87 L114.73,514.83 L115.44,515.69 L116.16,511.39 L116.87,508.00 L117.59,503.04 L118.30,497.61 L119.02,491.99 L119.73,488.31 L120.45,480.55 L121.16,475.04 L121.88,471.39 L122.59,464.81 L123.31,464.82 L124.02,472.57 L124.73,475.55 L125.45,481.46 L126.16,484.73 L126.88,493.19 L127.59,497.71 L128.31,499.27 L129.02,504.78 L129.74,506.28 L130.45,509.76 L131.17,512.60 L131.88,511.85 L132.60,514.76 L133.31,515.60 L134.03,517.07 L134.74,516.69 L135.46,517.97 L136.17,519.05 L136.88,518.87 L137.60,518.51 L138.31,519.10 L139.03,519.11 L139.74,519.58 L140.46,519.69 L141.17,519.49 L141.89,519.53 L142.60,520.30 L143.32,519.46 L144.03,520.28 L144.75,520.04 L145.46,520.27 L146.18,520.35 L146.89,519.32 L147.60,520.71 L148.32,520.05 L149.03,520.19 L149.75,520.40 L150.46,520.72 L151.18,520.11 L151.89,519.96 L152.61,519.95 L153.32,520.57 L154.04,520.31 L154.75,519.57 L155.47,520.63 L156.18,520.35 L156.90,519.96 L157.61,520.26 L158.32,520.04 L159.04,520.24 L159.75,520.32 L160.47,520.56 L161.18,520.40 L161.90,520.26 L162.61,520.17 L163.33,520.63 L164.04,520.49 L164.76,520.68 L165.47,520.22 L166.19,520.39 L166.90,520.59 L167.62,520.40 L168.33,520.15 L169.04,520.18 L169.76,520.42 L170.47,521.20 L171.19,520.51 L171.90,520.56 L172.62,520.41 L173.33,520.69 L174.05,520.84 L174.76,520.57 L175.48,520.83 L176.19,520.60 L176.91,520.54 L177.62,520.44 L178.34,520.51 L179.05,520.37 L179.77,520.78 L180.48,520.76 L181.19,521.14 L181.91,520.86 L182.62,520.75 L183.34,520.52 L184.05,520.77 L184.77,520.54 L185.48,520.98 L186.20,521.09 L186.91,520.79 L187.63,520.95 L188.34,520.91 L189.06,520.62 L189.77,521.00 L190.49,520.90 L191.20,520.81 L191.20,521.20 Z" fill="#c0c0c0" stroke="none"/>
<path d="M113.30,518.78 L114.01,516.87 L114.73,514.83 L115.44,515.69 L116.16,511.39 L116.87,508.00 L117.59,503.04 L118.30,497.61 L119.02,491.99 L119.73,488.31 L120.45,480.55 L121.16,475.04 L121.88,471.39 L122.59,464.81 L123.31,464.82 L124.02,472.57 L124.73,475.55 L125.45,481.46 L126.16,484.73 L126.88,493.19 L127.59,497.71 L128.31,499.27 L129.02,504.78 L129.74,506.28 L130.45,509.76 L131.17,512.60 L131.88,511.85 L132.60,514.76 L133.31,515.60 L134.03,517.07 L134.74,516.69 L135.46,517.97 L136.17,519.05 L136.88,518.87 L137.60,518.51 L138.31,519.10 L139.03,519.11 L139.74,519.58 L140.46,519.69 L141.17,519.49 L141.89,519.53 L142.60,520.30 L143.32,519.46 L144.03,520.28 L144.75,520.04 L145.46,520.27 L146.18,520.35 L146.89,519.32 L147.60,520.71 L148.32,520.05 L149.03,520.19 L149.75,520.40 L150.46,520.72 L151.18,520.11 L151.89,519.96 L152.61,519.95 L153.32,520.57 L154.04,520.31 L154.75,519.57 L155.47,520.63 L156.18,520.35 L156.90,519.96 L157.61,520.26 L158.32,520.04 L159.04,520.24 L159.75,520.32 L160.47,520.56 L161.18,520.40 L161.90,520.26 L162.61,520.17 L163.33,520.63 L164.04,520.49 L164.76,520.68 L165.47,520.22 L166.19,520.39 L166.90,520.59 L167.62,520.40 L168.33,520.15 L169.04,520.18 L169.76,520.42 L170.47,521.20 L171.19,520.51 L171.90,520.56 L172.62,520.41 L173.33,520.69 L174.05,520.84 L174.76,520.57 L175.48,520.83 L176.19,520.60 L176.91,520.54 L177.62,520.44 L178.34,520.51 L179.05,520.37 L179.77,520.78 L180.48,520.76 L181.19,521.14 L181.91,520.86 L182.62,520.75 L183.34,520.52 L184.05,520.77 L184.77,520.54 L185.48,520.98 L186.20,521.09 L186.91,520.79 L187.63,520.95 L188.34,520.91 L189.06,520.62 L189.77,521.00 L190.49,520.90 L191.20,520.81" fill="none" stroke="#111" stroke-width="1.5" stroke-linejoin="round"/>
<path d="M113.30,495.75 L114.01,507.84 L114.73,513.79 L115.44,513.44 L116.16,511.45 L116.87,507.33 L117.59,504.01 L118.30,500.90 L119.02,495.20 L119.73,489.87 L120.45,484.08 L121.16,475.88 L121.88,473.63 L122.59,466.67 L123.31,464.68 L124.02,470.42 L124.73,469.53 L125.45,469.09 L126.16,471.54 L126.88,482.46 L127.59,488.79 L128.31,493.86 L129.02,494.90 L129.74,501.43 L130.45,504.59 L131.17,508.25 L131.88,509.22 L132.60,510.82 L133.31,513.92 L134.03,513.57 L134.74,515.82 L135.46,516.30 L136.17,517.19 L136.88,517.80 L137.60,518.36 L138.31,517.69 L139.03,518.16 L139.74,518.83 L140.46,518.92 L141.17,519.95 L141.89,519.23 L142.60,520.15 L143.32,519.74 L144.03,519.70 L144.75,520.07 L145.46,520.00 L146.18,520.40 L146.89,520.71 L147.60,520.32 L148.32,520.59 L149.03,519.91 L149.75,520.20 L150.46,520.05 L151.18,520.32 L151.89,520.26 L152.61,519.82 L153.32,520.25 L154.04,519.66 L154.75,519.83 L155.47,520.30 L156.18,519.78 L156.90,520.75 L157.61,520.02 L158.32,520.62 L159.04,520.87 L159.75,520.26 L160.47,520.34 L161.18,520.77 L161.90,520.71 L162.61,520.59 L163.33,520.64 L164.04,520.36 L164.76,521.20 L165.47,520.31 L166.19,520.23 L166.90,520.81 L167.62,520.62 L168.33,520.45 L169.04,520.54 L169.76,520.55 L170.47,520.14 L171.19,520.05 L171.90,520.52 L172.62,520.80 L173.33,520.42 L174.05,520.49 L174.76,520.82 L175.48,520.80 L176.19,520.48 L176.91,520.29 L177.62,520.83 L178.34,521.20 L179.05,520.84 L179.77,520.97 L180.48,520.58 L181.19,521.04 L181.91,520.89 L182.62,520.78 L183.34,520.69 L184.05,521.05 L184.77,521.05 L185.48,520.92 L186.20,520.71 L186.91,520.96 L187.63,521.08 L188.34,520.97 L189.06,521.12 L189.77,520.86 L190.49,520.91 L191.20,520.79" fill="none" stroke="#222" stroke-width="1.3" stroke-linejoin="round"/>
<line x1="125.14" y1="478.78" x2="125.14" y2="460.60" stroke="#222" stroke-width="0.9"/>
<rect x="113.30" y="460.60" width="77.90" height="60.60" fill="none" stroke="#111" stroke-width="1.1"/>
<line x1="112.95" y1="460.10" x2="112.95" y2="521.70" stroke="#111" stroke-width="1.7"/>
<line x1="113.30" y1="521.20" x2="191.20" y2="521.20" stroke="#111" stroke-width="1.5"/>
<text x="115.40" y="531.60" font-size="8.7" text-anchor="end" font-weight="bold" fill="#111" stroke="#111" stroke-width="0.35" textLength="6.0" lengthAdjust="spacingAndGlyphs">10</text>
<text x="115.70" y="527.70" font-size="6.0" text-anchor="start" font-weight="bold" fill="#111" stroke="#111" stroke-width="0.25" textLength="2.8" lengthAdjust="spacingAndGlyphs">0</text>
<line x1="113.30" y1="521.20" x2="113.30" y2="523.40" stroke="#111" stroke-width="0.9"/>
<text x="134.28" y="531.60" font-size="8.7" text-anchor="end" font-weight="bold" fill="#111" stroke="#111" stroke-width="0.35" textLength="6.0" lengthAdjust="spacingAndGlyphs">10</text>
<text x="134.57" y="527.70" font-size="6.0" text-anchor="start" font-weight="bold" fill="#111" stroke="#111" stroke-width="0.25" textLength="2.8" lengthAdjust="spacingAndGlyphs">1</text>
<line x1="132.78" y1="521.20" x2="132.78" y2="523.40" stroke="#111" stroke-width="0.9"/>
<text x="154.05" y="531.60" font-size="8.7" text-anchor="end" font-weight="bold" fill="#111" stroke="#111" stroke-width="0.35" textLength="6.0" lengthAdjust="spacingAndGlyphs">10</text>
<text x="154.35" y="527.70" font-size="6.0" text-anchor="start" font-weight="bold" fill="#111" stroke="#111" stroke-width="0.25" textLength="2.8" lengthAdjust="spacingAndGlyphs">2</text>
<line x1="152.25" y1="521.20" x2="152.25" y2="523.40" stroke="#111" stroke-width="0.9"/>
<text x="173.12" y="531.60" font-size="8.7" text-anchor="end" font-weight="bold" fill="#111" stroke="#111" stroke-width="0.35" textLength="6.0" lengthAdjust="spacingAndGlyphs">10</text>
<text x="173.42" y="527.70" font-size="6.0" text-anchor="start" font-weight="bold" fill="#111" stroke="#111" stroke-width="0.25" textLength="2.8" lengthAdjust="spacingAndGlyphs">3</text>
<line x1="171.72" y1="521.20" x2="171.72" y2="523.40" stroke="#111" stroke-width="0.9"/>
<text x="192.30" y="531.60" font-size="8.7" text-anchor="end" font-weight="bold" fill="#111" stroke="#111" stroke-width="0.35" textLength="6.0" lengthAdjust="spacingAndGlyphs">10</text>
<text x="192.60" y="527.70" font-size="6.0" text-anchor="start" font-weight="bold" fill="#111" stroke="#111" stroke-width="0.25" textLength="2.8" lengthAdjust="spacingAndGlyphs">4</text>
<line x1="191.20" y1="521.20" x2="191.20" y2="523.40" stroke="#111" stroke-width="0.9"/>
<text x="151.47" y="537.50" font-size="5.9" text-anchor="middle" font-weight="bold" fill="#1a1a1a" stroke="#1a1a1a" stroke-width="0.25" textLength="16.4" lengthAdjust="spacingAndGlyphs">FL2-H</text>
<text transform="translate(109.20,521.00) rotate(-90)" font-size="8.0" text-anchor="middle" font-weight="bold" fill="#1a1a1a" stroke="#1a1a1a" stroke-width="0.3" textLength="3.5" lengthAdjust="spacingAndGlyphs">0</text>
<line x1="110.70" y1="521.00" x2="113.30" y2="521.00" stroke="#111" stroke-width="0.9"/>
<text transform="translate(109.20,509.00) rotate(-90)" font-size="8.0" text-anchor="middle" font-weight="bold" fill="#1a1a1a" stroke="#1a1a1a" stroke-width="0.3" textLength="7.0" lengthAdjust="spacingAndGlyphs">10</text>
<line x1="110.70" y1="509.00" x2="113.30" y2="509.00" stroke="#111" stroke-width="0.9"/>
<text transform="translate(109.20,497.00) rotate(-90)" font-size="8.0" text-anchor="middle" font-weight="bold" fill="#1a1a1a" stroke="#1a1a1a" stroke-width="0.3" textLength="7.0" lengthAdjust="spacingAndGlyphs">20</text>
<line x1="110.70" y1="497.00" x2="113.30" y2="497.00" stroke="#111" stroke-width="0.9"/>
<text transform="translate(109.20,485.00) rotate(-90)" font-size="8.0" text-anchor="middle" font-weight="bold" fill="#1a1a1a" stroke="#1a1a1a" stroke-width="0.3" textLength="7.0" lengthAdjust="spacingAndGlyphs">30</text>
<line x1="110.70" y1="485.00" x2="113.30" y2="485.00" stroke="#111" stroke-width="0.9"/>
<text transform="translate(109.20,473.00) rotate(-90)" font-size="8.0" text-anchor="middle" font-weight="bold" fill="#1a1a1a" stroke="#1a1a1a" stroke-width="0.3" textLength="7.0" lengthAdjust="spacingAndGlyphs">40</text>
<line x1="110.70" y1="473.00" x2="113.30" y2="473.00" stroke="#111" stroke-width="0.9"/>
<text transform="translate(109.20,461.00) rotate(-90)" font-size="8.0" text-anchor="middle" font-weight="bold" fill="#1a1a1a" stroke="#1a1a1a" stroke-width="0.3" textLength="7.0" lengthAdjust="spacingAndGlyphs">50</text>
<line x1="110.70" y1="461.00" x2="113.30" y2="461.00" stroke="#111" stroke-width="0.9"/>
<text transform="translate(100.90,492.40) rotate(-90)" font-size="6.4" text-anchor="middle" font-weight="bold" fill="#1a1a1a" stroke="#1a1a1a" stroke-width="0.3" textLength="19.5" lengthAdjust="spacingAndGlyphs">Counts</text>
<text x="155.00" y="477.50" font-size="10.7" text-anchor="start" font-weight="normal" fill="#111"  stroke="#111" stroke-width="0.22">MFI=3</text>
</g>
<g>
<path d="M229.30,521.20 L229.30,518.17 L230.01,515.29 L230.72,515.11 L231.43,512.07 L232.14,509.69 L232.85,505.27 L233.56,502.37 L234.26,492.52 L234.97,487.97 L235.68,482.96 L236.39,471.50 L237.10,468.10 L237.81,466.57 L238.52,467.28 L239.23,467.62 L239.94,475.07 L240.65,483.64 L241.36,489.02 L242.07,498.13 L242.77,499.21 L243.48,504.27 L244.19,507.87 L244.90,510.14 L245.61,510.75 L246.32,515.10 L247.03,513.17 L247.74,514.40 L248.45,516.59 L249.16,516.56 L249.87,518.52 L250.58,518.74 L251.28,519.26 L251.99,518.89 L252.70,519.89 L253.41,520.03 L254.12,520.20 L254.83,519.71 L255.54,520.55 L256.25,520.23 L256.96,519.83 L257.67,519.79 L258.38,520.22 L259.09,520.10 L259.79,519.74 L260.50,520.22 L261.21,519.87 L261.92,519.66 L262.63,520.25 L263.34,520.27 L264.05,520.67 L264.76,520.06 L265.47,519.97 L266.18,520.03 L266.89,520.67 L267.60,519.95 L268.30,519.85 L269.01,520.20 L269.72,520.52 L270.43,520.58 L271.14,520.32 L271.85,520.69 L272.56,520.63 L273.27,520.45 L273.98,520.60 L274.69,520.62 L275.40,520.68 L276.11,520.20 L276.81,520.72 L277.52,520.42 L278.23,520.54 L278.94,520.41 L279.65,520.57 L280.36,520.52 L281.07,520.54 L281.78,520.56 L282.49,520.40 L283.20,520.33 L283.91,520.66 L284.62,520.49 L285.32,521.08 L286.03,520.59 L286.74,520.61 L287.45,520.63 L288.16,520.79 L288.87,520.53 L289.58,520.74 L290.29,520.87 L291.00,520.51 L291.71,520.53 L292.42,520.96 L293.13,520.77 L293.83,520.91 L294.54,520.45 L295.25,520.60 L295.96,520.60 L296.67,520.95 L297.38,520.59 L298.09,520.85 L298.80,520.76 L299.51,520.76 L300.22,520.77 L300.93,520.91 L301.64,520.75 L302.34,520.92 L303.05,520.76 L303.76,521.09 L304.47,521.01 L305.18,520.84 L305.89,521.06 L306.60,520.83 L306.60,521.20 Z" fill="#c0c0c0" stroke="none"/>
<path d="M229.30,518.17 L230.01,515.29 L230.72,515.11 L231.43,512.07 L232.14,509.69 L232.85,505.27 L233.56,502.37 L234.26,492.52 L234.97,487.97 L235.68,482.96 L236.39,471.50 L237.10,468.10 L237.81,466.57 L238.52,467.28 L239.23,467.62 L239.94,475.07 L240.65,483.64 L241.36,489.02 L242.07,498.13 L242.77,499.21 L243.48,504.27 L244.19,507.87 L244.90,510.14 L245.61,510.75 L246.32,515.10 L247.03,513.17 L247.74,514.40 L248.45,516.59 L249.16,516.56 L249.87,518.52 L250.58,518.74 L251.28,519.26 L251.99,518.89 L252.70,519.89 L253.41,520.03 L254.12,520.20 L254.83,519.71 L255.54,520.55 L256.25,520.23 L256.96,519.83 L257.67,519.79 L258.38,520.22 L259.09,520.10 L259.79,519.74 L260.50,520.22 L261.21,519.87 L261.92,519.66 L262.63,520.25 L263.34,520.27 L264.05,520.67 L264.76,520.06 L265.47,519.97 L266.18,520.03 L266.89,520.67 L267.60,519.95 L268.30,519.85 L269.01,520.20 L269.72,520.52 L270.43,520.58 L271.14,520.32 L271.85,520.69 L272.56,520.63 L273.27,520.45 L273.98,520.60 L274.69,520.62 L275.40,520.68 L276.11,520.20 L276.81,520.72 L277.52,520.42 L278.23,520.54 L278.94,520.41 L279.65,520.57 L280.36,520.52 L281.07,520.54 L281.78,520.56 L282.49,520.40 L283.20,520.33 L283.91,520.66 L284.62,520.49 L285.32,521.08 L286.03,520.59 L286.74,520.61 L287.45,520.63 L288.16,520.79 L288.87,520.53 L289.58,520.74 L290.29,520.87 L291.00,520.51 L291.71,520.53 L292.42,520.96 L293.13,520.77 L293.83,520.91 L294.54,520.45 L295.25,520.60 L295.96,520.60 L296.67,520.95 L297.38,520.59 L298.09,520.85 L298.80,520.76 L299.51,520.76 L300.22,520.77 L300.93,520.91 L301.64,520.75 L302.34,520.92 L303.05,520.76 L303.76,521.09 L304.47,521.01 L305.18,520.84 L305.89,521.06 L306.60,520.83" fill="none" stroke="#111" stroke-width="1.5" stroke-linejoin="round"/>
<path d="M229.30,521.20 L230.01,521.00 L230.72,520.83 L231.43,520.14 L232.14,519.50 L232.85,519.40 L233.56,519.34 L234.26,518.33 L234.97,518.67 L235.68,515.99 L236.39,515.23 L237.10,515.54 L237.81,513.79 L238.52,512.58 L239.23,511.80 L239.94,509.72 L240.65,507.60 L241.36,506.69 L242.07,505.41 L242.77,505.39 L243.48,502.78 L244.19,500.50 L244.90,499.39 L245.61,495.30 L246.32,496.25 L247.03,491.58 L247.74,489.67 L248.45,488.22 L249.16,486.86 L249.87,487.84 L250.58,492.21 L251.28,493.40 L251.99,497.14 L252.70,498.85 L253.41,503.97 L254.12,506.04 L254.83,510.34 L255.54,510.26 L256.25,514.83 L256.96,515.21 L257.67,517.25 L258.38,517.51 L259.09,517.82 L259.79,518.39 L260.50,519.35 L261.21,518.58 L261.92,518.56 L262.63,518.01 L263.34,518.24 L264.05,517.59 L264.76,517.52 L265.47,517.64 L266.18,519.56 L266.89,518.61 L267.60,518.89 L268.30,518.58 L269.01,517.77 L269.72,518.38 L270.43,519.14 L271.14,519.47 L271.85,519.92 L272.56,520.16 L273.27,520.64 L273.98,520.43 L274.69,520.88 L275.40,520.82 L276.11,521.05 L276.81,520.73 L277.52,520.37 L278.23,521.08 L278.94,520.93 L279.65,520.18 L280.36,520.67 L281.07,520.71 L281.78,520.57 L282.49,520.85 L283.20,520.88 L283.91,520.12 L284.62,520.79 L285.32,520.63 L286.03,521.19 L286.74,521.14 L287.45,521.16 L288.16,520.37 L288.87,521.06 L289.58,520.81 L290.29,520.97 L291.00,520.81 L291.71,520.90 L292.42,520.68 L293.13,521.11 L293.83,520.64 L294.54,521.20 L295.25,520.87 L295.96,520.95 L296.67,521.04 L297.38,521.20 L298.09,520.71 L298.80,520.81 L299.51,521.06 L300.22,520.98 L300.93,521.03 L301.64,521.20 L302.34,521.05 L303.05,521.20 L303.76,520.93 L304.47,521.20 L305.18,521.20 L305.89,521.12 L306.60,521.20" fill="none" stroke="#222" stroke-width="1.3" stroke-linejoin="round"/>
<rect x="229.30" y="460.60" width="77.30" height="60.60" fill="none" stroke="#111" stroke-width="1.1"/>
<line x1="228.95" y1="460.10" x2="228.95" y2="521.70" stroke="#111" stroke-width="1.7"/>
<line x1="229.30" y1="521.20" x2="306.60" y2="521.20" stroke="#111" stroke-width="1.5"/>
<text x="231.40" y="531.60" font-size="8.7" text-anchor="end" font-weight="bold" fill="#111" stroke="#111" stroke-width="0.35" textLength="6.0" lengthAdjust="spacingAndGlyphs">10</text>
<text x="231.70" y="527.70" font-size="6.0" text-anchor="start" font-weight="bold" fill="#111" stroke="#111" stroke-width="0.25" textLength="2.8" lengthAdjust="spacingAndGlyphs">0</text>
<line x1="229.30" y1="521.20" x2="229.30" y2="523.40" stroke="#111" stroke-width="0.9"/>
<text x="250.12" y="531.60" font-size="8.7" text-anchor="end" font-weight="bold" fill="#111" stroke="#111" stroke-width="0.35" textLength="6.0" lengthAdjust="spacingAndGlyphs">10</text>
<text x="250.42" y="527.70" font-size="6.0" text-anchor="start" font-weight="bold" fill="#111" stroke="#111" stroke-width="0.25" textLength="2.8" lengthAdjust="spacingAndGlyphs">1</text>
<line x1="248.62" y1="521.20" x2="248.62" y2="523.40" stroke="#111" stroke-width="0.9"/>
<text x="269.75" y="531.60" font-size="8.7" text-anchor="end" font-weight="bold" fill="#111" stroke="#111" stroke-width="0.35" textLength="6.0" lengthAdjust="spacingAndGlyphs">10</text>
<text x="270.05" y="527.70" font-size="6.0" text-anchor="start" font-weight="bold" fill="#111" stroke="#111" stroke-width="0.25" textLength="2.8" lengthAdjust="spacingAndGlyphs">2</text>
<line x1="267.95" y1="521.20" x2="267.95" y2="523.40" stroke="#111" stroke-width="0.9"/>
<text x="288.68" y="531.60" font-size="8.7" text-anchor="end" font-weight="bold" fill="#111" stroke="#111" stroke-width="0.35" textLength="6.0" lengthAdjust="spacingAndGlyphs">10</text>
<text x="288.98" y="527.70" font-size="6.0" text-anchor="start" font-weight="bold" fill="#111" stroke="#111" stroke-width="0.25" textLength="2.8" lengthAdjust="spacingAndGlyphs">3</text>
<line x1="287.28" y1="521.20" x2="287.28" y2="523.40" stroke="#111" stroke-width="0.9"/>
<text x="307.70" y="531.60" font-size="8.7" text-anchor="end" font-weight="bold" fill="#111" stroke="#111" stroke-width="0.35" textLength="6.0" lengthAdjust="spacingAndGlyphs">10</text>
<text x="308.00" y="527.70" font-size="6.0" text-anchor="start" font-weight="bold" fill="#111" stroke="#111" stroke-width="0.25" textLength="2.8" lengthAdjust="spacingAndGlyphs">4</text>
<line x1="306.60" y1="521.20" x2="306.60" y2="523.40" stroke="#111" stroke-width="0.9"/>
<text x="267.18" y="537.50" font-size="5.9" text-anchor="middle" font-weight="bold" fill="#1a1a1a" stroke="#1a1a1a" stroke-width="0.25" textLength="16.4" lengthAdjust="spacingAndGlyphs">FL2-H</text>
<text transform="translate(225.20,521.00) rotate(-90)" font-size="8.0" text-anchor="middle" font-weight="bold" fill="#1a1a1a" stroke="#1a1a1a" stroke-width="0.3" textLength="3.5" lengthAdjust="spacingAndGlyphs">0</text>
<line x1="226.70" y1="521.00" x2="229.30" y2="521.00" stroke="#111" stroke-width="0.9"/>
<text transform="translate(225.20,509.00) rotate(-90)" font-size="8.0" text-anchor="middle" font-weight="bold" fill="#1a1a1a" stroke="#1a1a1a" stroke-width="0.3" textLength="7.0" lengthAdjust="spacingAndGlyphs">10</text>
<line x1="226.70" y1="509.00" x2="229.30" y2="509.00" stroke="#111" stroke-width="0.9"/>
<text transform="translate(225.20,497.00) rotate(-90)" font-size="8.0" text-anchor="middle" font-weight="bold" fill="#1a1a1a" stroke="#1a1a1a" stroke-width="0.3" textLength="7.0" lengthAdjust="spacingAndGlyphs">20</text>
<line x1="226.70" y1="497.00" x2="229.30" y2="497.00" stroke="#111" stroke-width="0.9"/>
<text transform="translate(225.20,485.00) rotate(-90)" font-size="8.0" text-anchor="middle" font-weight="bold" fill="#1a1a1a" stroke="#1a1a1a" stroke-width="0.3" textLength="7.0" lengthAdjust="spacingAndGlyphs">30</text>
<line x1="226.70" y1="485.00" x2="229.30" y2="485.00" stroke="#111" stroke-width="0.9"/>
<text transform="translate(225.20,473.00) rotate(-90)" font-size="8.0" text-anchor="middle" font-weight="bold" fill="#1a1a1a" stroke="#1a1a1a" stroke-width="0.3" textLength="7.0" lengthAdjust="spacingAndGlyphs">40</text>
<line x1="226.70" y1="473.00" x2="229.30" y2="473.00" stroke="#111" stroke-width="0.9"/>
<text transform="translate(225.20,461.00) rotate(-90)" font-size="8.0" text-anchor="middle" font-weight="bold" fill="#1a1a1a" stroke="#1a1a1a" stroke-width="0.3" textLength="7.0" lengthAdjust="spacingAndGlyphs">50</text>
<line x1="226.70" y1="461.00" x2="229.30" y2="461.00" stroke="#111" stroke-width="0.9"/>
<text transform="translate(217.50,492.40) rotate(-90)" font-size="6.4" text-anchor="middle" font-weight="bold" fill="#1a1a1a" stroke="#1a1a1a" stroke-width="0.3" textLength="19.5" lengthAdjust="spacingAndGlyphs">Counts</text>
<text x="263.80" y="477.50" font-size="10.7" text-anchor="start" font-weight="normal" fill="#111"  stroke="#111" stroke-width="0.22">MFI=10</text>
</g>
<g>
<path d="M331.20,521.00 L331.20,516.14 L331.91,514.80 L332.61,513.26 L333.32,512.43 L334.03,510.21 L334.74,508.41 L335.44,505.73 L336.15,499.87 L336.86,499.33 L337.57,494.68 L338.27,489.62 L338.98,485.28 L339.69,481.59 L340.40,476.61 L341.10,468.72 L341.81,469.49 L342.52,473.58 L343.22,474.96 L343.93,481.88 L344.64,488.15 L345.35,494.20 L346.05,496.29 L346.76,500.34 L347.47,506.54 L348.18,509.19 L348.88,511.39 L349.59,513.38 L350.30,514.17 L351.01,515.00 L351.71,516.38 L352.42,516.61 L353.13,517.05 L353.83,517.35 L354.54,518.33 L355.25,518.86 L355.96,519.08 L356.66,519.16 L357.37,519.61 L358.08,519.60 L358.79,519.62 L359.49,519.28 L360.20,519.34 L360.91,519.55 L361.62,518.84 L362.32,519.52 L363.03,519.56 L363.74,519.63 L364.44,519.04 L365.15,519.02 L365.86,519.67 L366.57,519.38 L367.27,519.35 L367.98,519.97 L368.69,520.11 L369.40,520.05 L370.10,518.90 L370.81,519.56 L371.52,519.58 L372.23,519.73 L372.93,519.84 L373.64,519.20 L374.35,519.99 L375.06,519.68 L375.76,519.15 L376.47,519.90 L377.18,519.85 L377.88,519.94 L378.59,520.19 L379.30,519.95 L380.01,519.58 L380.71,520.01 L381.42,519.94 L382.13,520.29 L382.84,520.60 L383.54,519.76 L384.25,520.41 L384.96,520.19 L385.67,520.18 L386.37,519.75 L387.08,520.44 L387.79,519.96 L388.49,520.63 L389.20,520.03 L389.91,519.97 L390.62,520.19 L391.32,520.19 L392.03,520.24 L392.74,520.10 L393.45,520.45 L394.15,519.81 L394.86,520.47 L395.57,520.42 L396.28,520.46 L396.98,520.45 L397.69,520.60 L398.40,520.55 L399.10,520.84 L399.81,520.91 L400.52,520.80 L401.23,520.53 L401.93,520.33 L402.64,520.88 L403.35,520.66 L404.06,520.89 L404.76,520.56 L405.47,520.75 L406.18,520.29 L406.89,520.84 L407.59,520.59 L408.30,520.79 L408.30,521.00 Z" fill="#c0c0c0" stroke="none"/>
<path d="M331.20,516.14 L331.91,514.80 L332.61,513.26 L333.32,512.43 L334.03,510.21 L334.74,508.41 L335.44,505.73 L336.15,499.87 L336.86,499.33 L337.57,494.68 L338.27,489.62 L338.98,485.28 L339.69,481.59 L340.40,476.61 L341.10,468.72 L341.81,469.49 L342.52,473.58 L343.22,474.96 L343.93,481.88 L344.64,488.15 L345.35,494.20 L346.05,496.29 L346.76,500.34 L347.47,506.54 L348.18,509.19 L348.88,511.39 L349.59,513.38 L350.30,514.17 L351.01,515.00 L351.71,516.38 L352.42,516.61 L353.13,517.05 L353.83,517.35 L354.54,518.33 L355.25,518.86 L355.96,519.08 L356.66,519.16 L357.37,519.61 L358.08,519.60 L358.79,519.62 L359.49,519.28 L360.20,519.34 L360.91,519.55 L361.62,518.84 L362.32,519.52 L363.03,519.56 L363.74,519.63 L364.44,519.04 L365.15,519.02 L365.86,519.67 L366.57,519.38 L367.27,519.35 L367.98,519.97 L368.69,520.11 L369.40,520.05 L370.10,518.90 L370.81,519.56 L371.52,519.58 L372.23,519.73 L372.93,519.84 L373.64,519.20 L374.35,519.99 L375.06,519.68 L375.76,519.15 L376.47,519.90 L377.18,519.85 L377.88,519.94 L378.59,520.19 L379.30,519.95 L380.01,519.58 L380.71,520.01 L381.42,519.94 L382.13,520.29 L382.84,520.60 L383.54,519.76 L384.25,520.41 L384.96,520.19 L385.67,520.18 L386.37,519.75 L387.08,520.44 L387.79,519.96 L388.49,520.63 L389.20,520.03 L389.91,519.97 L390.62,520.19 L391.32,520.19 L392.03,520.24 L392.74,520.10 L393.45,520.45 L394.15,519.81 L394.86,520.47 L395.57,520.42 L396.28,520.46 L396.98,520.45 L397.69,520.60 L398.40,520.55 L399.10,520.84 L399.81,520.91 L400.52,520.80 L401.23,520.53 L401.93,520.33 L402.64,520.88 L403.35,520.66 L404.06,520.89 L404.76,520.56 L405.47,520.75 L406.18,520.29 L406.89,520.84 L407.59,520.59 L408.30,520.79" fill="none" stroke="#111" stroke-width="1.5" stroke-linejoin="round"/>
<path d="M331.20,521.00 L331.91,520.47 L332.61,519.58 L333.32,520.17 L334.03,519.54 L334.74,518.43 L335.44,518.45 L336.15,517.74 L336.86,515.40 L337.57,515.61 L338.27,515.04 L338.98,511.99 L339.69,513.53 L340.40,511.01 L341.10,510.25 L341.81,507.49 L342.52,505.60 L343.22,506.50 L343.93,502.63 L344.64,497.47 L345.35,500.17 L346.05,497.60 L346.76,497.68 L347.47,492.34 L348.18,492.90 L348.88,487.73 L349.59,486.15 L350.30,483.13 L351.01,486.13 L351.71,481.86 L352.42,485.77 L353.13,486.38 L353.83,486.46 L354.54,494.86 L355.25,497.18 L355.96,498.06 L356.66,496.18 L357.37,501.65 L358.08,502.63 L358.79,505.86 L359.49,508.40 L360.20,508.84 L360.91,510.26 L361.62,511.32 L362.32,514.73 L363.03,512.31 L363.74,515.83 L364.44,514.82 L365.15,515.27 L365.86,516.42 L366.57,515.94 L367.27,517.95 L367.98,517.18 L368.69,516.96 L369.40,516.04 L370.10,515.21 L370.81,514.82 L371.52,516.98 L372.23,516.97 L372.93,518.44 L373.64,517.59 L374.35,518.32 L375.06,516.79 L375.76,517.59 L376.47,516.17 L377.18,518.34 L377.88,518.51 L378.59,517.95 L379.30,520.21 L380.01,519.22 L380.71,519.76 L381.42,519.62 L382.13,519.64 L382.84,519.07 L383.54,519.91 L384.25,519.04 L384.96,519.72 L385.67,520.74 L386.37,519.63 L387.08,519.74 L387.79,519.91 L388.49,519.90 L389.20,520.03 L389.91,519.84 L390.62,519.55 L391.32,519.93 L392.03,520.38 L392.74,519.85 L393.45,520.32 L394.15,520.08 L394.86,520.02 L395.57,520.59 L396.28,520.33 L396.98,520.29 L397.69,520.78 L398.40,520.83 L399.10,520.32 L399.81,520.53 L400.52,520.85 L401.23,520.38 L401.93,520.87 L402.64,520.80 L403.35,520.52 L404.06,520.66 L404.76,520.74 L405.47,521.00 L406.18,521.00 L406.89,521.00 L407.59,520.92 L408.30,520.79" fill="none" stroke="#222" stroke-width="1.3" stroke-linejoin="round"/>
<rect x="331.20" y="460.30" width="77.10" height="60.70" fill="none" stroke="#111" stroke-width="1.1"/>
<line x1="330.85" y1="459.80" x2="330.85" y2="521.50" stroke="#111" stroke-width="1.7"/>
<line x1="331.20" y1="521.00" x2="408.30" y2="521.00" stroke="#111" stroke-width="1.5"/>
<text x="333.90" y="531.40" font-size="8.7" text-anchor="end" font-weight="bold" fill="#111" stroke="#111" stroke-width="0.35" textLength="6.0" lengthAdjust="spacingAndGlyphs">10</text>
<text x="334.20" y="527.50" font-size="6.0" text-anchor="start" font-weight="bold" fill="#111" stroke="#111" stroke-width="0.25" textLength="2.8" lengthAdjust="spacingAndGlyphs">0</text>
<line x1="331.20" y1="521.00" x2="331.20" y2="523.20" stroke="#111" stroke-width="0.9"/>
<text x="352.88" y="531.40" font-size="8.7" text-anchor="end" font-weight="bold" fill="#111" stroke="#111" stroke-width="0.35" textLength="6.0" lengthAdjust="spacingAndGlyphs">10</text>
<text x="353.18" y="527.50" font-size="6.0" text-anchor="start" font-weight="bold" fill="#111" stroke="#111" stroke-width="0.25" textLength="2.8" lengthAdjust="spacingAndGlyphs">1</text>
<line x1="350.48" y1="521.00" x2="350.48" y2="523.20" stroke="#111" stroke-width="0.9"/>
<text x="371.75" y="531.40" font-size="8.7" text-anchor="end" font-weight="bold" fill="#111" stroke="#111" stroke-width="0.35" textLength="6.0" lengthAdjust="spacingAndGlyphs">10</text>
<text x="372.05" y="527.50" font-size="6.0" text-anchor="start" font-weight="bold" fill="#111" stroke="#111" stroke-width="0.25" textLength="2.8" lengthAdjust="spacingAndGlyphs">2</text>
<line x1="369.75" y1="521.00" x2="369.75" y2="523.20" stroke="#111" stroke-width="0.9"/>
<text x="390.72" y="531.40" font-size="8.7" text-anchor="end" font-weight="bold" fill="#111" stroke="#111" stroke-width="0.35" textLength="6.0" lengthAdjust="spacingAndGlyphs">10</text>
<text x="391.02" y="527.50" font-size="6.0" text-anchor="start" font-weight="bold" fill="#111" stroke="#111" stroke-width="0.25" textLength="2.8" lengthAdjust="spacingAndGlyphs">3</text>
<line x1="389.02" y1="521.00" x2="389.02" y2="523.20" stroke="#111" stroke-width="0.9"/>
<text x="409.40" y="531.40" font-size="8.7" text-anchor="end" font-weight="bold" fill="#111" stroke="#111" stroke-width="0.35" textLength="6.0" lengthAdjust="spacingAndGlyphs">10</text>
<text x="409.70" y="527.50" font-size="6.0" text-anchor="start" font-weight="bold" fill="#111" stroke="#111" stroke-width="0.25" textLength="2.8" lengthAdjust="spacingAndGlyphs">4</text>
<line x1="408.30" y1="521.00" x2="408.30" y2="523.20" stroke="#111" stroke-width="0.9"/>
<text x="368.98" y="537.30" font-size="6.8" text-anchor="middle" font-weight="bold" fill="#1a1a1a" stroke="#1a1a1a" stroke-width="0.25" textLength="16.4" lengthAdjust="spacingAndGlyphs">FL2-H</text>
<text transform="translate(327.10,521.00) rotate(-90)" font-size="7.4" text-anchor="middle" font-weight="bold" fill="#1a1a1a" stroke="#1a1a1a" stroke-width="0.3" textLength="3.3" lengthAdjust="spacingAndGlyphs">0</text>
<line x1="328.60" y1="521.00" x2="331.20" y2="521.00" stroke="#111" stroke-width="0.9"/>
<text transform="translate(327.10,511.00) rotate(-90)" font-size="7.4" text-anchor="middle" font-weight="bold" fill="#1a1a1a" stroke="#1a1a1a" stroke-width="0.3" textLength="6.6" lengthAdjust="spacingAndGlyphs">10</text>
<line x1="328.60" y1="511.00" x2="331.20" y2="511.00" stroke="#111" stroke-width="0.9"/>
<text transform="translate(327.10,501.00) rotate(-90)" font-size="7.4" text-anchor="middle" font-weight="bold" fill="#1a1a1a" stroke="#1a1a1a" stroke-width="0.3" textLength="6.6" lengthAdjust="spacingAndGlyphs">20</text>
<line x1="328.60" y1="501.00" x2="331.20" y2="501.00" stroke="#111" stroke-width="0.9"/>
<text transform="translate(327.10,491.00) rotate(-90)" font-size="7.4" text-anchor="middle" font-weight="bold" fill="#1a1a1a" stroke="#1a1a1a" stroke-width="0.3" textLength="6.6" lengthAdjust="spacingAndGlyphs">30</text>
<line x1="328.60" y1="491.00" x2="331.20" y2="491.00" stroke="#111" stroke-width="0.9"/>
<text transform="translate(327.10,481.00) rotate(-90)" font-size="7.4" text-anchor="middle" font-weight="bold" fill="#1a1a1a" stroke="#1a1a1a" stroke-width="0.3" textLength="6.6" lengthAdjust="spacingAndGlyphs">40</text>
<line x1="328.60" y1="481.00" x2="331.20" y2="481.00" stroke="#111" stroke-width="0.9"/>
<text transform="translate(327.10,471.00) rotate(-90)" font-size="7.4" text-anchor="middle" font-weight="bold" fill="#1a1a1a" stroke="#1a1a1a" stroke-width="0.3" textLength="6.6" lengthAdjust="spacingAndGlyphs">50</text>
<line x1="328.60" y1="471.00" x2="331.20" y2="471.00" stroke="#111" stroke-width="0.9"/>
<text transform="translate(327.10,461.00) rotate(-90)" font-size="7.4" text-anchor="middle" font-weight="bold" fill="#1a1a1a" stroke="#1a1a1a" stroke-width="0.3" textLength="6.6" lengthAdjust="spacingAndGlyphs">60</text>
<line x1="328.60" y1="461.00" x2="331.20" y2="461.00" stroke="#111" stroke-width="0.9"/>
<text transform="translate(318.80,492.15) rotate(-90)" font-size="6.4" text-anchor="middle" font-weight="bold" fill="#1a1a1a" stroke="#1a1a1a" stroke-width="0.3" textLength="19.5" lengthAdjust="spacingAndGlyphs">Counts</text>
<text x="364.50" y="476.80" font-size="10.7" text-anchor="start" font-weight="normal" fill="#111"  stroke="#111" stroke-width="0.22">MFI=10</text>
</g>
<g>
<path d="M437.00,521.20 L437.00,518.76 L437.71,516.05 L438.42,514.42 L439.13,512.64 L439.84,509.47 L440.55,506.23 L441.26,501.17 L441.97,496.25 L442.68,493.58 L443.39,488.65 L444.10,482.80 L444.81,472.67 L445.52,467.86 L446.23,467.29 L446.94,469.29 L447.65,471.20 L448.36,473.56 L449.07,480.33 L449.78,485.45 L450.49,488.16 L451.20,492.61 L451.91,497.75 L452.62,499.47 L453.33,503.34 L454.04,505.56 L454.75,508.48 L455.46,510.60 L456.17,512.86 L456.88,513.24 L457.59,514.97 L458.30,517.01 L459.01,516.69 L459.72,516.50 L460.43,518.83 L461.14,518.87 L461.85,519.54 L462.56,518.86 L463.27,518.75 L463.98,518.34 L464.69,519.20 L465.40,518.62 L466.11,519.25 L466.82,519.11 L467.53,519.07 L468.24,519.74 L468.95,519.42 L469.66,519.73 L470.37,518.83 L471.08,519.18 L471.79,519.13 L472.50,519.24 L473.21,519.67 L473.92,519.27 L474.63,519.41 L475.34,519.83 L476.06,519.51 L476.77,518.94 L477.48,519.03 L478.19,519.70 L478.90,519.65 L479.61,520.31 L480.32,519.77 L481.03,520.15 L481.74,520.04 L482.45,519.52 L483.16,520.24 L483.87,519.29 L484.58,519.85 L485.29,519.48 L486.00,519.59 L486.71,520.11 L487.42,520.06 L488.13,520.21 L488.84,519.92 L489.55,520.10 L490.26,520.17 L490.97,519.61 L491.68,519.67 L492.39,519.61 L493.10,520.03 L493.81,520.24 L494.52,519.86 L495.23,520.12 L495.94,520.16 L496.65,519.80 L497.36,520.03 L498.07,520.49 L498.78,520.68 L499.49,520.42 L500.20,520.47 L500.91,520.31 L501.62,520.11 L502.33,520.38 L503.04,520.47 L503.75,520.81 L504.46,520.65 L505.17,520.33 L505.88,520.59 L506.59,520.87 L507.30,520.60 L508.01,520.96 L508.72,520.87 L509.43,520.93 L510.14,520.65 L510.85,520.94 L511.56,520.70 L512.27,520.63 L512.98,520.88 L513.69,520.96 L514.40,521.09 L514.40,521.20 Z" fill="#c0c0c0" stroke="none"/>
<path d="M437.00,518.76 L437.71,516.05 L438.42,514.42 L439.13,512.64 L439.84,509.47 L440.55,506.23 L441.26,501.17 L441.97,496.25 L442.68,493.58 L443.39,488.65 L444.10,482.80 L444.81,472.67 L445.52,467.86 L446.23,467.29 L446.94,469.29 L447.65,471.20 L448.36,473.56 L449.07,480.33 L449.78,485.45 L450.49,488.16 L451.20,492.61 L451.91,497.75 L452.62,499.47 L453.33,503.34 L454.04,505.56 L454.75,508.48 L455.46,510.60 L456.17,512.86 L456.88,513.24 L457.59,514.97 L458.30,517.01 L459.01,516.69 L459.72,516.50 L460.43,518.83 L461.14,518.87 L461.85,519.54 L462.56,518.86 L463.27,518.75 L463.98,518.34 L464.69,519.20 L465.40,518.62 L466.11,519.25 L466.82,519.11 L467.53,519.07 L468.24,519.74 L468.95,519.42 L469.66,519.73 L470.37,518.83 L471.08,519.18 L471.79,519.13 L472.50,519.24 L473.21,519.67 L473.92,519.27 L474.63,519.41 L475.34,519.83 L476.06,519.51 L476.77,518.94 L477.48,519.03 L478.19,519.70 L478.90,519.65 L479.61,520.31 L480.32,519.77 L481.03,520.15 L481.74,520.04 L482.45,519.52 L483.16,520.24 L483.87,519.29 L484.58,519.85 L485.29,519.48 L486.00,519.59 L486.71,520.11 L487.42,520.06 L488.13,520.21 L488.84,519.92 L489.55,520.10 L490.26,520.17 L490.97,519.61 L491.68,519.67 L492.39,519.61 L493.10,520.03 L493.81,520.24 L494.52,519.86 L495.23,520.12 L495.94,520.16 L496.65,519.80 L497.36,520.03 L498.07,520.49 L498.78,520.68 L499.49,520.42 L500.20,520.47 L500.91,520.31 L501.62,520.11 L502.33,520.38 L503.04,520.47 L503.75,520.81 L504.46,520.65 L505.17,520.33 L505.88,520.59 L506.59,520.87 L507.30,520.60 L508.01,520.96 L508.72,520.87 L509.43,520.93 L510.14,520.65 L510.85,520.94 L511.56,520.70 L512.27,520.63 L512.98,520.88 L513.69,520.96 L514.40,521.09" fill="none" stroke="#111" stroke-width="1.5" stroke-linejoin="round"/>
<path d="M437.00,521.20 L437.71,520.85 L438.42,520.89 L439.13,520.75 L439.84,520.88 L440.55,520.34 L441.26,520.56 L441.97,520.31 L442.68,520.57 L443.39,520.15 L444.10,520.08 L444.81,519.67 L445.52,519.77 L446.23,520.24 L446.94,519.12 L447.65,518.03 L448.36,518.37 L449.07,517.57 L449.78,516.68 L450.49,515.48 L451.20,514.38 L451.91,513.25 L452.62,510.94 L453.33,507.13 L454.04,503.88 L454.75,499.97 L455.46,499.26 L456.17,493.05 L456.88,494.01 L457.59,488.04 L458.30,486.69 L459.01,483.05 L459.72,475.99 L460.43,479.39 L461.14,480.43 L461.85,485.87 L462.56,488.08 L463.27,492.15 L463.98,497.59 L464.69,499.62 L465.40,502.63 L466.11,507.31 L466.82,507.59 L467.53,511.24 L468.24,511.04 L468.95,513.97 L469.66,514.30 L470.37,515.88 L471.08,516.06 L471.79,516.90 L472.50,516.72 L473.21,517.13 L473.92,517.57 L474.63,517.63 L475.34,517.65 L476.06,517.57 L476.77,517.58 L477.48,517.78 L478.19,518.44 L478.90,517.66 L479.61,518.43 L480.32,517.98 L481.03,518.50 L481.74,518.12 L482.45,519.40 L483.16,518.52 L483.87,518.97 L484.58,518.43 L485.29,520.21 L486.00,517.73 L486.71,519.89 L487.42,518.78 L488.13,518.64 L488.84,518.19 L489.55,518.99 L490.26,519.34 L490.97,518.80 L491.68,519.27 L492.39,519.43 L493.10,519.16 L493.81,518.41 L494.52,519.43 L495.23,519.28 L495.94,518.88 L496.65,519.01 L497.36,518.37 L498.07,520.07 L498.78,518.86 L499.49,519.10 L500.20,519.51 L500.91,518.62 L501.62,519.56 L502.33,519.09 L503.04,518.42 L503.75,519.31 L504.46,518.74 L505.17,519.90 L505.88,518.36 L506.59,519.41 L507.30,518.89 L508.01,519.47 L508.72,519.85 L509.43,519.76 L510.14,519.38 L510.85,518.99 L511.56,519.68 L512.27,520.36 L512.98,520.45 L513.69,520.84 L514.40,521.17" fill="none" stroke="#222" stroke-width="1.3" stroke-linejoin="round"/>
<rect x="437.00" y="460.30" width="77.40" height="60.90" fill="none" stroke="#111" stroke-width="1.1"/>
<line x1="436.65" y1="459.80" x2="436.65" y2="521.70" stroke="#111" stroke-width="1.7"/>
<line x1="437.00" y1="521.20" x2="514.40" y2="521.20" stroke="#111" stroke-width="1.5"/>
<text x="439.70" y="531.60" font-size="8.7" text-anchor="end" font-weight="bold" fill="#111" stroke="#111" stroke-width="0.35" textLength="6.0" lengthAdjust="spacingAndGlyphs">10</text>
<text x="440.00" y="527.70" font-size="6.0" text-anchor="start" font-weight="bold" fill="#111" stroke="#111" stroke-width="0.25" textLength="2.8" lengthAdjust="spacingAndGlyphs">0</text>
<line x1="437.00" y1="521.20" x2="437.00" y2="523.40" stroke="#111" stroke-width="0.9"/>
<text x="458.75" y="531.60" font-size="8.7" text-anchor="end" font-weight="bold" fill="#111" stroke="#111" stroke-width="0.35" textLength="6.0" lengthAdjust="spacingAndGlyphs">10</text>
<text x="459.05" y="527.70" font-size="6.0" text-anchor="start" font-weight="bold" fill="#111" stroke="#111" stroke-width="0.25" textLength="2.8" lengthAdjust="spacingAndGlyphs">1</text>
<line x1="456.35" y1="521.20" x2="456.35" y2="523.40" stroke="#111" stroke-width="0.9"/>
<text x="477.70" y="531.60" font-size="8.7" text-anchor="end" font-weight="bold" fill="#111" stroke="#111" stroke-width="0.35" textLength="6.0" lengthAdjust="spacingAndGlyphs">10</text>
<text x="478.00" y="527.70" font-size="6.0" text-anchor="start" font-weight="bold" fill="#111" stroke="#111" stroke-width="0.25" textLength="2.8" lengthAdjust="spacingAndGlyphs">2</text>
<line x1="475.70" y1="521.20" x2="475.70" y2="523.40" stroke="#111" stroke-width="0.9"/>
<text x="496.75" y="531.60" font-size="8.7" text-anchor="end" font-weight="bold" fill="#111" stroke="#111" stroke-width="0.35" textLength="6.0" lengthAdjust="spacingAndGlyphs">10</text>
<text x="497.05" y="527.70" font-size="6.0" text-anchor="start" font-weight="bold" fill="#111" stroke="#111" stroke-width="0.25" textLength="2.8" lengthAdjust="spacingAndGlyphs">3</text>
<line x1="495.05" y1="521.20" x2="495.05" y2="523.40" stroke="#111" stroke-width="0.9"/>
<text x="515.50" y="531.60" font-size="8.7" text-anchor="end" font-weight="bold" fill="#111" stroke="#111" stroke-width="0.35" textLength="6.0" lengthAdjust="spacingAndGlyphs">10</text>
<text x="515.80" y="527.70" font-size="6.0" text-anchor="start" font-weight="bold" fill="#111" stroke="#111" stroke-width="0.25" textLength="2.8" lengthAdjust="spacingAndGlyphs">4</text>
<line x1="514.40" y1="521.20" x2="514.40" y2="523.40" stroke="#111" stroke-width="0.9"/>
<text x="474.93" y="537.50" font-size="6.8" text-anchor="middle" font-weight="bold" fill="#1a1a1a" stroke="#1a1a1a" stroke-width="0.25" textLength="16.4" lengthAdjust="spacingAndGlyphs">FL2-H</text>
<text transform="translate(432.90,521.00) rotate(-90)" font-size="7.4" text-anchor="middle" font-weight="bold" fill="#1a1a1a" stroke="#1a1a1a" stroke-width="0.3" textLength="3.3" lengthAdjust="spacingAndGlyphs">0</text>
<line x1="434.40" y1="521.00" x2="437.00" y2="521.00" stroke="#111" stroke-width="0.9"/>
<text transform="translate(432.90,511.00) rotate(-90)" font-size="7.4" text-anchor="middle" font-weight="bold" fill="#1a1a1a" stroke="#1a1a1a" stroke-width="0.3" textLength="6.6" lengthAdjust="spacingAndGlyphs">10</text>
<line x1="434.40" y1="511.00" x2="437.00" y2="511.00" stroke="#111" stroke-width="0.9"/>
<text transform="translate(432.90,501.00) rotate(-90)" font-size="7.4" text-anchor="middle" font-weight="bold" fill="#1a1a1a" stroke="#1a1a1a" stroke-width="0.3" textLength="6.6" lengthAdjust="spacingAndGlyphs">20</text>
<line x1="434.40" y1="501.00" x2="437.00" y2="501.00" stroke="#111" stroke-width="0.9"/>
<text transform="translate(432.90,491.00) rotate(-90)" font-size="7.4" text-anchor="middle" font-weight="bold" fill="#1a1a1a" stroke="#1a1a1a" stroke-width="0.3" textLength="6.6" lengthAdjust="spacingAndGlyphs">30</text>
<line x1="434.40" y1="491.00" x2="437.00" y2="491.00" stroke="#111" stroke-width="0.9"/>
<text transform="translate(432.90,481.00) rotate(-90)" font-size="7.4" text-anchor="middle" font-weight="bold" fill="#1a1a1a" stroke="#1a1a1a" stroke-width="0.3" textLength="6.6" lengthAdjust="spacingAndGlyphs">40</text>
<line x1="434.40" y1="481.00" x2="437.00" y2="481.00" stroke="#111" stroke-width="0.9"/>
<text transform="translate(432.90,471.00) rotate(-90)" font-size="7.4" text-anchor="middle" font-weight="bold" fill="#1a1a1a" stroke="#1a1a1a" stroke-width="0.3" textLength="6.6" lengthAdjust="spacingAndGlyphs">50</text>
<line x1="434.40" y1="471.00" x2="437.00" y2="471.00" stroke="#111" stroke-width="0.9"/>
<text transform="translate(432.90,461.00) rotate(-90)" font-size="7.4" text-anchor="middle" font-weight="bold" fill="#1a1a1a" stroke="#1a1a1a" stroke-width="0.3" textLength="6.6" lengthAdjust="spacingAndGlyphs">60</text>
<line x1="434.40" y1="461.00" x2="437.00" y2="461.00" stroke="#111" stroke-width="0.9"/>
<text transform="translate(424.60,492.25) rotate(-90)" font-size="6.4" text-anchor="middle" font-weight="bold" fill="#1a1a1a" stroke="#1a1a1a" stroke-width="0.3" textLength="19.5" lengthAdjust="spacingAndGlyphs">Counts</text>
<text x="473.40" y="476.00" font-size="10.7" text-anchor="start" font-weight="normal" fill="#111"  stroke="#111" stroke-width="0.22">MFI=15</text>
</g>
<text x="1.60" y="583.80" font-size="25.2" text-anchor="start" font-weight="bold" fill="#000" >C</text>
<path d="M33.8,598.5 V756.5 M33.8,755.0 H416 M110,755.0 v2 M187,755.0 v2 M262,755.0 v2 M339,755.0 v2 M416,755.0 v2" stroke="#444" stroke-width="1" fill="none"/>
<text x="28.30" y="759.10" font-size="11.4" text-anchor="end" fill="#111" stroke="#111" stroke-width="0.25" textLength="4.0" lengthAdjust="spacingAndGlyphs">0</text>
<line x1="31.8" y1="755.0" x2="33.8" y2="755.0" stroke="#222" stroke-width="0.8"/>
<text x="28.30" y="720.35" font-size="11.4" text-anchor="end" fill="#111" stroke="#111" stroke-width="0.25" textLength="4.0" lengthAdjust="spacingAndGlyphs">5</text>
<line x1="31.8" y1="716.25" x2="33.8" y2="716.25" stroke="#222" stroke-width="0.8"/>
<text x="28.30" y="681.60" font-size="11.4" text-anchor="end" fill="#111" stroke="#111" stroke-width="0.25" textLength="8.0" lengthAdjust="spacingAndGlyphs">10</text>
<line x1="31.8" y1="677.5" x2="33.8" y2="677.5" stroke="#222" stroke-width="0.8"/>
<text x="28.30" y="642.85" font-size="11.4" text-anchor="end" fill="#111" stroke="#111" stroke-width="0.25" textLength="8.0" lengthAdjust="spacingAndGlyphs">15</text>
<line x1="31.8" y1="638.75" x2="33.8" y2="638.75" stroke="#222" stroke-width="0.8"/>
<text x="28.30" y="604.10" font-size="11.4" text-anchor="end" fill="#111" stroke="#111" stroke-width="0.25" textLength="8.0" lengthAdjust="spacingAndGlyphs">20</text>
<line x1="31.8" y1="600.0" x2="33.8" y2="600.0" stroke="#222" stroke-width="0.8"/>
<text transform="translate(14.2,727.6) rotate(-90)" font-size="10.6" text-anchor="start" fill="#111" stroke="#111" stroke-width="0.2">% Specific</text>
<text transform="translate(14.2,643.8) rotate(-90)" font-size="10.6" text-anchor="end" fill="#111" stroke="#111" stroke-width="0.2">Lysis</text>
<rect x="40.75" y="718.00" width="10.50" height="37.00" fill="#000" stroke="#111" stroke-width="1.15"/>
<path d="M46.50,711.50 V718.50 M43.50,711.50 h6 M43.50,718.50 h6" stroke="#111" stroke-width="1" fill="none"/>
<rect x="51.25" y="636.25" width="10.00" height="118.75" fill="url(#dots)" stroke="#111" stroke-width="1.15"/>
<path d="M56.50,624.50 V647.50 M53.50,624.50 h6 M53.50,647.50 h6" stroke="#111" stroke-width="1" fill="none"/>
<rect x="61.25" y="729.25" width="10.75" height="25.75" fill="url(#hb)" stroke="#111" stroke-width="1.15"/>
<path d="M66.50,721.50 V737.50 M63.50,721.50 h6 M63.50,737.50 h6" stroke="#111" stroke-width="1" fill="none"/>
<rect x="72.00" y="701.75" width="10.00" height="53.25" fill="#fff" stroke="#111" stroke-width="1.15"/>
<path d="M76.50,693.50 V709.50 M73.50,693.50 h6 M73.50,709.50 h6" stroke="#111" stroke-width="1" fill="none"/>
<rect x="82.00" y="715.00" width="10.50" height="40.00" fill="url(#hf)" stroke="#111" stroke-width="1.15"/>
<path d="M87.50,711.50 V717.50 M84.50,711.50 h6 M84.50,717.50 h6" stroke="#111" stroke-width="1" fill="none"/>
<rect x="92.50" y="626.25" width="10.00" height="128.75" fill="#6b6b6b" stroke="#111" stroke-width="1.15"/>
<path d="M97.50,616.50 V635.50 M94.50,616.50 h6 M94.50,635.50 h6" stroke="#111" stroke-width="1" fill="none"/>
<rect x="117.30" y="717.70" width="10.20" height="37.30" fill="#000" stroke="#111" stroke-width="1.15"/>
<path d="M122.50,710.50 V717.50 M119.50,710.50 h6 M119.50,717.50 h6" stroke="#111" stroke-width="1" fill="none"/>
<rect x="127.50" y="639.20" width="10.40" height="115.80" fill="url(#dots)" stroke="#111" stroke-width="1.15"/>
<path d="M132.50,631.50 V646.50 M129.50,631.50 h6 M129.50,646.50 h6" stroke="#111" stroke-width="1" fill="none"/>
<rect x="137.90" y="723.80" width="10.10" height="31.20" fill="url(#hb)" stroke="#111" stroke-width="1.15"/>
<path d="M142.50,720.50 V726.50 M139.50,720.50 h6 M139.50,726.50 h6" stroke="#111" stroke-width="1" fill="none"/>
<rect x="148.00" y="700.00" width="10.20" height="55.00" fill="#fff" stroke="#111" stroke-width="1.15"/>
<path d="M153.50,694.50 V706.50 M150.50,694.50 h6 M150.50,706.50 h6" stroke="#111" stroke-width="1" fill="none"/>
<rect x="158.20" y="716.80" width="10.50" height="38.20" fill="url(#hf)" stroke="#111" stroke-width="1.15"/>
<path d="M163.50,711.50 V721.50 M160.50,711.50 h6 M160.50,721.50 h6" stroke="#111" stroke-width="1" fill="none"/>
<rect x="168.70" y="631.50" width="10.10" height="123.50" fill="#6b6b6b" stroke="#111" stroke-width="1.15"/>
<path d="M173.50,626.50 V637.50 M170.50,626.50 h6 M170.50,637.50 h6" stroke="#111" stroke-width="1" fill="none"/>
<rect x="193.30" y="725.40" width="10.20" height="29.60" fill="#000" stroke="#111" stroke-width="1.15"/>
<path d="M198.50,717.50 V725.50 M195.50,717.50 h6 M195.50,725.50 h6" stroke="#111" stroke-width="1" fill="none"/>
<rect x="203.50" y="618.30" width="10.70" height="136.70" fill="url(#dots)" stroke="#111" stroke-width="1.15"/>
<path d="M208.50,602.50 V634.50 M205.50,602.50 h6 M205.50,634.50 h6" stroke="#111" stroke-width="1" fill="none"/>
<rect x="214.20" y="719.80" width="10.20" height="35.20" fill="url(#hb)" stroke="#111" stroke-width="1.15"/>
<path d="M219.50,714.50 V725.50 M216.50,714.50 h6 M216.50,725.50 h6" stroke="#111" stroke-width="1" fill="none"/>
<rect x="224.40" y="704.80" width="9.80" height="50.20" fill="#fff" stroke="#111" stroke-width="1.15"/>
<path d="M229.50,699.50 V710.50 M226.50,699.50 h6 M226.50,710.50 h6" stroke="#111" stroke-width="1" fill="none"/>
<rect x="234.20" y="717.70" width="10.80" height="37.30" fill="url(#hf)" stroke="#111" stroke-width="1.15"/>
<path d="M239.50,710.50 V725.50 M236.50,710.50 h6 M236.50,725.50 h6" stroke="#111" stroke-width="1" fill="none"/>
<rect x="245.00" y="614.60" width="10.20" height="140.40" fill="#6b6b6b" stroke="#111" stroke-width="1.15"/>
<path d="M250.50,599.50 V630.50 M247.50,599.50 h6 M247.50,630.50 h6" stroke="#111" stroke-width="1" fill="none"/>
<rect x="270.00" y="622.60" width="10.50" height="132.40" fill="#000" stroke="#111" stroke-width="1.15"/>
<path d="M275.50,607.50 V622.50 M272.50,607.50 h6 M272.50,622.50 h6" stroke="#111" stroke-width="1" fill="none"/>
<rect x="280.50" y="630.80" width="9.00" height="124.20" fill="url(#dots)" stroke="#111" stroke-width="1.15"/>
<path d="M284.50,612.50 V648.50 M281.50,612.50 h6 M281.50,648.50 h6" stroke="#111" stroke-width="1" fill="none"/>
<rect x="289.50" y="614.60" width="11.70" height="140.40" fill="url(#hb)" stroke="#111" stroke-width="1.15"/>
<path d="M295.50,602.50 V626.50 M292.50,602.50 h6 M292.50,626.50 h6" stroke="#111" stroke-width="1" fill="none"/>
<rect x="301.20" y="633.80" width="9.30" height="121.20" fill="#fff" stroke="#111" stroke-width="1.15"/>
<path d="M305.50,618.50 V646.50 M302.50,618.50 h6 M302.50,646.50 h6" stroke="#111" stroke-width="1" fill="none"/>
<rect x="310.50" y="618.50" width="10.70" height="136.50" fill="url(#hf)" stroke="#111" stroke-width="1.15"/>
<path d="M315.50,602.50 V634.50 M312.50,602.50 h6 M312.50,634.50 h6" stroke="#111" stroke-width="1" fill="none"/>
<rect x="321.20" y="614.60" width="9.60" height="140.40" fill="#6b6b6b" stroke="#111" stroke-width="1.15"/>
<path d="M326.50,598.50 V630.50 M323.50,598.50 h6 M323.50,630.50 h6" stroke="#111" stroke-width="1" fill="none"/>
<rect x="346.30" y="725.60" width="10.20" height="29.40" fill="#000" stroke="#111" stroke-width="1.15"/>
<path d="M351.50,719.50 V725.50 M348.50,719.50 h6 M348.50,725.50 h6" stroke="#111" stroke-width="1" fill="none"/>
<rect x="356.50" y="723.00" width="9.80" height="32.00" fill="url(#dots)" stroke="#111" stroke-width="1.15"/>
<path d="M361.50,717.50 V728.50 M358.50,717.50 h6 M358.50,728.50 h6" stroke="#111" stroke-width="1" fill="none"/>
<rect x="366.30" y="716.00" width="11.00" height="39.00" fill="url(#hb)" stroke="#111" stroke-width="1.15"/>
<path d="M371.50,708.50 V722.50 M368.50,708.50 h6 M368.50,722.50 h6" stroke="#111" stroke-width="1" fill="none"/>
<rect x="377.30" y="718.50" width="9.50" height="36.50" fill="#fff" stroke="#111" stroke-width="1.15"/>
<path d="M382.50,711.50 V725.50 M379.50,711.50 h6 M379.50,725.50 h6" stroke="#111" stroke-width="1" fill="none"/>
<rect x="386.80" y="720.80" width="10.60" height="34.20" fill="url(#hf)" stroke="#111" stroke-width="1.15"/>
<path d="M392.50,719.50 V722.50 M389.50,719.50 h6 M389.50,722.50 h6" stroke="#111" stroke-width="1" fill="none"/>
<rect x="397.40" y="716.20" width="10.10" height="38.80" fill="#6b6b6b" stroke="#111" stroke-width="1.15"/>
<path d="M402.50,708.50 V722.50 M399.50,708.50 h6 M399.50,722.50 h6" stroke="#111" stroke-width="1" fill="none"/>
<rect x="35.50" y="764.50" width="76.00" height="20.00" fill="#fff" stroke="#6a6a6a" stroke-width="1"/>
<text x="74.80" y="777.40" font-size="9.45" text-anchor="middle" font-weight="normal" fill="#111" stroke="#111" stroke-width="0.35">NK A</text>
<rect x="111.50" y="764.50" width="76.00" height="20.00" fill="#fff" stroke="#6a6a6a" stroke-width="1"/>
<text x="149.00" y="777.40" font-size="9.45" text-anchor="middle" font-weight="normal" fill="#111" stroke="#111" stroke-width="0.35">NK B</text>
<rect x="196.50" y="764.50" width="60.00" height="20.00" fill="#fff" stroke="#6a6a6a" stroke-width="1"/>
<text x="226.00" y="777.40" font-size="9.45" text-anchor="middle" font-weight="normal" fill="#111" stroke="#111" stroke-width="0.35">NK C</text>
<rect x="262.50" y="764.50" width="76.00" height="28.00" fill="#fff" stroke="#6a6a6a" stroke-width="1"/>
<text x="301.80" y="775.40" font-size="9.45" text-anchor="middle" font-weight="normal" fill="#111" stroke="#111" stroke-width="0.35">NK Sister</text>
<text x="301.80" y="787.00" font-size="9.45" text-anchor="middle" font-weight="normal" fill="#111" stroke="#111" stroke-width="0.35">CEACAM1(-)</text>
<rect x="339.50" y="765.50" width="79.00" height="31.00" fill="#fff" stroke="#6a6a6a" stroke-width="1"/>
<text x="378.00" y="778.90" font-size="9.45" text-anchor="middle" font-weight="normal" fill="#111" stroke="#111" stroke-width="0.35">NK C</text>
<text x="378.00" y="790.50" font-size="9.45" text-anchor="middle" font-weight="normal" fill="#111" stroke="#111" stroke-width="0.35">CEACAM1(-)</text>
<rect x="352.8" y="566.9" width="5" height="5" fill="#000" stroke="#111" stroke-width="0.9"/>
<text x="360.90" y="572.30" font-size="10.1" text-anchor="start" font-weight="normal" fill="#111" stroke="#111" stroke-width="0.3">No Ab.</text>
<rect x="352.8" y="588.4" width="5" height="5" fill="#fff" stroke="#111" stroke-width="0.9"/>
<text x="360.90" y="593.80" font-size="10.1" text-anchor="start" font-weight="normal" fill="#111" stroke="#111" stroke-width="0.3">Anti-CEACAM F(ab')2</text>
<rect x="352.8" y="611.9" width="5" height="5" fill="#fff" stroke="#111" stroke-width="0.9"/>
<path d="M352.8,611.9 l5,5" stroke="#111" stroke-width="1.5"/>
<text x="360.90" y="617.30" font-size="10.1" text-anchor="start" font-weight="normal" fill="#111" stroke="#111" stroke-width="0.3">Anti-Ubq F(ab')2</text>
<rect x="352.8" y="635.1" width="5" height="5" fill="#fff" stroke="#111" stroke-width="0.9"/>
<text x="360.90" y="640.50" font-size="10.1" text-anchor="start" font-weight="normal" fill="#111" stroke="#111" stroke-width="0.3">1F7 F(ab')2</text>
<rect x="352.8" y="657.6" width="5" height="5" fill="#fff" stroke="#111" stroke-width="0.9"/>
<path d="M352.8,662.6 l5,-5" stroke="#111" stroke-width="1.5"/>
<text x="360.90" y="663.00" font-size="10.1" text-anchor="start" font-weight="normal" fill="#111" stroke="#111" stroke-width="0.3">12E7 F(ab')2</text>
<rect x="352.8" y="681.1" width="5" height="5" fill="#6b6b6b" stroke="#111" stroke-width="0.9"/>
<text x="360.90" y="686.50" font-size="10.1" text-anchor="start" font-weight="normal" fill="#111" stroke="#111" stroke-width="0.3" textLength="157.6" lengthAdjust="spacingAndGlyphs">Anti-CEACAM F(ab')2 + 1F7 F(ab')2</text>
<text x="1.40" y="833.80" font-size="25.2" text-anchor="start" font-weight="bold" fill="#000" >D</text>
<path d="M32.5,837.5 V994.3 M32.5,992.8 H356.3 M113.5,992.8 v2 M194.8,992.8 v2 M275.5,992.8 v2 M356.3,992.8 v2" stroke="#444" stroke-width="1" fill="none"/>
<text x="28.20" y="996.90" font-size="11.4" text-anchor="end" fill="#111" stroke="#111" stroke-width="0.25" textLength="4.0" lengthAdjust="spacingAndGlyphs">0</text>
<line x1="30.5" y1="992.8" x2="32.5" y2="992.8" stroke="#222" stroke-width="0.8"/>
<text x="28.20" y="967.90" font-size="11.4" text-anchor="end" fill="#111" stroke="#111" stroke-width="0.25" textLength="4.0" lengthAdjust="spacingAndGlyphs">5</text>
<line x1="30.5" y1="963.8" x2="32.5" y2="963.8" stroke="#222" stroke-width="0.8"/>
<text x="28.20" y="938.90" font-size="11.4" text-anchor="end" fill="#111" stroke="#111" stroke-width="0.25" textLength="8.0" lengthAdjust="spacingAndGlyphs">10</text>
<line x1="30.5" y1="934.8" x2="32.5" y2="934.8" stroke="#222" stroke-width="0.8"/>
<text x="28.20" y="909.90" font-size="11.4" text-anchor="end" fill="#111" stroke="#111" stroke-width="0.25" textLength="8.0" lengthAdjust="spacingAndGlyphs">15</text>
<line x1="30.5" y1="905.8" x2="32.5" y2="905.8" stroke="#222" stroke-width="0.8"/>
<text x="28.20" y="880.90" font-size="11.4" text-anchor="end" fill="#111" stroke="#111" stroke-width="0.25" textLength="8.0" lengthAdjust="spacingAndGlyphs">20</text>
<line x1="30.5" y1="876.8" x2="32.5" y2="876.8" stroke="#222" stroke-width="0.8"/>
<text x="28.20" y="851.90" font-size="11.4" text-anchor="end" fill="#111" stroke="#111" stroke-width="0.25" textLength="8.0" lengthAdjust="spacingAndGlyphs">25</text>
<line x1="30.5" y1="847.8" x2="32.5" y2="847.8" stroke="#222" stroke-width="0.8"/>
<text transform="translate(11.2,961.3) rotate(-90)" font-size="10.9" text-anchor="start" fill="#111" stroke="#111" stroke-width="0.2">% Specific</text>
<text transform="translate(11.2,880) rotate(-90)" font-size="10.9" text-anchor="end" fill="#111" stroke="#111" stroke-width="0.2">Lysis</text>
<rect x="40.75" y="967.00" width="10.50" height="25.80" fill="#000" stroke="#111" stroke-width="1.15"/>
<path d="M46.50,961.50 V966.50 M43.50,961.50 h6 M43.50,966.50 h6" stroke="#111" stroke-width="1" fill="none"/>
<rect x="51.25" y="928.75" width="11.25" height="64.05" fill="url(#dots)" stroke="#111" stroke-width="1.15"/>
<path d="M56.50,919.50 V938.50 M53.50,919.50 h6 M53.50,938.50 h6" stroke="#111" stroke-width="1" fill="none"/>
<rect x="62.50" y="963.75" width="10.75" height="29.05" fill="url(#hb)" stroke="#111" stroke-width="1.15"/>
<path d="M67.50,957.50 V970.50 M64.50,957.50 h6 M64.50,970.50 h6" stroke="#111" stroke-width="1" fill="none"/>
<rect x="73.25" y="931.75" width="11.00" height="61.05" fill="#fff" stroke="#111" stroke-width="1.15"/>
<path d="M78.50,922.50 V940.50 M75.50,922.50 h6 M75.50,940.50 h6" stroke="#111" stroke-width="1" fill="none"/>
<rect x="84.25" y="970.50" width="10.75" height="22.30" fill="url(#hf)" stroke="#111" stroke-width="1.15"/>
<path d="M89.50,967.50 V972.50 M86.50,967.50 h6 M86.50,972.50 h6" stroke="#111" stroke-width="1" fill="none"/>
<rect x="95.00" y="871.25" width="10.75" height="121.55" fill="#6b6b6b" stroke="#111" stroke-width="1.15"/>
<path d="M100.50,855.50 V886.50 M97.50,855.50 h6 M97.50,886.50 h6" stroke="#111" stroke-width="1" fill="none"/>
<rect x="122.30" y="968.00" width="10.50" height="24.80" fill="#000" stroke="#111" stroke-width="1.15"/>
<path d="M127.50,961.50 V968.50 M124.50,961.50 h6 M124.50,968.50 h6" stroke="#111" stroke-width="1" fill="none"/>
<rect x="132.80" y="940.50" width="10.80" height="52.30" fill="url(#dots)" stroke="#111" stroke-width="1.15"/>
<path d="M138.50,929.50 V950.50 M135.50,929.50 h6 M135.50,950.50 h6" stroke="#111" stroke-width="1" fill="none"/>
<rect x="143.60" y="971.20" width="11.10" height="21.60" fill="url(#hb)" stroke="#111" stroke-width="1.15"/>
<path d="M149.50,967.50 V974.50 M146.50,967.50 h6 M146.50,974.50 h6" stroke="#111" stroke-width="1" fill="none"/>
<rect x="154.70" y="934.60" width="10.80" height="58.20" fill="#fff" stroke="#111" stroke-width="1.15"/>
<path d="M160.50,920.50 V948.50 M157.50,920.50 h6 M157.50,948.50 h6" stroke="#111" stroke-width="1" fill="none"/>
<rect x="165.50" y="971.50" width="10.40" height="21.30" fill="url(#hf)" stroke="#111" stroke-width="1.15"/>
<path d="M170.50,968.50 V973.50 M167.50,968.50 h6 M167.50,973.50 h6" stroke="#111" stroke-width="1" fill="none"/>
<rect x="175.90" y="876.70" width="10.80" height="116.10" fill="#6b6b6b" stroke="#111" stroke-width="1.15"/>
<path d="M181.50,869.50 V884.50 M178.50,869.50 h6 M178.50,884.50 h6" stroke="#111" stroke-width="1" fill="none"/>
<rect x="202.40" y="966.30" width="11.10" height="26.50" fill="#000" stroke="#111" stroke-width="1.15"/>
<path d="M207.50,962.50 V966.50 M204.50,962.50 h6 M204.50,966.50 h6" stroke="#111" stroke-width="1" fill="none"/>
<rect x="213.50" y="932.30" width="10.80" height="60.50" fill="url(#dots)" stroke="#111" stroke-width="1.15"/>
<path d="M218.50,920.50 V943.50 M215.50,920.50 h6 M215.50,943.50 h6" stroke="#111" stroke-width="1" fill="none"/>
<rect x="224.30" y="965.00" width="10.80" height="27.80" fill="url(#hb)" stroke="#111" stroke-width="1.15"/>
<path d="M229.50,956.50 V973.50 M226.50,956.50 h6 M226.50,973.50 h6" stroke="#111" stroke-width="1" fill="none"/>
<rect x="235.10" y="923.20" width="11.10" height="69.60" fill="#fff" stroke="#111" stroke-width="1.15"/>
<path d="M240.50,912.50 V933.50 M237.50,912.50 h6 M237.50,933.50 h6" stroke="#111" stroke-width="1" fill="none"/>
<rect x="246.20" y="968.90" width="10.80" height="23.90" fill="url(#hf)" stroke="#111" stroke-width="1.15"/>
<path d="M251.50,962.50 V975.50 M248.50,962.50 h6 M248.50,975.50 h6" stroke="#111" stroke-width="1" fill="none"/>
<rect x="257.00" y="882.30" width="10.80" height="110.50" fill="#6b6b6b" stroke="#111" stroke-width="1.15"/>
<path d="M262.50,870.50 V895.50 M259.50,870.50 h6 M259.50,895.50 h6" stroke="#111" stroke-width="1" fill="none"/>
<rect x="284.25" y="967.00" width="10.75" height="25.80" fill="#000" stroke="#111" stroke-width="1.15"/>
<path d="M289.50,962.50 V966.50 M286.50,962.50 h6 M286.50,966.50 h6" stroke="#111" stroke-width="1" fill="none"/>
<rect x="295.00" y="955.75" width="10.75" height="37.05" fill="url(#dots)" stroke="#111" stroke-width="1.15"/>
<path d="M300.50,948.50 V962.50 M297.50,948.50 h6 M297.50,962.50 h6" stroke="#111" stroke-width="1" fill="none"/>
<rect x="305.75" y="962.50" width="11.00" height="30.30" fill="url(#hb)" stroke="#111" stroke-width="1.15"/>
<path d="M311.50,955.50 V968.50 M308.50,955.50 h6 M308.50,968.50 h6" stroke="#111" stroke-width="1" fill="none"/>
<rect x="316.75" y="854.25" width="10.75" height="138.55" fill="#fff" stroke="#111" stroke-width="1.15"/>
<path d="M322.50,846.50 V861.50 M319.50,846.50 h6 M319.50,861.50 h6" stroke="#111" stroke-width="1" fill="none"/>
<rect x="327.50" y="971.25" width="10.75" height="21.55" fill="url(#hf)" stroke="#111" stroke-width="1.15"/>
<path d="M332.50,962.50 V979.50 M329.50,962.50 h6 M329.50,979.50 h6" stroke="#111" stroke-width="1" fill="none"/>
<rect x="338.25" y="845.50" width="10.50" height="147.30" fill="#6b6b6b" stroke="#111" stroke-width="1.15"/>
<path d="M343.50,838.50 V852.50 M340.50,838.50 h6 M340.50,852.50 h6" stroke="#111" stroke-width="1" fill="none"/>
<rect x="35.50" y="1001.50" width="75.00" height="20.00" fill="#fff" stroke="#6a6a6a" stroke-width="1"/>
<text x="73.30" y="1015.00" font-size="9.45" text-anchor="middle" font-weight="normal" fill="#111" stroke="#111" stroke-width="0.35">NK A</text>
<rect x="117.50" y="1001.50" width="75.00" height="20.00" fill="#fff" stroke="#6a6a6a" stroke-width="1"/>
<text x="154.50" y="1015.00" font-size="9.45" text-anchor="middle" font-weight="normal" fill="#111" stroke="#111" stroke-width="0.35">NK B</text>
<rect x="205.50" y="1001.50" width="60.00" height="20.00" fill="#fff" stroke="#6a6a6a" stroke-width="1"/>
<text x="236.00" y="1015.00" font-size="9.45" text-anchor="middle" font-weight="normal" fill="#111" stroke="#111" stroke-width="0.35">NK C</text>
<rect x="277.50" y="1001.50" width="81.00" height="31.00" fill="#fff" stroke="#6a6a6a" stroke-width="1"/>
<text x="317.00" y="1015.00" font-size="9.45" text-anchor="middle" font-weight="normal" fill="#111" stroke="#111" stroke-width="0.35">NK Sister</text>
<text x="317.00" y="1026.60" font-size="9.45" text-anchor="middle" font-weight="normal" fill="#111" stroke="#111" stroke-width="0.35">CEACAM1(-)</text>
</g>
</svg>
</body></html>
